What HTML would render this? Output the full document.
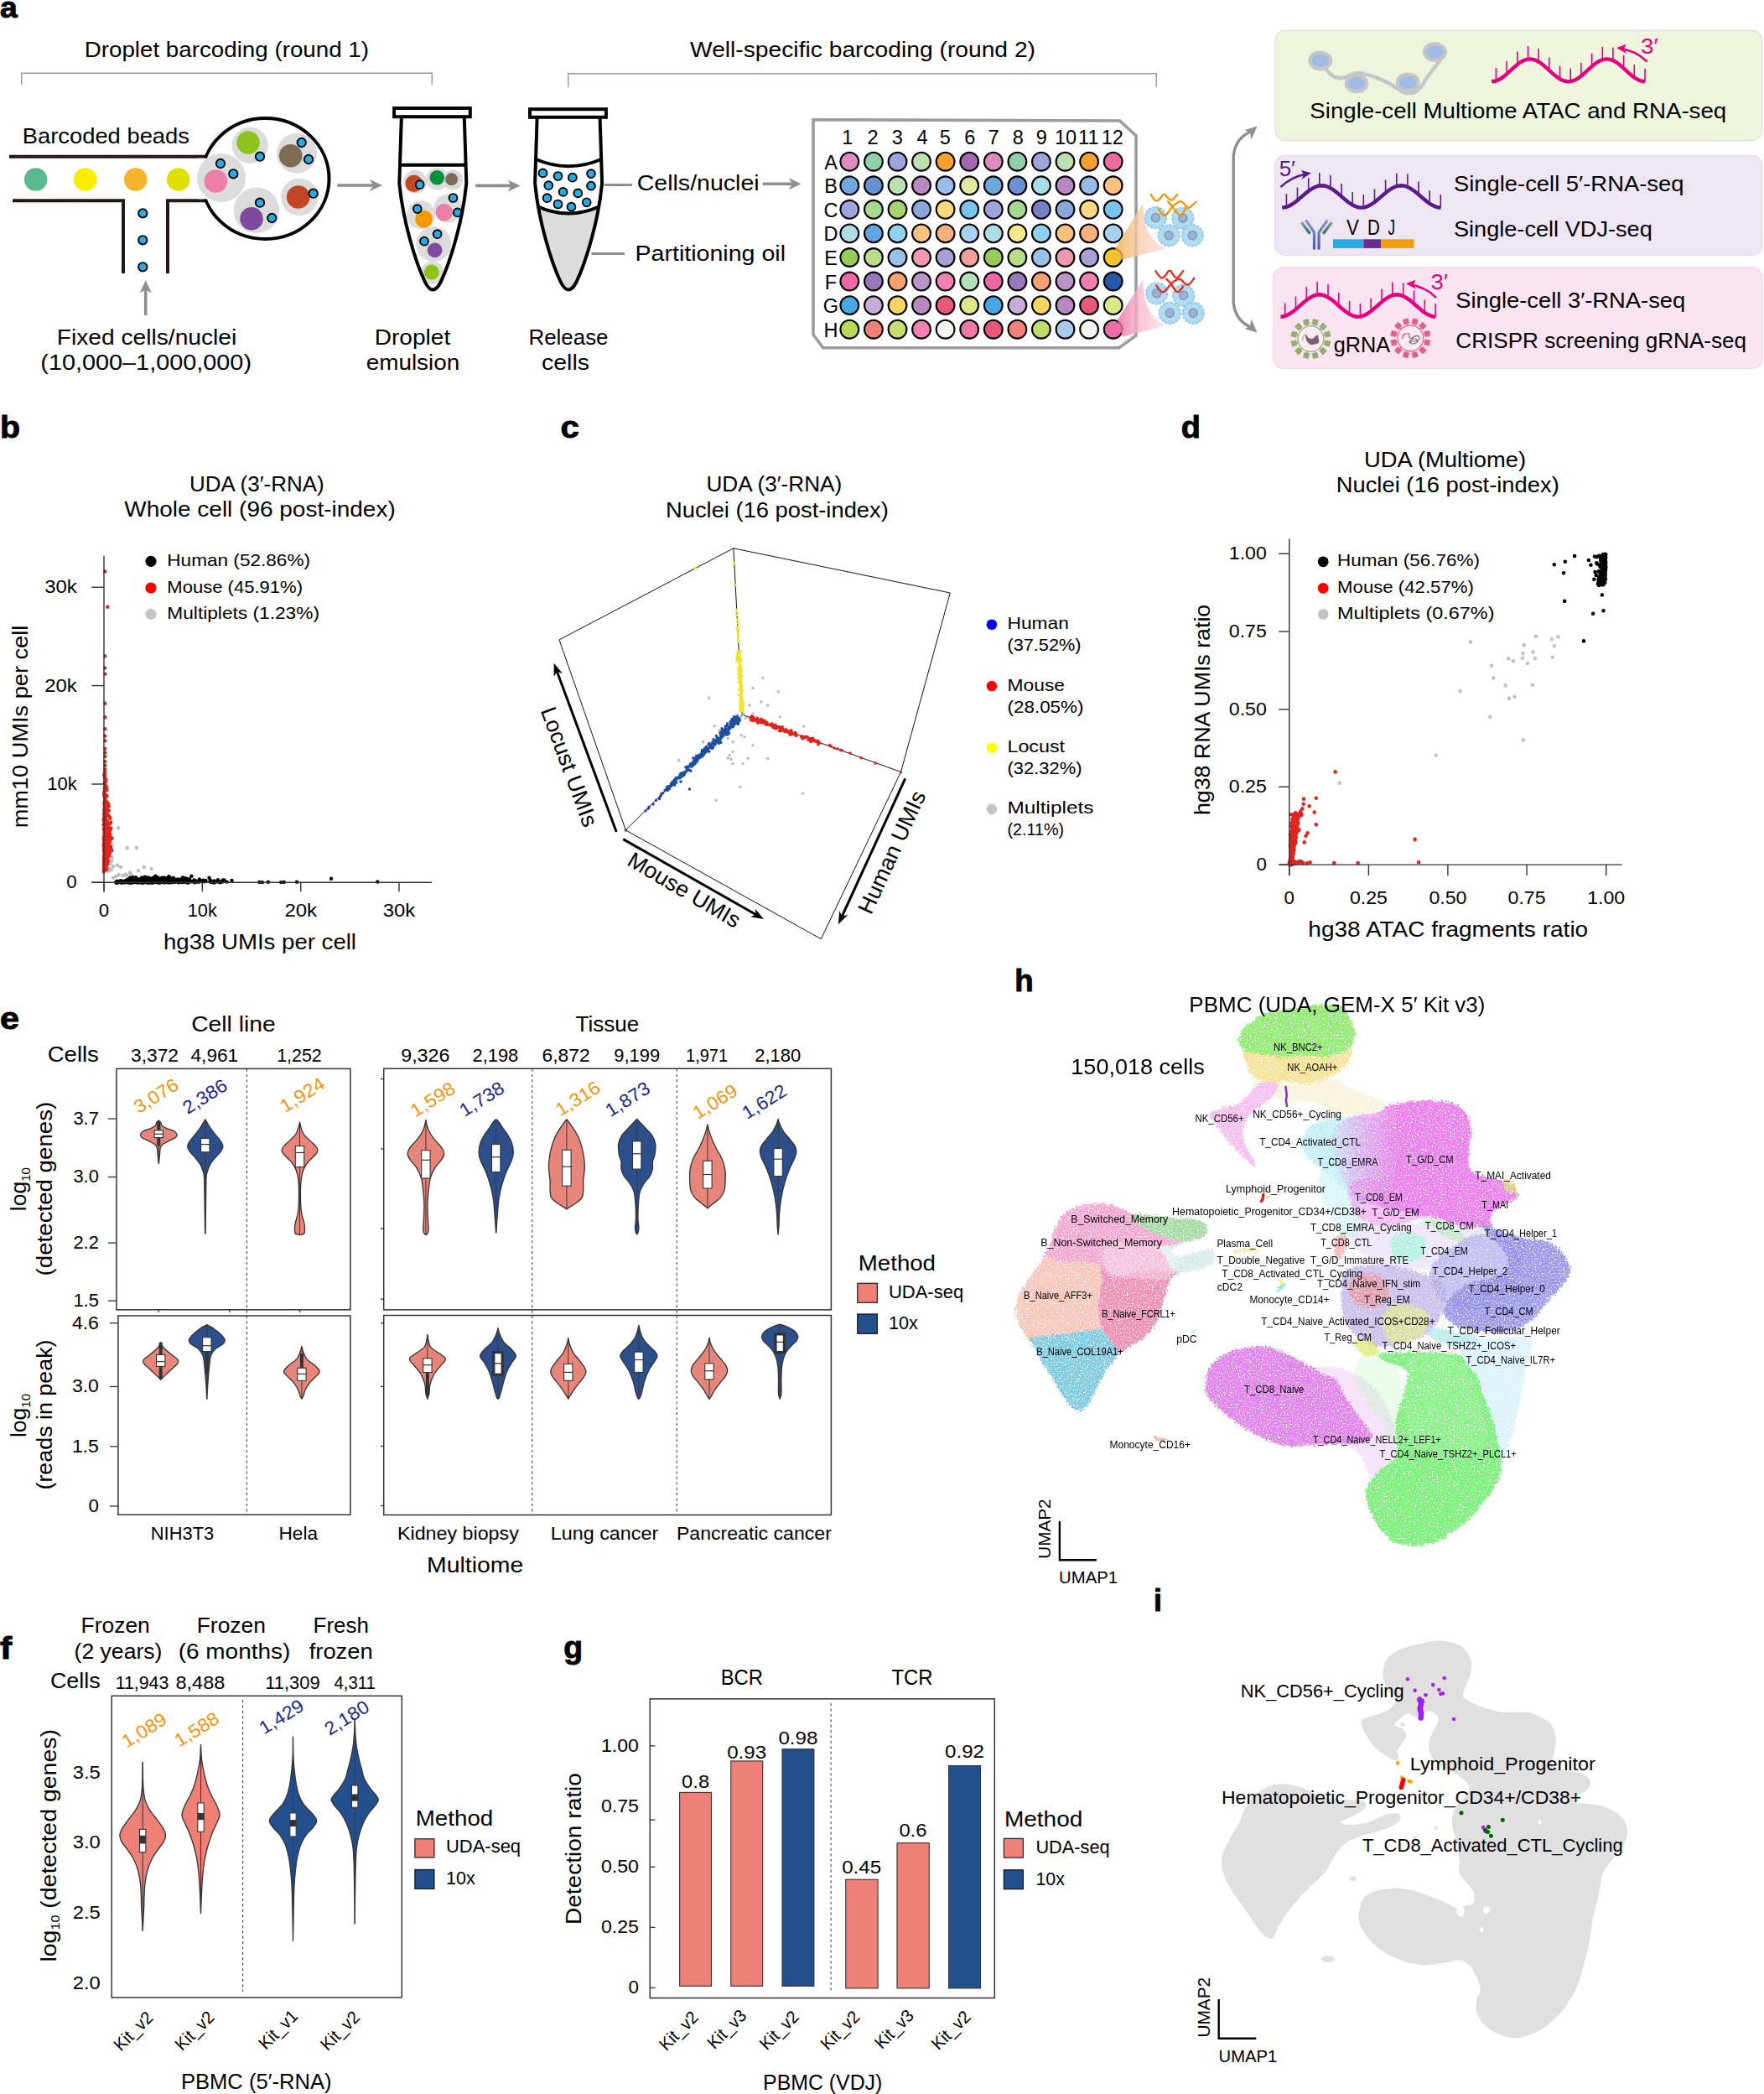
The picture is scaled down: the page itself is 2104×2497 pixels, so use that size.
<!DOCTYPE html>
<html><head><meta charset="utf-8"><title>Figure</title>
<style>html,body{margin:0;padding:0;background:#fff}svg{display:block}text{font-family:"Liberation Sans",sans-serif;fill:#000}</style>
</head><body>
<svg width="2104" height="2497" viewBox="0 0 2104 2497">
<rect width="2104" height="2497" fill="#fff"/>
<text x="0" y="20.7" font-size="35" textLength="20.7" lengthAdjust="spacingAndGlyphs" font-weight="bold" stroke="#000" stroke-width="0.9">a</text>
<text x="100.7" y="68.3" font-size="26.5" textLength="339.3" lengthAdjust="spacingAndGlyphs" >Droplet barcoding (round 1)</text>
<text x="823" y="68.3" font-size="26.5" textLength="412" lengthAdjust="spacingAndGlyphs" >Well-specific barcoding (round 2)</text>
<path d="M25.7,101 V87.2 H515.3 V101" fill="none" stroke="#9a9a9a" stroke-width="1.5"/>
<path d="M677.7,103.7 V87.7 H1379.3 V103.7" fill="none" stroke="#9a9a9a" stroke-width="1.5"/>
<text x="26.7" y="170.7" font-size="26.5" textLength="199.3" lengthAdjust="spacingAndGlyphs" >Barcoded beads</text>
<path d="M11,186.7 H246.5" fill="none" stroke="#231815" stroke-width="4"/>
<path d="M15,239.3 H147 V326" fill="none" stroke="#231815" stroke-width="4"/>
<path d="M200,326 V239.3 H246.5" fill="none" stroke="#231815" stroke-width="4"/>
<circle cx="42.7" cy="214" r="13.8" fill="#5bb98f"/>
<circle cx="101.7" cy="214" r="13.8" fill="#fbed00"/>
<circle cx="161.7" cy="214" r="13.8" fill="#f6b42c"/>
<circle cx="212.7" cy="214" r="13.8" fill="#dfe000"/>
<ellipse cx="316.5" cy="213" rx="76" ry="72" fill="#fff" stroke="#000" stroke-width="4"/>
<rect x="236" y="188.7" width="14" height="48.6" fill="#fff"/>
<circle cx="264" cy="212" r="29" fill="#dcdcdc"/>
<circle cx="298.3" cy="173.3" r="21.7" fill="#dcdcdc"/>
<circle cx="354" cy="182.7" r="24" fill="#dcdcdc"/>
<circle cx="357.3" cy="235" r="22.3" fill="#dcdcdc"/>
<circle cx="306" cy="250.7" r="27.3" fill="#dcdcdc"/>
<circle cx="257.3" cy="216" r="13.8" fill="#ec7fa8"/>
<circle cx="263" cy="195" r="5.2" fill="#29abe2" stroke="#000" stroke-width="1.9"/>
<circle cx="278.3" cy="207.3" r="5.2" fill="#29abe2" stroke="#000" stroke-width="1.9"/>
<circle cx="296" cy="170" r="13.8" fill="#8dc21f"/>
<circle cx="310" cy="186.7" r="5.2" fill="#29abe2" stroke="#000" stroke-width="1.9"/>
<circle cx="346.7" cy="185.7" r="13.8" fill="#7d6b57"/>
<circle cx="359.7" cy="170" r="5.2" fill="#29abe2" stroke="#000" stroke-width="1.9"/>
<circle cx="368" cy="190" r="5.2" fill="#29abe2" stroke="#000" stroke-width="1.9"/>
<circle cx="355.7" cy="235" r="13.8" fill="#c04722"/>
<circle cx="373.7" cy="230.7" r="5.2" fill="#29abe2" stroke="#000" stroke-width="1.9"/>
<circle cx="300" cy="260.7" r="13.8" fill="#7f4a9d"/>
<circle cx="310" cy="241.7" r="5.2" fill="#29abe2" stroke="#000" stroke-width="1.9"/>
<circle cx="324.3" cy="260" r="5.2" fill="#29abe2" stroke="#000" stroke-width="1.9"/>
<circle cx="170.3" cy="254.3" r="5.2" fill="#29abe2" stroke="#000" stroke-width="1.9"/>
<circle cx="170.3" cy="286.3" r="5.2" fill="#29abe2" stroke="#000" stroke-width="1.9"/>
<circle cx="170.3" cy="318.3" r="5.2" fill="#29abe2" stroke="#000" stroke-width="1.9"/>
<line x1="173.7" y1="376" x2="173.7" y2="344" stroke="#8e8e8e" stroke-width="3.6" />
<path d="M173.7,334 L166.7,349.5 L173.7,345.5 L180.7,349.5 Z" fill="#8e8e8e"/>
<text x="67.7" y="410.7" font-size="26.5" textLength="214.6" lengthAdjust="spacingAndGlyphs" >Fixed cells/nuclei</text>
<text x="48.3" y="440.7" font-size="26.5" textLength="251.7" lengthAdjust="spacingAndGlyphs" >(10,000–1,000,000)</text>
<line x1="402.3" y1="221" x2="447" y2="221" stroke="#8e8e8e" stroke-width="3.6" /><path d="M456,221 L441,214 L445.2,221 L441,228 Z" fill="#8e8e8e"/>
<line x1="567.2" y1="221.4" x2="611.6" y2="221.4" stroke="#8e8e8e" stroke-width="3.6" /><path d="M620.6,221.4 L605.6,214.4 L609.8,221.4 L605.6,228.4 Z" fill="#8e8e8e"/>
<line x1="909.7" y1="219.3" x2="946.7" y2="219.3" stroke="#8e8e8e" stroke-width="3.6" /><path d="M955.7,219.3 L940.7,212.3 L944.9,219.3 L940.7,226.3 Z" fill="#8e8e8e"/>
<path d="M478.8,141 L476.3,218.5 C480.3,262 495.3,312 506.8,336 Q516.3,355 525.8,336 C537.3,312 552.3,262 556.3,218.5 L553.8,141" fill="#fff" stroke="none"/>
<clipPath id="t1"><path d="M478.8,141 L476.3,218.5 C480.3,262 495.3,312 506.8,336 Q516.3,355 525.8,336 C537.3,312 552.3,262 556.3,218.5 L553.8,141"/></clipPath>
<g clip-path="url(#t1)"><circle cx="495.3" cy="216.8" r="14" fill="#dcdcdc"/><circle cx="521.6" cy="213.4" r="13.5" fill="#dcdcdc"/><circle cx="540.3" cy="214.6" r="12" fill="#dcdcdc"/><circle cx="534.4" cy="248.6" r="17" fill="#dcdcdc"/><circle cx="502" cy="256.3" r="17" fill="#dcdcdc"/><circle cx="517.4" cy="291.1" r="21" fill="#dcdcdc"/><circle cx="515.7" cy="325.1" r="13.6" fill="#dcdcdc"/><circle cx="493.7" cy="218.8" r="10.2" fill="#c04722"/><circle cx="521.3" cy="211.7" r="8.8" fill="#00913a"/><circle cx="538.6" cy="213.7" r="7.5" fill="#7d6b57"/><circle cx="529.8" cy="253.2" r="10.2" fill="#ec7fa8"/><circle cx="505.5" cy="261.4" r="10.4" fill="#f39800"/><circle cx="518.6" cy="298.3" r="8.8" fill="#7f4a9d"/><circle cx="514.8" cy="324.6" r="9" fill="#8dc21f"/></g>
<circle cx="500.7" cy="220.2" r="4.9" fill="#29abe2" stroke="#000" stroke-width="1.9"/>
<circle cx="540.5" cy="236" r="4.9" fill="#29abe2" stroke="#000" stroke-width="1.9"/>
<circle cx="545.8" cy="253.4" r="4.9" fill="#29abe2" stroke="#000" stroke-width="1.9"/>
<circle cx="497.8" cy="249.1" r="4.9" fill="#29abe2" stroke="#000" stroke-width="1.9"/>
<circle cx="521.6" cy="279.2" r="4.9" fill="#29abe2" stroke="#000" stroke-width="1.9"/>
<circle cx="506" cy="287.7" r="4.9" fill="#29abe2" stroke="#000" stroke-width="1.9"/>
<line x1="477.3" y1="196.7" x2="555.3" y2="196.7" stroke="#000" stroke-width="4" />
<path d="M478.8,141 L476.3,218.5 C480.3,262 495.3,312 506.8,336 Q516.3,355 525.8,336 C537.3,312 552.3,262 556.3,218.5 L553.8,141" fill="none" stroke="#000" stroke-width="4" stroke-linejoin="round"/>
<rect x="470.1" y="129" width="90.7" height="10.2" fill="#fff" stroke="#000" stroke-width="4"/>
<clipPath id="t2"><path d="M640.6,141 L638.1,218.5 C642.1,262 657.1,312 668.6,336 Q678.1,355 687.6,336 C699.1,312 714.1,262 718.1,218.5 L715.6,141"/></clipPath>
<path d="M630,246 Q678.1,263 726,246 V360 H630 Z" fill="#dcdcdc" clip-path="url(#t2)"/>
<path d="M638.1,189.5 Q678.1,207 718.1,189.5" fill="none" stroke="#000" stroke-width="4"/>
<path d="M640.6,246 Q678.1,263 715.6,246" fill="none" stroke="#000" stroke-width="4"/>
<path d="M640.6,141 L638.1,218.5 C642.1,262 657.1,312 668.6,336 Q678.1,355 687.6,336 C699.1,312 714.1,262 718.1,218.5 L715.6,141" fill="none" stroke="#000" stroke-width="4" stroke-linejoin="round"/>
<rect x="632" y="130.2" width="90.9" height="9.6" fill="#fff" stroke="#000" stroke-width="4"/>
<circle cx="647.5" cy="206.4" r="4.9" fill="#29abe2" stroke="#000" stroke-width="1.9"/>
<circle cx="665.5" cy="210" r="4.9" fill="#29abe2" stroke="#000" stroke-width="1.9"/>
<circle cx="682.9" cy="211.7" r="4.9" fill="#29abe2" stroke="#000" stroke-width="1.9"/>
<circle cx="705" cy="207.1" r="4.9" fill="#29abe2" stroke="#000" stroke-width="1.9"/>
<circle cx="654.3" cy="221.2" r="4.9" fill="#29abe2" stroke="#000" stroke-width="1.9"/>
<circle cx="671.6" cy="228.9" r="4.9" fill="#29abe2" stroke="#000" stroke-width="1.9"/>
<circle cx="689.3" cy="230.4" r="4.9" fill="#29abe2" stroke="#000" stroke-width="1.9"/>
<circle cx="705" cy="221.6" r="4.9" fill="#29abe2" stroke="#000" stroke-width="1.9"/>
<circle cx="652.6" cy="236.2" r="4.9" fill="#29abe2" stroke="#000" stroke-width="1.9"/>
<circle cx="665.5" cy="243.5" r="4.9" fill="#29abe2" stroke="#000" stroke-width="1.9"/>
<circle cx="681.5" cy="246.6" r="4.9" fill="#29abe2" stroke="#000" stroke-width="1.9"/>
<circle cx="699.7" cy="241.3" r="4.9" fill="#29abe2" stroke="#000" stroke-width="1.9"/>
<line x1="720.7" y1="220.5" x2="754" y2="220.5" stroke="#8e8e8e" stroke-width="3" />
<line x1="705.3" y1="302.5" x2="745" y2="302.5" stroke="#8e8e8e" stroke-width="3" />
<text x="759.7" y="227.3" font-size="26.5" textLength="146" lengthAdjust="spacingAndGlyphs" >Cells/nuclei</text>
<text x="757.5" y="310.5" font-size="26.5" textLength="179.5" lengthAdjust="spacingAndGlyphs" >Partitioning oil</text>
<text x="446.7" y="410.7" font-size="26.5" textLength="90.6" lengthAdjust="spacingAndGlyphs" >Droplet</text>
<text x="436.7" y="440.7" font-size="26.5" textLength="111.6" lengthAdjust="spacingAndGlyphs" >emulsion</text>
<text x="630.5" y="410.7" font-size="26.5" textLength="95" lengthAdjust="spacingAndGlyphs" >Release</text>
<text x="646" y="440.7" font-size="26.5" textLength="57" lengthAdjust="spacingAndGlyphs" >cells</text>
<path d="M970,142.7 L1335.5,144 L1355,161.7 L1355,400 L1334.8,414.8 L981.7,414.8 L970,399 Z" fill="#fff" stroke="#9c9c9c" stroke-width="3.6" stroke-linejoin="miter"/>
<text x="1010.7" y="171.7" font-size="23.5" text-anchor="middle" >1</text>
<text x="1041" y="171.7" font-size="23.5" text-anchor="middle" >2</text>
<text x="1070.3" y="171.7" font-size="23.5" text-anchor="middle" >3</text>
<text x="1100" y="171.7" font-size="23.5" text-anchor="middle" >4</text>
<text x="1127.3" y="171.7" font-size="23.5" text-anchor="middle" >5</text>
<text x="1156.7" y="171.7" font-size="23.5" text-anchor="middle" >6</text>
<text x="1185" y="171.7" font-size="23.5" text-anchor="middle" >7</text>
<text x="1214.3" y="171.7" font-size="23.5" text-anchor="middle" >8</text>
<text x="1242.3" y="171.7" font-size="23.5" text-anchor="middle" >9</text>
<text x="1271" y="171.7" font-size="23.5" text-anchor="middle" >10</text>
<text x="1298.3" y="171.7" font-size="23.5" text-anchor="middle" >11</text>
<text x="1326.7" y="171.7" font-size="23.5" text-anchor="middle" >12</text>
<defs><linearGradient id="cg1" x1="0" y1="0" x2="1" y2="0"><stop offset="0" stop-color="#f0b040" stop-opacity="0.8"/><stop offset="0.5" stop-color="#f7ccb0" stop-opacity="0.8"/><stop offset="1" stop-color="#fbe2dc" stop-opacity="0.85"/></linearGradient><linearGradient id="cg2" x1="0" y1="0" x2="1" y2="0"><stop offset="0" stop-color="#ec6ca0" stop-opacity="0.8"/><stop offset="0.5" stop-color="#f7bcd0" stop-opacity="0.8"/><stop offset="1" stop-color="#fce2ea" stop-opacity="0.85"/></linearGradient></defs>
<text x="991" y="201.7" font-size="23.5" text-anchor="middle" >A</text>
<circle cx="1013.3" cy="192.7" r="10.9" fill="#e08bc0" stroke="#000" stroke-width="2.1"/>
<circle cx="1041.9" cy="192.7" r="10.9" fill="#8fd0a8" stroke="#000" stroke-width="2.1"/>
<circle cx="1070.5" cy="192.7" r="10.9" fill="#a0a4dc" stroke="#000" stroke-width="2.1"/>
<circle cx="1099" cy="192.7" r="10.9" fill="#bde0b0" stroke="#000" stroke-width="2.1"/>
<circle cx="1127.6" cy="192.7" r="10.9" fill="#f5a030" stroke="#000" stroke-width="2.1"/>
<circle cx="1156.2" cy="192.7" r="10.9" fill="#a468b0" stroke="#000" stroke-width="2.1"/>
<circle cx="1184.8" cy="192.7" r="10.9" fill="#e08bc0" stroke="#000" stroke-width="2.1"/>
<circle cx="1213.4" cy="192.7" r="10.9" fill="#8fd0a8" stroke="#000" stroke-width="2.1"/>
<circle cx="1241.9" cy="192.7" r="10.9" fill="#a0a4dc" stroke="#000" stroke-width="2.1"/>
<circle cx="1270.5" cy="192.7" r="10.9" fill="#bde0b0" stroke="#000" stroke-width="2.1"/>
<circle cx="1299.1" cy="192.7" r="10.9" fill="#f5a030" stroke="#000" stroke-width="2.1"/>
<circle cx="1327.7" cy="192.7" r="10.9" fill="#ec6aa0" stroke="#000" stroke-width="2.1"/>
<text x="991" y="230.3" font-size="23.5" text-anchor="middle" >B</text>
<circle cx="1013.3" cy="221.3" r="10.9" fill="#6fa8dc" stroke="#000" stroke-width="2.1"/>
<circle cx="1041.9" cy="221.3" r="10.9" fill="#6a90d0" stroke="#000" stroke-width="2.1"/>
<circle cx="1070.5" cy="221.3" r="10.9" fill="#bde0b0" stroke="#000" stroke-width="2.1"/>
<circle cx="1099" cy="221.3" r="10.9" fill="#b888c0" stroke="#000" stroke-width="2.1"/>
<circle cx="1127.6" cy="221.3" r="10.9" fill="#98bce8" stroke="#000" stroke-width="2.1"/>
<circle cx="1156.2" cy="221.3" r="10.9" fill="#e0eaa0" stroke="#000" stroke-width="2.1"/>
<circle cx="1184.8" cy="221.3" r="10.9" fill="#6fa8dc" stroke="#000" stroke-width="2.1"/>
<circle cx="1213.4" cy="221.3" r="10.9" fill="#6a90d0" stroke="#000" stroke-width="2.1"/>
<circle cx="1241.9" cy="221.3" r="10.9" fill="#a8dce8" stroke="#000" stroke-width="2.1"/>
<circle cx="1270.5" cy="221.3" r="10.9" fill="#b888c0" stroke="#000" stroke-width="2.1"/>
<circle cx="1299.1" cy="221.3" r="10.9" fill="#98bce8" stroke="#000" stroke-width="2.1"/>
<circle cx="1327.7" cy="221.3" r="10.9" fill="#fac080" stroke="#000" stroke-width="2.1"/>
<text x="991" y="258.8" font-size="23.5" text-anchor="middle" >C</text>
<circle cx="1013.3" cy="249.8" r="10.9" fill="#a0a4dc" stroke="#000" stroke-width="2.1"/>
<circle cx="1041.9" cy="249.8" r="10.9" fill="#a8d890" stroke="#000" stroke-width="2.1"/>
<circle cx="1070.5" cy="249.8" r="10.9" fill="#a8d470" stroke="#000" stroke-width="2.1"/>
<circle cx="1099" cy="249.8" r="10.9" fill="#88a8dc" stroke="#000" stroke-width="2.1"/>
<circle cx="1127.6" cy="249.8" r="10.9" fill="#fcd880" stroke="#000" stroke-width="2.1"/>
<circle cx="1156.2" cy="249.8" r="10.9" fill="#78c4ec" stroke="#000" stroke-width="2.1"/>
<circle cx="1184.8" cy="249.8" r="10.9" fill="#a0a4dc" stroke="#000" stroke-width="2.1"/>
<circle cx="1213.4" cy="249.8" r="10.9" fill="#a8d890" stroke="#000" stroke-width="2.1"/>
<circle cx="1241.9" cy="249.8" r="10.9" fill="#7880c4" stroke="#000" stroke-width="2.1"/>
<circle cx="1270.5" cy="249.8" r="10.9" fill="#88a8dc" stroke="#000" stroke-width="2.1"/>
<circle cx="1299.1" cy="249.8" r="10.9" fill="#fcd880" stroke="#000" stroke-width="2.1"/>
<circle cx="1327.7" cy="249.8" r="10.9" fill="#78c4ec" stroke="#000" stroke-width="2.1"/>
<text x="991" y="287.4" font-size="23.5" text-anchor="middle" >D</text>
<circle cx="1013.3" cy="278.4" r="10.9" fill="#b0dce8" stroke="#000" stroke-width="2.1"/>
<circle cx="1041.9" cy="278.4" r="10.9" fill="#60a4e0" stroke="#000" stroke-width="2.1"/>
<circle cx="1070.5" cy="278.4" r="10.9" fill="#90d0f0" stroke="#000" stroke-width="2.1"/>
<circle cx="1099" cy="278.4" r="10.9" fill="#fac080" stroke="#000" stroke-width="2.1"/>
<circle cx="1127.6" cy="278.4" r="10.9" fill="#f8b080" stroke="#000" stroke-width="2.1"/>
<circle cx="1156.2" cy="278.4" r="10.9" fill="#a8d0f0" stroke="#000" stroke-width="2.1"/>
<circle cx="1184.8" cy="278.4" r="10.9" fill="#b0dce8" stroke="#000" stroke-width="2.1"/>
<circle cx="1213.4" cy="278.4" r="10.9" fill="#f8e888" stroke="#000" stroke-width="2.1"/>
<circle cx="1241.9" cy="278.4" r="10.9" fill="#90d0f0" stroke="#000" stroke-width="2.1"/>
<circle cx="1270.5" cy="278.4" r="10.9" fill="#fac080" stroke="#000" stroke-width="2.1"/>
<circle cx="1299.1" cy="278.4" r="10.9" fill="#f8b080" stroke="#000" stroke-width="2.1"/>
<circle cx="1327.7" cy="278.4" r="10.9" fill="#a8d0f0" stroke="#000" stroke-width="2.1"/>
<text x="991" y="316" font-size="23.5" text-anchor="middle" >E</text>
<circle cx="1013.3" cy="307" r="10.9" fill="#98cc58" stroke="#000" stroke-width="2.1"/>
<circle cx="1041.9" cy="307" r="10.9" fill="#b8dc88" stroke="#000" stroke-width="2.1"/>
<circle cx="1070.5" cy="307" r="10.9" fill="#98c0e8" stroke="#000" stroke-width="2.1"/>
<circle cx="1099" cy="307" r="10.9" fill="#f098b0" stroke="#000" stroke-width="2.1"/>
<circle cx="1127.6" cy="307" r="10.9" fill="#a8a0d4" stroke="#000" stroke-width="2.1"/>
<circle cx="1156.2" cy="307" r="10.9" fill="#f0a098" stroke="#000" stroke-width="2.1"/>
<circle cx="1184.8" cy="307" r="10.9" fill="#98cc58" stroke="#000" stroke-width="2.1"/>
<circle cx="1213.4" cy="307" r="10.9" fill="#b8dc88" stroke="#000" stroke-width="2.1"/>
<circle cx="1241.9" cy="307" r="10.9" fill="#98c0e8" stroke="#000" stroke-width="2.1"/>
<circle cx="1270.5" cy="307" r="10.9" fill="#f098b0" stroke="#000" stroke-width="2.1"/>
<circle cx="1299.1" cy="307" r="10.9" fill="#a8a0d4" stroke="#000" stroke-width="2.1"/>
<circle cx="1327.7" cy="307" r="10.9" fill="#f4c430" stroke="#000" stroke-width="2.1"/>
<text x="991" y="344.5" font-size="23.5" text-anchor="middle" >F</text>
<circle cx="1013.3" cy="335.5" r="10.9" fill="#ec68a4" stroke="#000" stroke-width="2.1"/>
<circle cx="1041.9" cy="335.5" r="10.9" fill="#9878bc" stroke="#000" stroke-width="2.1"/>
<circle cx="1070.5" cy="335.5" r="10.9" fill="#f4a070" stroke="#000" stroke-width="2.1"/>
<circle cx="1099" cy="335.5" r="10.9" fill="#b894c8" stroke="#000" stroke-width="2.1"/>
<circle cx="1127.6" cy="335.5" r="10.9" fill="#f080b0" stroke="#000" stroke-width="2.1"/>
<circle cx="1156.2" cy="335.5" r="10.9" fill="#b4e0b8" stroke="#000" stroke-width="2.1"/>
<circle cx="1184.8" cy="335.5" r="10.9" fill="#ec68a4" stroke="#000" stroke-width="2.1"/>
<circle cx="1213.4" cy="335.5" r="10.9" fill="#9878bc" stroke="#000" stroke-width="2.1"/>
<circle cx="1241.9" cy="335.5" r="10.9" fill="#f4a070" stroke="#000" stroke-width="2.1"/>
<circle cx="1270.5" cy="335.5" r="10.9" fill="#b894c8" stroke="#000" stroke-width="2.1"/>
<circle cx="1299.1" cy="335.5" r="10.9" fill="#f080b0" stroke="#000" stroke-width="2.1"/>
<circle cx="1327.7" cy="335.5" r="10.9" fill="#2858a8" stroke="#000" stroke-width="2.1"/>
<text x="991" y="373.1" font-size="23.5" text-anchor="middle" >G</text>
<circle cx="1013.3" cy="364.1" r="10.9" fill="#48a8e4" stroke="#000" stroke-width="2.1"/>
<circle cx="1041.9" cy="364.1" r="10.9" fill="#c8acd8" stroke="#000" stroke-width="2.1"/>
<circle cx="1070.5" cy="364.1" r="10.9" fill="#f8d460" stroke="#000" stroke-width="2.1"/>
<circle cx="1099" cy="364.1" r="10.9" fill="#b888c0" stroke="#000" stroke-width="2.1"/>
<circle cx="1127.6" cy="364.1" r="10.9" fill="#e85878" stroke="#000" stroke-width="2.1"/>
<circle cx="1156.2" cy="364.1" r="10.9" fill="#dce888" stroke="#000" stroke-width="2.1"/>
<circle cx="1184.8" cy="364.1" r="10.9" fill="#48a8e4" stroke="#000" stroke-width="2.1"/>
<circle cx="1213.4" cy="364.1" r="10.9" fill="#c8acd8" stroke="#000" stroke-width="2.1"/>
<circle cx="1241.9" cy="364.1" r="10.9" fill="#f8d460" stroke="#000" stroke-width="2.1"/>
<circle cx="1270.5" cy="364.1" r="10.9" fill="#b888c0" stroke="#000" stroke-width="2.1"/>
<circle cx="1299.1" cy="364.1" r="10.9" fill="#e85878" stroke="#000" stroke-width="2.1"/>
<circle cx="1327.7" cy="364.1" r="10.9" fill="#dce888" stroke="#000" stroke-width="2.1"/>
<text x="991" y="401.7" font-size="23.5" text-anchor="middle" >H</text>
<circle cx="1013.3" cy="392.7" r="10.9" fill="#bcd858" stroke="#000" stroke-width="2.1"/>
<circle cx="1041.9" cy="392.7" r="10.9" fill="#f08078" stroke="#000" stroke-width="2.1"/>
<circle cx="1070.5" cy="392.7" r="10.9" fill="#c8dc70" stroke="#000" stroke-width="2.1"/>
<circle cx="1099" cy="392.7" r="10.9" fill="#f080b0" stroke="#000" stroke-width="2.1"/>
<circle cx="1127.6" cy="392.7" r="10.9" fill="#f4f4f0" stroke="#000" stroke-width="2.1"/>
<circle cx="1156.2" cy="392.7" r="10.9" fill="#f078a8" stroke="#000" stroke-width="2.1"/>
<circle cx="1184.8" cy="392.7" r="10.9" fill="#e85878" stroke="#000" stroke-width="2.1"/>
<circle cx="1213.4" cy="392.7" r="10.9" fill="#f08078" stroke="#000" stroke-width="2.1"/>
<circle cx="1241.9" cy="392.7" r="10.9" fill="#c0dc68" stroke="#000" stroke-width="2.1"/>
<circle cx="1270.5" cy="392.7" r="10.9" fill="#a8ccf0" stroke="#000" stroke-width="2.1"/>
<circle cx="1299.1" cy="392.7" r="10.9" fill="#f4f4f0" stroke="#000" stroke-width="2.1"/>
<circle cx="1327.7" cy="392.7" r="10.9" fill="#ec6ca8" stroke="#000" stroke-width="2.1"/>
<path d="M1330,296.4 L1363.5,242 Q1364,275 1376.9,286.9 Q1383,293 1391.2,296.4 L1337.7,309.8 Z" fill="url(#cg1)"/>
<path d="M1332.9,381.5 L1363.5,333.2 Q1364,366 1376.9,378.6 Q1383,385 1390.3,388.6 L1338.7,401.5 Z" fill="url(#cg2)"/>
<circle cx="1378.3" cy="259.6" r="12.7" fill="#aedcf2" stroke="#90c6ea" stroke-width="1.8" stroke-dasharray="3.2 1.4"/>
<circle cx="1378.3" cy="259.6" r="5.1" fill="#93b4dc" stroke="#8c8c98" stroke-width="1.2"/>
<circle cx="1410.8" cy="260.1" r="12.7" fill="#aedcf2" stroke="#90c6ea" stroke-width="1.8" stroke-dasharray="3.2 1.4"/>
<circle cx="1410.8" cy="260.1" r="5.1" fill="#93b4dc" stroke="#8c8c98" stroke-width="1.2"/>
<circle cx="1394.1" cy="280.7" r="12.7" fill="#aedcf2" stroke="#90c6ea" stroke-width="1.8" stroke-dasharray="3.2 1.4"/>
<circle cx="1394.1" cy="280.7" r="5.1" fill="#93b4dc" stroke="#8c8c98" stroke-width="1.2"/>
<circle cx="1422.3" cy="280.7" r="12.7" fill="#aedcf2" stroke="#90c6ea" stroke-width="1.8" stroke-dasharray="3.2 1.4"/>
<circle cx="1422.3" cy="280.7" r="5.1" fill="#93b4dc" stroke="#8c8c98" stroke-width="1.2"/>
<path d="M1372.6,231.9C1373.6,233.4 1373.8,234.5 1375.9,236.7C1378.1,239 1377.3,239.5 1379.7,239.4C1382.2,239.3 1381.5,238.6 1384,236.2C1386.6,233.9 1385.8,231.8 1388.3,231.7C1390.9,231.5 1390.1,233.7 1392.6,235.8C1395.2,237.9 1394.5,238.6 1396.9,238.6C1399.4,238.6 1398.6,237.8 1400.8,235.8C1402.9,233.8 1403.1,233.1 1404.1,231.9" fill="none" stroke="#f39200" stroke-width="2.3" stroke-linecap="round"/>
<path d="M1381.7,248.7C1382.8,250.4 1383.2,252 1385.5,254.4C1387.8,256.8 1387,257.1 1389.3,256.8C1391.6,256.5 1390.3,256.7 1393.1,253.4C1396,250.1 1395.1,249.5 1398.9,245.8C1402.6,242.1 1402.4,242.6 1405.5,241C1408.7,239.4 1407.1,239.7 1409.4,240.5C1411.7,241.4 1410.9,241.7 1413.2,243.9C1415.5,246 1414.7,247.1 1417,247.7C1419.3,248.3 1418,247.9 1420.8,245.8C1423.7,243.6 1424.8,242.1 1426.6,240.5" fill="none" stroke="#f39200" stroke-width="2.3" stroke-linecap="round"/>
<path d="M1393.1,240.5C1394.6,242.1 1395.3,242.6 1397.9,245.8C1400.5,248.9 1398.9,247.8 1401.7,251C1404.6,254.3 1404.6,256.1 1407.4,256.8C1410.3,257.5 1409.3,255.9 1411.3,253.4C1413.3,251 1413.3,250.1 1414.1,248.7" fill="none" stroke="#f39200" stroke-width="2.3" stroke-linecap="round"/>
<circle cx="1379.7" cy="349.9" r="12.7" fill="#aedcf2" stroke="#90c6ea" stroke-width="1.8" stroke-dasharray="3.2 1.4"/>
<circle cx="1379.7" cy="349.9" r="5.1" fill="#93b4dc" stroke="#8c8c98" stroke-width="1.2"/>
<circle cx="1411.7" cy="352.3" r="12.7" fill="#aedcf2" stroke="#90c6ea" stroke-width="1.8" stroke-dasharray="3.2 1.4"/>
<circle cx="1411.7" cy="352.3" r="5.1" fill="#93b4dc" stroke="#8c8c98" stroke-width="1.2"/>
<circle cx="1395.3" cy="373.3" r="12.7" fill="#aedcf2" stroke="#90c6ea" stroke-width="1.8" stroke-dasharray="3.2 1.4"/>
<circle cx="1395.3" cy="373.3" r="5.1" fill="#93b4dc" stroke="#8c8c98" stroke-width="1.2"/>
<circle cx="1423.2" cy="373.3" r="12.7" fill="#aedcf2" stroke="#90c6ea" stroke-width="1.8" stroke-dasharray="3.2 1.4"/>
<circle cx="1423.2" cy="373.3" r="5.1" fill="#93b4dc" stroke="#8c8c98" stroke-width="1.2"/>
<path d="M1378.3,323.2C1379.5,324.8 1379.7,326 1382.1,328.4C1384.6,330.9 1383.9,331.6 1386.4,331.3C1389,331 1388.2,330.1 1390.7,327.5C1393.3,324.9 1392.4,322.7 1395,322.7C1397.6,322.7 1396.7,324.9 1399.3,327.5C1401.9,330.1 1401.2,331.2 1403.6,331.3C1406.1,331.4 1405.2,330.5 1407.4,328C1409.7,325.5 1410.1,324.5 1411.3,323" fill="none" stroke="#e8281e" stroke-width="2.3" stroke-linecap="round"/>
<path d="M1379.3,340.4C1380.6,342.1 1381.1,343.8 1383.6,346.1C1386,348.4 1385.1,348.3 1387.4,348C1389.7,347.7 1388.6,347.7 1391.2,345.2C1393.8,342.6 1392.8,342.6 1396,339.4C1399.1,336.3 1398.3,336.5 1401.7,334.6C1405.2,332.8 1404.6,332.8 1407.4,333.2C1410.3,333.6 1408.7,334.2 1411.3,336.1C1413.9,337.9 1413.5,339 1416,339.4C1418.6,339.9 1417.4,339.8 1419.9,337.5C1422.3,335.2 1422.9,333.5 1424.2,331.8" fill="none" stroke="#e8281e" stroke-width="2.3" stroke-linecap="round"/>
<path d="M1391.2,332.7C1392.6,334.2 1393.4,334.4 1396,337.5C1398.6,340.7 1397.4,340.1 1399.8,343.2C1402.2,346.4 1401.5,347.4 1404.1,348C1406.7,348.6 1406.3,347.2 1408.4,345.2C1410.6,343.1 1410.4,342.5 1411.3,341.3" fill="none" stroke="#e8281e" stroke-width="2.3" stroke-linecap="round"/>
<path d="M1493,156.5 Q1473.5,164 1471.2,186 V361 Q1473.5,383 1493,390.5" fill="none" stroke="#8e8e8e" stroke-width="3.4"/>
<path d="M1499.5,150.5 L1484.5,155 L1491,158 L1492.5,166.5 Z" fill="#8e8e8e"/>
<path d="M1499.5,396.5 L1484.5,392 L1491,389 L1492.5,380.5 Z" fill="#8e8e8e"/>
<rect x="1521" y="36.2" width="580.5" height="131.5" fill="#eff5dc" stroke="#dedede" stroke-width="1.2" rx="12"/>
<rect x="1520.5" y="185.3" width="581.5" height="119" fill="#efe6f3" stroke="#e2dde6" stroke-width="1.2" rx="12"/>
<rect x="1518.8" y="318.8" width="583.5" height="120.5" fill="#fbe4f1" stroke="#ecdde6" stroke-width="1.2" rx="12"/>
<path d="M1580.6,80.8C1582.7,83.2 1583,85.2 1587.4,88.8C1591.8,92.3 1590.6,91.6 1595.4,92.7C1600.1,93.8 1598.5,93.4 1603.3,92.4C1608,91.4 1606.5,90.8 1611.2,89.3C1616,87.8 1613.7,87.6 1619.2,87.4C1624.6,87.2 1621.2,86.6 1629.4,88.8C1637.5,90.9 1636.2,90 1646.4,94.4C1656.6,98.8 1655.6,99.1 1663.4,103.5C1671.2,107.9 1667.7,107 1672.4,109.2C1677.2,111.4 1673.5,111.5 1679.3,110.9C1685,110.2 1684.6,112.8 1691.7,106.9C1698.9,100.9 1695.2,101.6 1703.1,91C1710.9,80.5 1713.4,77.5 1717.8,71.7" fill="none" stroke="#c6c6c8" stroke-width="4.4" stroke-linejoin="round"/>
<ellipse cx="1574.7" cy="72.3" rx="12.4" ry="9.8" fill="#a0bce4" stroke="#c6c6c8" stroke-width="4.2"/>
<ellipse cx="1618" cy="99.5" rx="12.4" ry="9.8" fill="#a0bce4" stroke="#c6c6c8" stroke-width="4.2"/>
<ellipse cx="1679.3" cy="98.4" rx="12.4" ry="9.8" fill="#a0bce4" stroke="#c6c6c8" stroke-width="4.2"/>
<ellipse cx="1711.3" cy="62.1" rx="12.4" ry="9.8" fill="#a0bce4" stroke="#c6c6c8" stroke-width="4.2"/>
<path d="M1784.4,96.4 v-15.5M1797.1,88.3 v-15.5M1809.8,77 v-15.5M1822.5,70.6 v-15.5M1835.1,73.6 v-15.5M1847.8,83.9 v-15.5M1860.5,94.2 v-15.5M1873.2,97.1 v-15.5M1885.9,90.6 v-15.5M1898.6,79.3 v-15.5M1911.3,71.2 v-15.5M1923.9,72.2 v-15.5M1936.6,81.4 v-15.5M1949.3,92.4 v-15.5M1962,97.3 v-15.5" fill="none" stroke="#e6007e" stroke-width="1.6"/><path d="M1779.1,97.3 L1782.9,96.8 L1786.7,95.5 L1790.5,93.4 L1794.4,90.6 L1798.2,87.3 L1802,83.8 L1805.8,80.4 L1809.6,77.1 L1813.4,74.3 L1817.2,72.2 L1821.1,70.9 L1824.9,70.4 L1828.7,70.9 L1832.5,72.2 L1836.3,74.3 L1840.1,77.1 L1843.9,80.4 L1847.8,83.8 L1851.6,87.3 L1855.4,90.6 L1859.2,93.4 L1863,95.5 L1866.8,96.8 L1870.7,97.3 L1874.5,96.8 L1878.3,95.5 L1882.1,93.4 L1885.9,90.6 L1889.7,87.3 L1893.5,83.9 L1897.4,80.4 L1901.2,77.1 L1905,74.3 L1908.8,72.2 L1912.6,70.9 L1916.4,70.4 L1920.2,70.9 L1924.1,72.2 L1927.9,74.3 L1931.7,77.1 L1935.5,80.4 L1939.3,83.8 L1943.1,87.3 L1946.9,90.6 L1950.8,93.4 L1954.6,95.5 L1958.4,96.8 L1962.2,97.3" fill="none" stroke="#e6007e" stroke-width="4.4" stroke-linejoin="round" stroke-linecap="butt"/>
<path d="M1964.5,73.5 Q1951,60 1932,58" fill="none" stroke="#e6007e" stroke-width="2.5"/>
<path d="M1928,57 L1939.5,52.8 L1937,58.5 L1940,64 Z" fill="#e6007e"/>
<text x="1957.1" y="64.2" font-size="26.5" textLength="20.6" lengthAdjust="spacingAndGlyphs" style="fill:#e6007e" >3′</text>
<text x="1562.3" y="140.5" font-size="26.5" textLength="496.9" lengthAdjust="spacingAndGlyphs" >Single-cell Multiome ATAC and RNA-seq</text>
<path d="M1534.4,246.8 v-15.5M1547.5,238.9 v-15.5M1560.7,227.8 v-15.5M1573.8,221.4 v-15.5M1586.9,224.3 v-15.5M1600.1,234.4 v-15.5M1613.2,244.5 v-15.5M1626.3,247.4 v-15.5M1639.5,241.1 v-15.5M1652.6,230 v-15.5M1665.8,222 v-15.5M1678.9,222.9 v-15.5M1692,232 v-15.5M1705.2,242.8 v-15.5M1718.3,247.6 v-15.5" fill="none" stroke="#5b1a8c" stroke-width="1.6"/><path d="M1529.1,247.6 L1533,247.2 L1537,245.8 L1540.9,243.7 L1544.9,241 L1548.8,237.8 L1552.8,234.4 L1556.7,231 L1560.7,227.8 L1564.6,225.1 L1568.6,223 L1572.5,221.6 L1576.4,221.2 L1580.4,221.6 L1584.3,223 L1588.3,225.1 L1592.2,227.8 L1596.2,231 L1600.1,234.4 L1604.1,237.8 L1608,241 L1612,243.7 L1615.9,245.8 L1619.9,247.2 L1623.8,247.6 L1627.7,247.2 L1631.7,245.8 L1635.6,243.7 L1639.6,241 L1643.5,237.8 L1647.5,234.4 L1651.4,231 L1655.4,227.8 L1659.3,225.1 L1663.3,223 L1667.2,221.6 L1671.2,221.2 L1675.1,221.6 L1679,223 L1683,225.1 L1686.9,227.8 L1690.9,231 L1694.8,234.4 L1698.8,237.8 L1702.7,241 L1706.7,243.7 L1710.6,245.8 L1714.6,247.2 L1718.5,247.6" fill="none" stroke="#5b1a8c" stroke-width="4.4" stroke-linejoin="round" stroke-linecap="butt"/>
<path d="M1527.4,223 Q1540,211 1558,207.5" fill="none" stroke="#5b1a8c" stroke-width="2.5"/>
<path d="M1564,206.3 L1552,203 L1555,208 L1552.5,214 Z" fill="#5b1a8c"/>
<text x="1525.7" y="210.3" font-size="26.5" textLength="19.3" lengthAdjust="spacingAndGlyphs" style="fill:#5b1a8c" >5′</text>
<text x="1733.9" y="228.1" font-size="26.5" textLength="274.6" lengthAdjust="spacingAndGlyphs" >Single-cell 5′-RNA-seq</text>
<text x="1733.9" y="282.2" font-size="26.5" textLength="236.9" lengthAdjust="spacingAndGlyphs" >Single-cell VDJ-seq</text>
<rect x="1590" y="285.3" width="36.3" height="10.6" fill="#29abe2"/>
<rect x="1626.3" y="285.3" width="21" height="10.6" fill="#662d91"/>
<rect x="1647.2" y="285.3" width="39.4" height="10.6" fill="#f39c12"/>
<text x="1606.1" y="279.7" font-size="25.7" textLength="14.8" lengthAdjust="spacingAndGlyphs" >V</text>
<text x="1631.1" y="279.7" font-size="25.7" textLength="14.8" lengthAdjust="spacingAndGlyphs" >D</text>
<text x="1655.5" y="279.7" font-size="25.7" textLength="8.5" lengthAdjust="spacingAndGlyphs" >J</text>
<defs><linearGradient id="abg" x1="0" y1="1" x2="0" y2="0"><stop offset="0" stop-color="#4a5aa6"/><stop offset="1" stop-color="#8a98d6"/></linearGradient><linearGradient id="abh" x1="0" y1="1" x2="0" y2="0"><stop offset="0" stop-color="#3f6f68"/><stop offset="1" stop-color="#7aa090"/></linearGradient></defs>
<path d="M1567.5,297.6 V277 L1557.4,262.5 M1573.1,297.6 V277 L1583.3,262.5" fill="none" stroke="url(#abg)" stroke-width="3.2" stroke-linejoin="round"/>
<path d="M1561.6,277.6 L1553.2,266.3 M1579,277.6 L1587.6,266.3" fill="none" stroke="url(#abh)" stroke-width="3.4" stroke-linecap="round"/>
<path d="M1532.7,376.9 v-15.5M1545.5,368.9 v-15.5M1558.3,357.8 v-15.5M1571.1,351.5 v-15.5M1584,354.4 v-15.5M1596.8,364.5 v-15.5M1609.6,374.6 v-15.5M1622.4,377.5 v-15.5M1635.2,371.1 v-15.5M1648,360 v-15.5M1660.8,352.1 v-15.5M1673.7,353 v-15.5M1686.5,362.1 v-15.5M1699.3,372.9 v-15.5M1712.1,377.7 v-15.5" fill="none" stroke="#e6007e" stroke-width="1.6"/><path d="M1527.4,377.7 L1531.3,377.3 L1535.1,375.9 L1539,373.8 L1542.8,371.1 L1546.7,367.9 L1550.5,364.5 L1554.4,361.1 L1558.2,357.9 L1562.1,355.2 L1565.9,353.1 L1569.8,351.7 L1573.6,351.3 L1577.5,351.7 L1581.3,353.1 L1585.2,355.2 L1589,357.9 L1592.9,361.1 L1596.7,364.5 L1600.6,367.9 L1604.4,371.1 L1608.3,373.8 L1612.1,375.9 L1616,377.3 L1619.8,377.7 L1623.7,377.3 L1627.6,375.9 L1631.4,373.8 L1635.3,371.1 L1639.1,367.9 L1643,364.5 L1646.8,361.1 L1650.7,357.9 L1654.5,355.2 L1658.4,353.1 L1662.2,351.7 L1666.1,351.3 L1669.9,351.7 L1673.8,353.1 L1677.6,355.2 L1681.5,357.9 L1685.3,361.1 L1689.2,364.5 L1693,367.9 L1696.9,371.1 L1700.7,373.8 L1704.6,375.9 L1708.4,377.3 L1712.3,377.7" fill="none" stroke="#e6007e" stroke-width="4.4" stroke-linejoin="round" stroke-linecap="butt"/>
<path d="M1713,354.8 Q1700,342 1681,339" fill="none" stroke="#e6007e" stroke-width="2.5"/>
<path d="M1677,338 L1688.5,333.8 L1686,339.5 L1689,345 Z" fill="#e6007e"/>
<text x="1706.5" y="345.2" font-size="26.5" textLength="20.5" lengthAdjust="spacingAndGlyphs" style="fill:#e6007e" >3′</text>
<text x="1736.3" y="366.7" font-size="26.5" textLength="273.9" lengthAdjust="spacingAndGlyphs" >Single-cell 3′-RNA-seq</text>
<text x="1736.3" y="414.7" font-size="26.5" textLength="346.8" lengthAdjust="spacingAndGlyphs" >CRISPR screening gRNA-seq</text>
<text x="1590.7" y="419.8" font-size="26.5" textLength="67.5" lengthAdjust="spacingAndGlyphs" >gRNA</text>
<rect x="1579.9" y="405.9" width="6.8" height="6.8" fill="#94ad72" transform="rotate(15 1583.3 409.3)"/><line x1="1578.5" y1="408" x2="1583.3" y2="409.3" stroke="#94ad72" stroke-width="1.3" /><rect x="1574.6" y="415.2" width="6.8" height="6.8" fill="#94ad72" transform="rotate(45 1578 418.6)"/><line x1="1574.4" y1="415" x2="1578" y2="418.6" stroke="#94ad72" stroke-width="1.3" /><rect x="1565.3" y="420.5" width="6.8" height="6.8" fill="#94ad72" transform="rotate(75 1568.7 423.9)"/><line x1="1567.4" y1="419.1" x2="1568.7" y2="423.9" stroke="#94ad72" stroke-width="1.3" /><rect x="1554.7" y="420.5" width="6.8" height="6.8" fill="#94ad72" transform="rotate(105 1558.1 423.9)"/><line x1="1559.4" y1="419.1" x2="1558.1" y2="423.9" stroke="#94ad72" stroke-width="1.3" /><rect x="1545.4" y="415.2" width="6.8" height="6.8" fill="#94ad72" transform="rotate(135 1548.8 418.6)"/><line x1="1552.4" y1="415" x2="1548.8" y2="418.6" stroke="#94ad72" stroke-width="1.3" /><rect x="1540.1" y="405.9" width="6.8" height="6.8" fill="#94ad72" transform="rotate(165 1543.5 409.3)"/><line x1="1548.3" y1="408" x2="1543.5" y2="409.3" stroke="#94ad72" stroke-width="1.3" /><rect x="1540.1" y="395.3" width="6.8" height="6.8" fill="#94ad72" transform="rotate(195 1543.5 398.7)"/><line x1="1548.3" y1="400" x2="1543.5" y2="398.7" stroke="#94ad72" stroke-width="1.3" /><rect x="1545.4" y="386" width="6.8" height="6.8" fill="#94ad72" transform="rotate(225 1548.8 389.4)"/><line x1="1552.4" y1="393" x2="1548.8" y2="389.4" stroke="#94ad72" stroke-width="1.3" /><rect x="1554.7" y="380.7" width="6.8" height="6.8" fill="#94ad72" transform="rotate(255 1558.1 384.1)"/><line x1="1559.4" y1="388.9" x2="1558.1" y2="384.1" stroke="#94ad72" stroke-width="1.3" /><rect x="1565.3" y="380.7" width="6.8" height="6.8" fill="#94ad72" transform="rotate(285 1568.7 384.1)"/><line x1="1567.4" y1="388.9" x2="1568.7" y2="384.1" stroke="#94ad72" stroke-width="1.3" /><rect x="1574.6" y="386" width="6.8" height="6.8" fill="#94ad72" transform="rotate(315 1578 389.4)"/><line x1="1574.4" y1="393" x2="1578" y2="389.4" stroke="#94ad72" stroke-width="1.3" /><rect x="1579.9" y="395.3" width="6.8" height="6.8" fill="#94ad72" transform="rotate(345 1583.3 398.7)"/><line x1="1578.5" y1="400" x2="1583.3" y2="398.7" stroke="#94ad72" stroke-width="1.3" /><circle cx="1563.4" cy="404" r="15.4" fill="#fbe9f3" stroke="#94ad72" stroke-width="1.2"/>
<rect x="1698.8" y="405.1" width="6.8" height="6.8" fill="#e4608a" transform="rotate(15 1702.2 408.5)"/><line x1="1697.4" y1="407.2" x2="1702.2" y2="408.5" stroke="#e4608a" stroke-width="1.3" /><rect x="1693.5" y="414.4" width="6.8" height="6.8" fill="#e4608a" transform="rotate(45 1696.9 417.8)"/><line x1="1693.3" y1="414.2" x2="1696.9" y2="417.8" stroke="#e4608a" stroke-width="1.3" /><rect x="1684.2" y="419.7" width="6.8" height="6.8" fill="#e4608a" transform="rotate(75 1687.6 423.1)"/><line x1="1686.3" y1="418.3" x2="1687.6" y2="423.1" stroke="#e4608a" stroke-width="1.3" /><rect x="1673.6" y="419.7" width="6.8" height="6.8" fill="#e4608a" transform="rotate(105 1677 423.1)"/><line x1="1678.3" y1="418.3" x2="1677" y2="423.1" stroke="#e4608a" stroke-width="1.3" /><rect x="1664.3" y="414.4" width="6.8" height="6.8" fill="#e4608a" transform="rotate(135 1667.7 417.8)"/><line x1="1671.3" y1="414.2" x2="1667.7" y2="417.8" stroke="#e4608a" stroke-width="1.3" /><rect x="1659" y="405.1" width="6.8" height="6.8" fill="#e4608a" transform="rotate(165 1662.4 408.5)"/><line x1="1667.2" y1="407.2" x2="1662.4" y2="408.5" stroke="#e4608a" stroke-width="1.3" /><rect x="1659" y="394.5" width="6.8" height="6.8" fill="#e4608a" transform="rotate(195 1662.4 397.9)"/><line x1="1667.2" y1="399.2" x2="1662.4" y2="397.9" stroke="#e4608a" stroke-width="1.3" /><rect x="1664.3" y="385.2" width="6.8" height="6.8" fill="#e4608a" transform="rotate(225 1667.7 388.6)"/><line x1="1671.3" y1="392.2" x2="1667.7" y2="388.6" stroke="#e4608a" stroke-width="1.3" /><rect x="1673.6" y="379.9" width="6.8" height="6.8" fill="#e4608a" transform="rotate(255 1677 383.3)"/><line x1="1678.3" y1="388.1" x2="1677" y2="383.3" stroke="#e4608a" stroke-width="1.3" /><rect x="1684.2" y="379.9" width="6.8" height="6.8" fill="#e4608a" transform="rotate(285 1687.6 383.3)"/><line x1="1686.3" y1="388.1" x2="1687.6" y2="383.3" stroke="#e4608a" stroke-width="1.3" /><rect x="1693.5" y="385.2" width="6.8" height="6.8" fill="#e4608a" transform="rotate(315 1696.9 388.6)"/><line x1="1693.3" y1="392.2" x2="1696.9" y2="388.6" stroke="#e4608a" stroke-width="1.3" /><rect x="1698.8" y="394.5" width="6.8" height="6.8" fill="#e4608a" transform="rotate(345 1702.2 397.9)"/><line x1="1697.4" y1="399.2" x2="1702.2" y2="397.9" stroke="#e4608a" stroke-width="1.3" /><circle cx="1682.3" cy="403.2" r="15.4" fill="#fbe9f3" stroke="#e4608a" stroke-width="1.2"/>
<path d="M1556.5,398.5 q3,1 3.5,4 q4,2.5 7,0.5 q2,-3.5 5,-3.5 l1.5,8 q-2,3.5 -6,3 q-3.5,2 -7,-1.5 q-3,-3 -3,-6 z" fill="#7a6272"/><path d="M1556.8,398.6 q-3.5,2 -2.6,7" fill="none" stroke="#8fae6f" stroke-width="1"/>
<path d="M1672.5,404 q0.5,-5.5 5,-6.5" fill="none" stroke="#e4608a" stroke-width="1.6"/><path d="M1678,398 q3,-1 3,2 q-1,4 3,3 q5,-4 8,-2 q3,3 -1,5 q-6,2 -9,0 q-2,3 2,4 q5,0 7,-3 q-1,-4 -6,-3 q-4,2 -2,5" fill="none" stroke="#7a6272" stroke-width="1.1"/>
<text x="0" y="521.7" font-size="37" textLength="24" lengthAdjust="spacingAndGlyphs" font-weight="bold" stroke="#000" stroke-width="0.9">b</text>
<text x="226" y="586" font-size="26.5" textLength="160.7" lengthAdjust="spacingAndGlyphs" >UDA (3′-RNA)</text>
<text x="148.3" y="616" font-size="26.5" textLength="323.4" lengthAdjust="spacingAndGlyphs" >Whole cell (96 post-index)</text>
<path d="M141.3,987.3h.01M151.7,1011.3h.01M162.7,1011h.01M133.3,1007.3h.01M133.3,1022.7h.01M131.7,1030h.01M135,1033.3h.01M140,1031.7h.01M144,1034h.01M171.7,1034h.01M180.7,1036.3h.01M165,1038.3h.01M155,1040.7h.01M150,1042.7h.01M146.7,1044h.01M141.7,1043.3h.01M138.3,1045h.01M135,1046.7h.01M132.7,1037.3h.01M130.7,1036h.01M133.3,1026.7h.01M156.7,1043.3h.01M151.7,1045h.01M129.3,1038.7h.01" fill="none" stroke="#bdbdbd" stroke-width="4.6" stroke-linecap="round"/>
<path d="M125.9,1013.6h.01M125.3,970.1h.01M124.5,970.1h.01M124,1015.5h.01M124.7,1034.5h.01M129.2,1001.6h.01M125.9,1025h.01M124.7,926h.01M125.1,999.5h.01M126.1,1001h.01M126.2,1020.6h.01M124.1,999h.01M126.6,1017.4h.01M125.1,1025.8h.01M128.4,995.9h.01M125.8,1027.8h.01M127.4,1010.2h.01M126.6,984.3h.01M126.3,987.9h.01M127.8,1024.1h.01M126.3,989.8h.01M125.6,1027.8h.01M128.7,961.7h.01M125.4,1012h.01M127.4,1036.6h.01M127.3,1012.6h.01M124,970.6h.01M125.3,1000.9h.01M125.7,993h.01M125,1000.2h.01M125.3,1037.2h.01M125.9,992.6h.01M127.6,1030.6h.01M125.3,997.9h.01M127.9,1004.7h.01M124.3,1007.9h.01M127,1024.8h.01M127.5,1017.3h.01M125.7,1011.2h.01M130.9,997.3h.01M125.1,1023.4h.01M124.3,1013.2h.01M125.7,1003.8h.01M123.6,1007.2h.01M125.1,984.4h.01M126.2,976.2h.01M126.8,1008h.01M127.8,956.4h.01M124,1028.3h.01M125.4,985.6h.01M125.1,1000.2h.01M124.5,967.5h.01M124.4,1012.9h.01M124.3,944.6h.01M125.8,1016.6h.01M124.3,1034.8h.01M130.6,999.5h.01M128.3,971.2h.01M126.4,1008.8h.01M124,1011.2h.01M126.8,1011.1h.01M125.6,972.9h.01M124.2,974.4h.01M125.8,1005.3h.01M126.9,1033.1h.01M124.9,1032.1h.01M126.5,962.8h.01M129.2,998.7h.01M128.5,984.4h.01M131.1,981.6h.01M125.9,1037.2h.01M125.1,1001.1h.01M125.6,950.7h.01M130,961.4h.01M126.1,1022.7h.01M124.6,948.3h.01M125.9,976.1h.01M125.7,999.2h.01M126.5,1012.3h.01M126.8,1009.2h.01M125.5,983.5h.01M125.2,1036.4h.01M125.7,973.9h.01M124.1,1012.2h.01M124.9,1006.8h.01M127.5,992.6h.01M124.9,1024.1h.01M124.4,1034.3h.01M124.5,1022h.01M128,1003.5h.01M131,1004.2h.01M125.9,1025.2h.01M127.2,1016.3h.01M125.4,1027.1h.01M125,985.9h.01M124.7,932.7h.01M125.6,983.8h.01M125.6,1007.1h.01M130.1,995.2h.01M127.9,1014.7h.01M130.2,991.8h.01M126.4,1025.5h.01M125.7,999.9h.01M123.9,1025.2h.01M127.2,1021.4h.01M124.2,1026.8h.01M127.3,1021.7h.01M126.8,937.7h.01M124.9,989.5h.01M126.1,1004h.01M125.7,1037h.01M126.6,1008.5h.01M124.6,1031.7h.01M125.2,954.5h.01M126.6,949.5h.01M125.2,938.5h.01M126.3,986.2h.01M124.5,1038.7h.01M126.2,981.5h.01M124.6,994.9h.01M126.5,1000.9h.01M126.8,1006.5h.01M126,996.6h.01M125.1,1007.7h.01M124.7,1020.5h.01M125.2,995.7h.01M125.7,1027.5h.01M126.1,1025.6h.01M124.9,978.7h.01M128,1016.2h.01M124.4,1012.2h.01M125.2,951.5h.01M125.8,1002h.01M126.6,974h.01M126.7,1006.7h.01M126.5,990.4h.01M125.1,956.8h.01M124.5,981.5h.01M124.1,975.8h.01M124.2,1021.5h.01M123.6,983.7h.01M124,1013.1h.01M126.3,1013.3h.01M124.8,1034.2h.01M129.7,1017.2h.01M128,1030.9h.01M127.7,1013.1h.01M128.9,971.7h.01M129.2,1012h.01M125,1028.9h.01M129.5,989.2h.01M126.7,966.8h.01M124.4,1006.9h.01M125.7,1014.5h.01M125.2,1030.6h.01M126.3,1018.2h.01M129,993.9h.01M124,1032h.01M125.9,1009.2h.01M128.6,1011.4h.01M132.5,1011.8h.01M126.2,1024.3h.01M128.7,1003.9h.01M124.6,993.6h.01M126.9,1008.6h.01M123.9,998.2h.01M127.8,1022.3h.01M127.5,1014.6h.01M125,1018.3h.01M132.1,980.5h.01M124.9,970.6h.01M124.4,972h.01M130.8,990.2h.01M124.9,1018.1h.01M125.1,993.3h.01M124.6,1038.1h.01M130.8,1001.2h.01M124.2,1005.6h.01M124.2,1023.7h.01M126.7,1018.2h.01M124.7,940.8h.01M127.2,940.9h.01M125.4,987.7h.01M128.3,1029h.01M124.4,1022.3h.01M126,949.3h.01M124.7,986.9h.01M124.1,1021.1h.01M125.3,936h.01M127.1,956.7h.01M125,948h.01M128.4,1007.1h.01M126.3,1006.2h.01M126.5,1017.8h.01M124.7,984.3h.01M127.5,1016.5h.01M125.3,999.9h.01M125.5,976.1h.01M128,965.7h.01M125.2,1003.8h.01M125,989.5h.01M125.5,1036.6h.01M125.4,1024.9h.01M125.1,1021.1h.01M130.9,1017.5h.01M124.7,1031.8h.01M126.2,1003.4h.01M126.3,1024.8h.01M127.4,967h.01M125.4,948.3h.01M123.8,1030.6h.01M126.4,1035.5h.01M127.5,942h.01M125.3,995.2h.01M129.2,1026.4h.01M127,1026.9h.01M124.8,1013.9h.01M131.4,1001.3h.01M125.3,1011.8h.01M126.1,1026.8h.01M125.6,970.6h.01M125.6,1019.2h.01M124.2,981.3h.01M125.5,956.5h.01M124.1,1022.3h.01M124.6,949.8h.01M124.8,967.7h.01M125.4,1021.6h.01M124.4,988.9h.01M126.8,1019.3h.01M129.6,991.2h.01M124.9,1021.6h.01M128.1,1022h.01M129.1,999.7h.01M124.5,969.9h.01M127.6,1003.3h.01M124.5,992.5h.01M131.5,989.5h.01M124.3,998.7h.01M126.7,941h.01M123.8,978.2h.01M124.7,949.2h.01M126.3,1018.4h.01M125,1014.5h.01M127.6,1011.8h.01M126.5,929.6h.01M127.5,1028.7h.01M124.5,1014.3h.01M126,1033.4h.01M126.1,1031.7h.01M126,1033.3h.01M123.7,1000.9h.01M125.6,987.6h.01M125.4,985.6h.01M124.6,959.3h.01M126.4,1012h.01M124.8,940.1h.01M125.9,1033.8h.01M128.4,1004.8h.01M124.5,977.2h.01M125.8,1027.3h.01M129.3,985.4h.01M128.8,984.6h.01M126.2,1016.8h.01M125,1005.7h.01M125.9,1007.4h.01M124.5,964.1h.01M124.2,924h.01M124.9,997.1h.01M126.9,1013.9h.01M125.7,1029.3h.01M130.5,1008.3h.01M126.7,956.6h.01M125.4,1024.9h.01M126,1001.5h.01M128.3,966.7h.01M127.4,1017.7h.01M124.7,1022.4h.01M126.7,1035.3h.01M125,1036h.01M124.3,1001.2h.01M126.2,994.4h.01M125.1,1037.5h.01M126.2,985.8h.01M131,996.2h.01M125.3,1028.5h.01M124.9,1016h.01M128.6,1008.7h.01M124.3,1006.6h.01M125.6,1014h.01M129.5,993.1h.01M124.6,995.9h.01M124.3,1031.2h.01M127.8,983.2h.01M127.4,1011.9h.01M127.3,1018.3h.01M126.2,1035.1h.01M125.9,1017.2h.01M125.1,1006.9h.01M125.2,1034.3h.01M125.7,982.2h.01M124.6,963.1h.01M125.1,997.8h.01M125.7,1023.8h.01M128.4,1013.5h.01M126.6,979.1h.01M124,988.6h.01M125.7,962.6h.01M126,979.7h.01M125.8,1031.2h.01M126.2,1003.7h.01M127.6,972h.01M127.3,1002.5h.01M124.8,1016.2h.01M129.6,1015.2h.01M124.4,1033.4h.01M125.6,1000.8h.01M124.6,1030.9h.01M125.3,1028.7h.01M126.5,1020.1h.01M124.6,957.4h.01M129.9,1003.7h.01M124.5,1020.4h.01M125.1,996.4h.01M125.8,978.9h.01M124.3,957.3h.01M129.4,1011.9h.01M124.9,969.9h.01M125.2,993.1h.01M124.7,943.5h.01M131.2,975.9h.01M126.5,999.9h.01M124.4,998.7h.01M126.6,1007.2h.01M129,1014.2h.01M123.7,1039.3h.01M127.5,1010h.01M124.1,989.7h.01M126,956.5h.01M127.8,980.9h.01M124.4,1031.6h.01M126.8,979.6h.01M125.9,998.3h.01M126.5,1021.7h.01M133.3,1014.1h.01M126.7,1027.8h.01M127.8,985.6h.01M126.5,999h.01M124.7,960.1h.01M123.6,1008.3h.01M127.2,982.4h.01M123.8,1038.4h.01M128,1002.3h.01M123.6,977.7h.01M125.9,1017.4h.01M125.3,1019.8h.01M125,1019h.01M125.3,1007.1h.01M127.3,1030.6h.01M124.6,1020.9h.01M126.4,1023.4h.01M127,1021.3h.01M127.1,1009.6h.01M124.8,966.8h.01M125.7,1007.1h.01M125,963.1h.01M125.9,996.2h.01M124.7,1032h.01M126.2,997h.01M125.5,938.1h.01M124.6,923.6h.01M124.6,1033.9h.01M125.2,1005.9h.01M125.1,980.1h.01M129.2,1021.2h.01M128,1010.7h.01M127.5,1000h.01M126.5,1034.1h.01M124.2,1004.5h.01M130,1004h.01M127.5,1008.2h.01M126.7,1015.5h.01M126.8,1027.2h.01M125,969.9h.01M129,1020.9h.01M127.8,1012.5h.01M127.8,998.8h.01M124.4,994.5h.01M126.2,932.2h.01M124.1,1003.8h.01M128.1,1018.4h.01M125.4,1008.5h.01M127.3,1029.3h.01M125.4,1000.1h.01M127.5,1010.1h.01M125.2,1002.5h.01M128.6,992.3h.01M125.2,1019.5h.01M125.8,957.3h.01M126.1,1017.3h.01M127,1008.5h.01M126.6,1020.1h.01M124.4,1037.1h.01M124.6,974.5h.01M127.3,1004.3h.01M125.1,1021.6h.01M125.6,947.3h.01M124.6,987.8h.01M124.2,1005.4h.01M123.8,1035.6h.01M124.7,1025.5h.01M131.2,1011.5h.01M128.9,998.5h.01M125.8,970.8h.01M129.3,997.8h.01M125.8,1021.1h.01M125.3,1034.4h.01M124.2,1003.3h.01M130.7,1011.9h.01M125.9,1032.8h.01M125.1,1029.2h.01M128.5,1007h.01M126.2,1013.8h.01M126.9,1024.6h.01M125.2,1033.8h.01M127,983.7h.01M125.9,1006.5h.01M128.6,1019.5h.01M125.8,996.1h.01M124.1,1020h.01M131.1,974.5h.01M128.7,1011.2h.01M124.8,934.2h.01M125.1,1020.4h.01M125.3,992.5h.01M125.2,975.6h.01M127.5,1016.7h.01M124.7,1019.1h.01M126.3,1031.2h.01M125.6,1029h.01M125.4,1020.8h.01M127.2,963.2h.01M127.7,978.9h.01M124.9,1024.1h.01M126.3,981.1h.01M127.8,1015h.01M125.4,1026.3h.01M126.3,1030h.01M128.6,990.4h.01M126.6,1024.9h.01M124.3,965.3h.01M131.4,994.5h.01M126.2,972.8h.01M127.9,1013.3h.01M127.3,991h.01M125.1,988.5h.01M125.4,1030.8h.01M123.7,977.8h.01M126.5,1011.3h.01M125.6,1025.3h.01M125.5,1017.9h.01M131.5,1010.7h.01M129.5,998.3h.01M126.2,1004.6h.01M128.2,993h.01M125.6,1021.3h.01M127.3,1024.5h.01M127,995.1h.01M125.1,1018.3h.01M126.7,1029.2h.01M125.5,1019.3h.01M124.7,1007h.01M126.1,1011.2h.01M124.6,1027.3h.01M127,1018.7h.01M125.5,1002.3h.01M125.6,953.2h.01M127.1,987h.01M124.1,947.8h.01M124.8,995.3h.01M126.5,1003.8h.01M125.7,952.8h.01M126.8,972.4h.01M128.5,1027.1h.01M126.2,998.2h.01M124.5,1034h.01M126.1,977.4h.01M125.9,1006.4h.01M124.7,973h.01M124.3,1028.9h.01M124.9,1005.8h.01M124.9,1030h.01M126.5,992.9h.01M124.7,997.2h.01M124.9,1011.4h.01M128.6,1025.9h.01M124.5,966.6h.01M125,1002.3h.01M126.4,1021h.01M126.3,1022.9h.01M126.2,1005.5h.01M125.8,1028.3h.01M129,1018.4h.01M124.2,1023.5h.01M125.1,953.9h.01M126,1017h.01M125.9,1029.4h.01M125.5,947.7h.01M124.1,1014.6h.01M124.9,988.6h.01M126.4,1028.4h.01M126.1,967.9h.01M126.6,1027.7h.01M126.3,1014.3h.01M124.2,1034.2h.01M125.4,1004.8h.01M125.7,963.5h.01M128.8,984h.01M126.7,1008.7h.01M127.1,1017.4h.01M125.2,681.5h.01M128.3,723.8h.01M125.2,782.4h.01M125.2,796.5h.01M125.2,803.6h.01M125.2,838.8h.01M125.2,855.2h.01M125.2,869.3h.01M125.2,877.5h.01M125.2,883.3h.01M125.2,892.7h.01M125.2,897.4h.01M125.2,902.1h.01M125.2,908h.01M125.2,912.7h.01M125.2,917.4h.01M125.2,920.9h.01M125.2,924.4h.01M125.2,927.9h.01M127.5,949h.01M129,958.4h.01M129.9,966.6h.01M131.5,981.9h.01M132.4,987.8h.01M133.6,999.5h.01M132.2,1010.1h.01M130.3,1020.6h.01" fill="none" stroke="#e0231e" stroke-width="4.4" stroke-linecap="round"/>
<path d="M182.8,1051.9h.01M188.4,1052.3h.01M142.6,1051.4h.01M206.6,1052.1h.01M239,1050.3h.01M213.8,1049.8h.01M177.1,1051h.01M169.5,1051.7h.01M243,1050h.01M235.4,1051.5h.01M172.8,1049.8h.01M180.8,1048.4h.01M173.1,1051.2h.01M167.8,1050.1h.01M172.8,1045.7h.01M179,1052.3h.01M178.9,1050.8h.01M172.5,1051.1h.01M166.4,1051.9h.01M155.3,1051.6h.01M211.3,1048.8h.01M156.7,1050h.01M150,1051.4h.01M182,1048.4h.01M258.5,1051.4h.01M160,1050.4h.01M194.3,1048.7h.01M143.7,1051.3h.01M162.5,1050h.01M182.3,1049.3h.01M172.3,1049.5h.01M200.9,1046.7h.01M203.6,1048.8h.01M159.2,1052h.01M189.9,1048.9h.01M168.7,1051.4h.01M179.7,1050.8h.01M194.3,1051.5h.01M163.5,1049.4h.01M173.2,1048.2h.01M165,1052.4h.01M177.1,1050.3h.01M239.6,1050.2h.01M150.1,1051.4h.01M180.4,1050.8h.01M157.2,1050.2h.01M162,1051.3h.01M205.9,1051.5h.01M151.9,1049.8h.01M158.6,1051.2h.01M181.4,1052.8h.01M198.1,1050h.01M171.4,1047.5h.01M237,1051.7h.01M197.2,1051h.01M179.5,1049.9h.01M216.5,1051.9h.01M139.6,1052.5h.01M217.9,1050.9h.01M250.9,1049.5h.01M150.1,1052.1h.01M163.6,1050.1h.01M225.4,1048.7h.01M175.7,1051h.01M150.5,1050.5h.01M178.7,1051.9h.01M166.1,1049.5h.01M189.6,1052h.01M225.4,1050.8h.01M148.9,1050.5h.01M166.5,1049.9h.01M161.3,1051.6h.01M204.6,1048.6h.01M171.2,1049.8h.01M193.3,1052h.01M225.8,1048.7h.01M164.8,1052.5h.01M198.2,1049.1h.01M154.7,1049.5h.01M165.6,1050.8h.01M229.9,1051.2h.01M217.9,1048.5h.01M163.4,1051.1h.01M188.2,1049.6h.01M156.6,1052.7h.01M267.4,1049.5h.01M214.7,1049.7h.01M157.6,1051.6h.01M182.2,1050.4h.01M185.1,1051.8h.01M181.8,1051.9h.01M158.7,1046.2h.01M183.2,1049.3h.01M253.8,1052.2h.01M186.2,1050.1h.01M181.4,1048.1h.01M196.6,1048.4h.01M177.9,1050.5h.01M156,1050.5h.01M184.9,1048.8h.01M188.8,1048.4h.01M230.2,1050.8h.01M173,1051.7h.01M154.9,1049.9h.01M170.2,1052.7h.01M142.5,1051.6h.01M197,1047.4h.01M188.7,1050h.01M216.4,1052h.01M163.2,1052.4h.01M199.8,1047.2h.01M168.8,1050.1h.01M253.3,1051.8h.01M151.7,1052.1h.01M169.7,1052.7h.01M177.2,1049.8h.01M174.3,1046.5h.01M219.4,1049.9h.01M222.8,1052h.01M147.3,1051.3h.01M210.8,1048.8h.01M200.6,1050.1h.01M172.1,1050.7h.01M202.1,1050.2h.01M198.7,1049.9h.01M205.5,1048.9h.01M157.8,1051.4h.01M154.7,1052.5h.01M178.5,1049.3h.01M162.4,1050.8h.01M197,1047.2h.01M179.5,1051.4h.01M212.9,1050.7h.01M160.6,1050.7h.01M205.8,1051.1h.01M190.2,1052.7h.01M185.3,1046h.01M197.6,1047.7h.01M225.6,1051.2h.01M166.4,1050.5h.01M217.7,1050.4h.01M153.7,1052.6h.01M169.7,1050.3h.01M206.2,1050.6h.01M158,1052h.01M162.2,1051.3h.01M190.9,1050.4h.01M170.2,1049.7h.01M144.2,1051.9h.01M150.2,1050.9h.01M168,1049.5h.01M156.9,1050.5h.01M175.3,1050.3h.01M154.8,1049.9h.01M151.7,1049.5h.01M153.3,1051.2h.01M200.6,1052.4h.01M179.8,1051.8h.01M166.7,1051.7h.01M147.6,1050.9h.01M185.4,1045.6h.01M189.2,1049.9h.01M160.9,1050.1h.01M189.5,1049.6h.01M172.7,1047.7h.01M183.9,1048.5h.01M226.1,1048.7h.01M177.9,1048.5h.01M219.1,1051.4h.01M186.4,1046.9h.01M157.9,1050.7h.01M171,1049.9h.01M155.8,1051.3h.01M187.2,1047h.01M161.4,1051.4h.01M199.4,1049.6h.01M255.4,1050.4h.01M209.6,1049.2h.01M182.6,1050h.01M182.9,1052.2h.01M140.4,1052.5h.01M153.3,1050.9h.01M165.4,1049.8h.01M158.3,1051.8h.01M162.4,1049.1h.01M159.3,1050.8h.01M144.1,1052.1h.01M153.5,1052.2h.01M203.8,1052.1h.01M181.1,1050.3h.01M251.4,1051.8h.01M238,1050.3h.01M220.9,1047.2h.01M163,1051.2h.01M151.9,1051.6h.01M191.5,1048.8h.01M143.3,1050.5h.01M206.9,1051.9h.01M162.6,1048.2h.01M160.5,1048.5h.01M166.9,1050.7h.01M158.8,1051.9h.01M154.9,1050.9h.01M186.3,1051.4h.01M184.4,1050.9h.01M144.1,1052.1h.01M177.7,1050.5h.01M177.4,1050.1h.01M165.9,1050.6h.01M245.3,1050.4h.01M160.7,1050.1h.01M259.8,1051.4h.01M208.9,1051.7h.01M174.5,1052h.01M189.8,1050.9h.01M183.9,1050.2h.01M212.9,1052.2h.01M175.6,1049.8h.01M178.5,1050.4h.01M144.9,1051.6h.01M186.7,1049.4h.01M199.9,1051.9h.01M204.2,1050h.01M167.4,1051.1h.01M186.4,1049.5h.01M182.5,1049.7h.01M227.8,1051.3h.01M202,1048.3h.01M168.9,1046.8h.01M144.7,1052.1h.01M188.9,1050.3h.01M144.5,1050.3h.01M212.8,1050.9h.01M163.2,1052.1h.01M170.9,1046.7h.01M163.1,1051.1h.01M187.9,1046.2h.01M151.1,1051.7h.01M178,1049.7h.01M158.1,1051.3h.01M189.9,1051.8h.01M160.7,1048.8h.01M156.6,1051.5h.01M171.8,1050.9h.01M176.4,1051.1h.01M169.5,1050.2h.01M183.3,1047.1h.01M190.2,1049.8h.01M160.8,1049.1h.01M151,1051.4h.01M174.9,1046.7h.01M164.6,1050.5h.01M225,1050.8h.01M181.9,1051.4h.01M181.8,1049.8h.01M200.7,1051.8h.01M199.9,1047.9h.01M170.6,1050.1h.01M165.9,1049.4h.01M202.1,1048.1h.01M253.9,1051.6h.01M196.2,1051h.01M179.1,1051h.01M174.4,1051.3h.01M150.3,1051.3h.01M172.4,1051.7h.01M142.1,1051.8h.01M171.2,1047.5h.01M167,1052.2h.01M153.4,1052h.01M214.9,1048.8h.01M162.7,1048h.01M138.2,1052h.01M159,1051.1h.01M160.5,1050h.01M169.6,1051.2h.01M166.3,1050.2h.01M153.4,1052.6h.01M163.3,1051.2h.01M199.6,1049.4h.01M188.9,1049.4h.01M196.3,1048.9h.01M146.1,1052.3h.01M192.8,1050.5h.01M176.9,1050.9h.01M189,1048.1h.01M194.6,1050.6h.01M165.4,1050.4h.01M262.1,1051.3h.01M161.9,1046.3h.01M203.1,1050.2h.01M187.6,1048.2h.01M218.7,1050.9h.01M222.4,1050.6h.01M174.8,1050h.01M182.4,1046.6h.01M190.8,1049.1h.01M190.2,1051.8h.01M199.2,1048.2h.01M197.3,1047.4h.01M156.9,1050.3h.01M184.5,1049.7h.01M150.5,1051.9h.01M161.4,1048.4h.01M152,1051.6h.01M165.2,1048.6h.01M169,1050.7h.01M186.4,1051.2h.01M161.3,1052h.01M255.6,1052.6h.01M180.9,1049h.01M160.7,1049.9h.01M162,1050.4h.01M207,1047.1h.01M167.3,1049.7h.01M165.7,1050.2h.01M163.4,1050.6h.01M241,1051.2h.01M223.1,1052h.01M225.4,1051.3h.01M165.7,1049.9h.01M148.6,1051.7h.01M152.4,1048.9h.01M190.9,1048.3h.01M218.9,1050.4h.01M156.1,1051.3h.01M155.8,1050.9h.01M202.7,1047.5h.01M231.6,1049.5h.01M207.9,1050.2h.01M150.8,1051.6h.01M164.5,1051.7h.01M166.4,1051.5h.01M205.7,1051.5h.01M147.8,1052h.01M259.9,1049.1h.01M188.2,1049.3h.01M218.1,1051.9h.01M212.7,1048.6h.01M176.5,1048.8h.01M161.9,1051h.01M167.9,1050.2h.01M148.2,1050.7h.01M245.5,1050.2h.01M173.8,1050.1h.01M158,1048.4h.01M152.5,1051.1h.01M173.1,1051.5h.01M208.1,1050.9h.01M243.7,1050.2h.01M174,1050.3h.01M195.4,1048.6h.01M188.1,1052.4h.01M188.9,1048.7h.01M165.8,1049.5h.01M202.4,1050.3h.01M202,1045.8h.01M167.1,1051h.01M218.4,1048.8h.01M197.9,1048.1h.01M156.4,1050.4h.01M190.8,1050.5h.01M167.3,1051.3h.01M187,1046.6h.01M191.7,1051.5h.01M150.5,1051.6h.01M172.8,1052h.01M171.9,1051.6h.01M182.7,1051.5h.01M165.7,1050.1h.01M158.2,1052.3h.01M138.7,1052.7h.01M218.4,1052h.01M215.9,1049.7h.01M160.8,1050.3h.01M191.1,1047.6h.01M166.2,1050.7h.01M172.5,1049.2h.01M158.7,1050h.01M200.9,1051h.01M213.3,1051.8h.01M175.2,1050h.01M176.5,1052.5h.01M154,1051.8h.01M169.7,1050h.01M168,1050.5h.01M140.5,1051.5h.01M214.3,1050.1h.01M191.1,1049.7h.01M153.5,1050h.01M181.3,1051.4h.01M193.7,1050.5h.01M191.9,1051.6h.01M169.7,1050.3h.01M186.2,1049.1h.01M165.4,1051.2h.01M221.6,1050.9h.01M197.2,1047h.01M186.3,1050.9h.01M207.7,1050.4h.01M180,1050.1h.01M161.3,1050.7h.01M170.1,1051.3h.01M222.9,1051.1h.01M149.7,1051.7h.01M170.5,1052.7h.01M139.7,1051.7h.01M170.9,1049.3h.01M182.9,1051.3h.01M233.5,1050.4h.01M150.4,1051.8h.01M158.7,1049.7h.01M173.4,1050.4h.01M178.2,1047.1h.01M185.3,1044.6h.01M169.3,1049.8h.01M176.8,1051.8h.01M155.1,1049.5h.01M196.2,1052.4h.01M179.8,1051.3h.01M211.3,1051.2h.01M206.5,1046.8h.01M184.7,1051.1h.01M189.6,1050.7h.01M177.9,1050.9h.01M148.8,1051.9h.01M184,1049h.01M185.4,1051.8h.01M221.6,1050.9h.01M180.6,1051.5h.01M143.6,1051.9h.01M163.4,1050.6h.01M172.4,1048.9h.01M188.4,1048h.01M155.2,1046.6h.01M162.7,1052.1h.01M190,1051h.01M184.4,1049.9h.01M141.7,1051.5h.01M162.3,1049.4h.01M144.3,1050.9h.01M195.7,1050.9h.01M186.1,1051.4h.01M200.8,1051.4h.01M265.9,1049.5h.01M188.3,1051.7h.01M188.7,1051.5h.01M198.1,1051.5h.01M164.6,1048.2h.01M196.2,1052.2h.01M171.9,1051.5h.01M177.6,1048.7h.01M221.8,1052h.01M200.8,1049.6h.01M162,1051.8h.01M206.3,1049h.01M196,1050.6h.01M199.6,1050.6h.01M263.2,1052h.01M172.2,1050.2h.01M181.7,1051.8h.01M153.6,1050.9h.01M232.1,1052.2h.01M151.5,1052h.01M262.7,1052.2h.01M159.4,1051h.01M206.2,1051.6h.01M163.9,1052.2h.01M224,1052.7h.01M173.4,1048.3h.01M175.4,1049.8h.01M205.8,1049.3h.01M229,1051h.01M158.4,1049.9h.01M175.5,1052.5h.01M196.4,1049.8h.01M196.7,1052.3h.01M173.4,1049.9h.01M155.2,1051h.01M165.5,1050.5h.01M159.8,1051.9h.01M169.5,1046.6h.01M169.3,1049.1h.01M177,1051.3h.01M151.7,1051.9h.01M182.2,1049.8h.01M188.3,1049.6h.01M206.8,1048.3h.01M204.9,1052h.01M180.1,1050.3h.01M174.3,1050.7h.01M185.6,1048.9h.01M201.3,1051.6h.01M165.9,1049.7h.01M188.9,1047.2h.01M165.2,1050.1h.01M176.4,1049.3h.01M171.1,1051.4h.01M167.2,1051.3h.01M170.6,1049.9h.01M177,1046.4h.01M150.4,1049.8h.01M147,1051.5h.01M169.5,1051.5h.01M153.7,1050h.01M151.5,1051.5h.01M161.5,1050.6h.01M191.5,1052.1h.01M169,1050h.01M170,1051.7h.01M156.4,1050.7h.01M224,1049.5h.01M155.7,1051h.01M190.5,1049.7h.01M200.4,1050.4h.01M143.9,1052.3h.01M172.9,1048.8h.01M162.5,1050h.01M176.1,1050.4h.01M238.1,1050.2h.01M226.7,1050.6h.01M226.7,1051.5h.01M166.7,1052.3h.01M152.4,1051.9h.01M200.3,1046.9h.01M161.2,1049.2h.01M199.2,1051.6h.01M167.5,1050.9h.01M152.8,1051.4h.01M199.6,1052h.01M193.2,1046.8h.01M177,1051.4h.01M158.1,1050.6h.01M157.4,1051.7h.01M195.2,1046.6h.01M200.2,1051.5h.01M153.3,1050.8h.01M168.2,1047.4h.01M164.5,1048.2h.01M140.4,1051.7h.01M181.1,1051.4h.01M169.6,1052.1h.01M216.5,1050.4h.01M212.9,1051.3h.01M147.9,1052.4h.01M169.8,1051h.01M223.7,1048.3h.01M184.4,1051.8h.01M206.6,1051.6h.01M171.9,1046.7h.01M179.5,1051.7h.01M250.4,1051.2h.01M178.2,1048.3h.01M162.6,1052.3h.01M156.7,1048.5h.01M201.3,1045.3h.01M205.4,1051.9h.01M180,1048.1h.01M147,1051.7h.01M169.4,1051.5h.01M238,1050.4h.01M213,1050.8h.01M155.2,1049.9h.01M185.6,1051.6h.01M202.6,1049.7h.01M187.7,1051h.01M231.5,1049.6h.01M180.6,1052h.01M203.1,1052.4h.01M170.2,1051.2h.01M159.3,1052h.01M197.8,1047.8h.01M214.1,1050.4h.01M145.9,1051.8h.01M168.4,1052h.01M215.1,1049.8h.01M157.4,1051.1h.01M167.2,1050.4h.01M200.7,1051.9h.01M199.3,1049.5h.01M242.5,1049.8h.01M151.2,1051.5h.01M161.6,1051.9h.01M155.3,1051.6h.01M162.2,1050.8h.01M177.8,1046.6h.01M178,1052.5h.01M144.9,1052.1h.01M168.1,1050.9h.01M187,1049.7h.01M155.4,1050.6h.01M183.3,1051.5h.01M178,1048.9h.01M172.3,1050.9h.01M139.8,1050.6h.01M152.7,1051.1h.01M154.6,1049.6h.01M177.8,1052.6h.01M156.7,1050.6h.01M175.8,1048h.01M189.9,1049.6h.01M180.5,1050.1h.01M265.1,1051.5h.01M145.2,1052.7h.01M174.8,1047.9h.01M149.5,1050.9h.01M222.1,1050.2h.01M223.6,1048.1h.01M174.1,1051.2h.01M261.3,1051.5h.01M202.8,1048.4h.01M145.4,1051.9h.01M191.4,1051.2h.01M139.4,1051.3h.01M243.6,1051.3h.01M185.1,1050h.01M159.4,1051.8h.01M219.4,1050.8h.01M149.5,1051.3h.01M155,1049h.01M309.4,1051.9h.01M312.9,1052.1h.01M319.9,1051.8h.01M335.2,1052.1h.01M338.7,1051.9h.01M354,1051.8h.01M395,1047.8h.01M450.2,1051.5h.01M217.9,1046.4h.01M228.4,1044.8h.01M237.8,1048.4h.01M249.5,1046.7h.01M276.5,1050h.01M270.7,1051.6h.01M261.3,1051.8h.01" fill="none" stroke="#000" stroke-width="4.4" stroke-linecap="round"/>
<line x1="124" y1="662.7" x2="124" y2="1063.3" stroke="#333" stroke-width="1.4" />
<line x1="109.3" y1="1052.3" x2="515" y2="1052.3" stroke="#333" stroke-width="1.4" />
<line x1="109.3" y1="1052.3" x2="124" y2="1052.3" stroke="#333" stroke-width="1.4" />
<text x="91.7" y="1059.2" font-size="22.3" text-anchor="end" >0</text>
<line x1="124" y1="1052.3" x2="124" y2="1063.3" stroke="#333" stroke-width="1.4" />
<text x="124" y="1093.3" font-size="22.3" text-anchor="middle" >0</text>
<line x1="109.3" y1="935" x2="124" y2="935" stroke="#333" stroke-width="1.4" />
<text x="56.2" y="941.9" font-size="22.3" textLength="35.5" lengthAdjust="spacingAndGlyphs" >10k</text>
<line x1="241.3" y1="1052.3" x2="241.3" y2="1063.3" stroke="#333" stroke-width="1.4" />
<text x="223.8" y="1093.3" font-size="22.3" textLength="35" lengthAdjust="spacingAndGlyphs" >10k</text>
<line x1="109.3" y1="817.6" x2="124" y2="817.6" stroke="#333" stroke-width="1.4" />
<text x="53.2" y="824.5" font-size="22.3" textLength="38.5" lengthAdjust="spacingAndGlyphs" >20k</text>
<line x1="358.7" y1="1052.3" x2="358.7" y2="1063.3" stroke="#333" stroke-width="1.4" />
<text x="339.4" y="1093.3" font-size="22.3" textLength="38.5" lengthAdjust="spacingAndGlyphs" >20k</text>
<line x1="109.3" y1="700.3" x2="124" y2="700.3" stroke="#333" stroke-width="1.4" />
<text x="53.2" y="707.2" font-size="22.3" textLength="38.5" lengthAdjust="spacingAndGlyphs" >30k</text>
<line x1="476" y1="1052.3" x2="476" y2="1063.3" stroke="#333" stroke-width="1.4" />
<text x="456.7" y="1093.3" font-size="22.3" textLength="38.5" lengthAdjust="spacingAndGlyphs" >30k</text>
<text x="195" y="1131.7" font-size="26.5" textLength="230" lengthAdjust="spacingAndGlyphs" >hg38 UMIs per cell</text>
<text transform="translate(33.3 866.5) rotate(-90)" x="-120.8" y="0" font-size="26.5" textLength="241.6" lengthAdjust="spacingAndGlyphs">mm10 UMIs per cell</text>
<circle cx="180" cy="669.3" r="6.6" fill="#000"/>
<text x="199.3" y="675" font-size="21" textLength="170.7" lengthAdjust="spacingAndGlyphs" >Human (52.86%)</text>
<circle cx="180" cy="701" r="6.6" fill="#f00"/>
<text x="199.3" y="706.7" font-size="21" textLength="161.7" lengthAdjust="spacingAndGlyphs" >Mouse (45.91%)</text>
<circle cx="180" cy="732.3" r="6.6" fill="#c4c4c4"/>
<text x="199.3" y="737.7" font-size="21" textLength="181.7" lengthAdjust="spacingAndGlyphs" >Multiplets (1.23%)</text>
<text x="668.6" y="521.7" font-size="37" textLength="22.4" lengthAdjust="spacingAndGlyphs" font-weight="bold" stroke="#000" stroke-width="0.9">c</text>
<text x="842.4" y="586.3" font-size="26.5" textLength="161.9" lengthAdjust="spacingAndGlyphs" >UDA (3′-RNA)</text>
<text x="794" y="616.9" font-size="26.5" textLength="265.8" lengthAdjust="spacingAndGlyphs" >Nuclei (16 post-index)</text>
<line x1="874.9" y1="653.8" x2="667" y2="762.9" stroke="#111" stroke-width="1" />
<line x1="874.9" y1="653.8" x2="1133.3" y2="707" stroke="#111" stroke-width="1" />
<line x1="874.9" y1="653.8" x2="885.2" y2="852.2" stroke="#111" stroke-width="1" />
<line x1="667" y1="762.9" x2="746.3" y2="989.9" stroke="#111" stroke-width="1" />
<line x1="1133.3" y1="707" x2="1074.5" y2="920.5" stroke="#111" stroke-width="1" />
<line x1="885.2" y1="852.2" x2="746.3" y2="989.9" stroke="#111" stroke-width="1" />
<line x1="885.2" y1="852.2" x2="1074.5" y2="920.5" stroke="#111" stroke-width="1" />
<line x1="746.3" y1="989.9" x2="979.3" y2="1119.7" stroke="#111" stroke-width="1" />
<line x1="1074.5" y1="920.5" x2="979.3" y2="1119.7" stroke="#111" stroke-width="1" />
<path d="M845.6,832.4h.01M909.8,808.2h.01M897.9,820.5h.01M928.5,824.8h.01M915.8,841.1h.01M907.9,837.1h.01M894,841.1h.01M897.9,851h.01M930.5,855h.01M958.7,866.1h.01M858.3,870.9h.01M852.3,865.7h.01M862.2,878.8h.01M868.2,880.8h.01M874.1,884.8h.01M884,876.8h.01M888,878.8h.01M897.9,888.7h.01M838.4,884.8h.01M844.4,888.7h.01M874.1,896.7h.01M870.2,900.6h.01M868.2,903.8h.01M872.1,905.4h.01M874.1,910.6h.01M886,910.6h.01M892,904.6h.01M915.8,904.6h.01M809.8,906.6h.01M882.9,938.3h.01M957.5,946.3h.01M854.3,954.2h.01M880.1,853h.01M884,855h.01M886.8,851h.01M889.2,856.2h.01M882.1,857.8h.01M878.1,860.2h.01M899.9,857h.01M903.9,859.8h.01M901.9,855h.01M886,847.1h.01" fill="none" stroke="#bdbdbd" stroke-width="3.6" stroke-linecap="round"/>
<path d="M881.6,822.9h.01M882.8,821.8h.01M882.9,818.7h.01M883.1,818.3h.01M883.1,809.1h.01M883.8,833.1h.01M885.4,845.1h.01M883.5,847.2h.01M882.8,778.4h.01M882.7,810.2h.01M885.9,841.7h.01M885,846.4h.01M884.6,840h.01M883.9,821.9h.01M884.4,823.6h.01M881.9,808.3h.01M882.9,819.3h.01M883.4,834.7h.01M883.2,776.9h.01M882.6,802.7h.01M884.3,832.3h.01M885.7,845.9h.01M880.8,797.8h.01M885,827.4h.01M881.5,780.7h.01M884.5,838.9h.01M879,785.2h.01M884.4,826.7h.01M883.7,845.9h.01M883.1,835.3h.01M883.6,845.3h.01M884.6,798.3h.01M884.8,843.8h.01M885.4,846.4h.01M882.8,795h.01M884.8,823.1h.01M884.5,840h.01M882.4,808h.01M884.2,843.9h.01M884.6,835.2h.01M881.7,779.5h.01M881,787.4h.01M883,838.9h.01M884.1,808h.01M885.5,844.6h.01M884.3,835.9h.01M881.9,797.2h.01M885.6,845.8h.01M884.2,845.1h.01M882.7,811.4h.01M881.6,828.6h.01M884.3,820.4h.01M883.6,813.5h.01M884.2,842h.01M882,785.2h.01M883.9,840h.01M883.1,800h.01M881.3,781.4h.01M881,787.6h.01M884.2,844.5h.01M885.7,847.2h.01M882.5,802.9h.01M885,836h.01M883,833.8h.01M884.5,840.8h.01M884.1,837.8h.01M884.1,814.6h.01M883.2,834.6h.01M881.7,784.4h.01M884.5,835.3h.01M884.3,823.2h.01M884.2,828.7h.01M883.8,813.6h.01M882.5,786.7h.01M880.5,778.7h.01M881.9,812.8h.01M884.9,842.7h.01M881.8,785h.01M882.9,803.2h.01M882.9,808.6h.01M883.5,820.6h.01M880.4,776.9h.01M883.3,845.8h.01M881.3,786h.01M882,800.2h.01M880,784.7h.01M883.2,829.9h.01M879.9,788.6h.01M884.3,825.3h.01M881.3,813.7h.01M882,809.5h.01M883.9,810.7h.01M882.8,845.6h.01M879.4,787.9h.01M881.3,801h.01M884.2,812.9h.01M883.9,823.6h.01M882.1,799.1h.01M884,847.5h.01M883.8,837.7h.01M881.3,803.5h.01M881.7,784.1h.01M885.2,836h.01M882.8,805.1h.01M885.6,839.2h.01M884.7,806.5h.01M884.4,823.5h.01M882.2,806.2h.01M882.9,839.6h.01M882.5,784.6h.01M880.9,787.8h.01M885,832.2h.01M882.8,843h.01M882,790.5h.01M883.4,802.3h.01M884.4,841.2h.01M883.6,822.9h.01M884.5,825.5h.01M882.1,809.4h.01M882.1,791.4h.01M881,778.5h.01M885.1,847.4h.01M883.4,788.3h.01M883.6,813.8h.01M884.2,832.7h.01M884.5,842.9h.01M885.5,822.5h.01M884.7,837.2h.01M886,842.6h.01M884.1,823.2h.01M881.9,809.1h.01M880,780.7h.01M883.1,804.6h.01M885.7,840.6h.01M883.4,848.1h.01M884.9,840.6h.01M883.4,835.1h.01M884.7,817.6h.01M883.1,810.3h.01M881.3,795.5h.01M883.7,785.3h.01M883.8,801.4h.01M883.4,843.3h.01M882.1,785h.01M882.1,828.2h.01M881.4,795.1h.01M880.1,782h.01M884.8,839.1h.01M883.2,801.4h.01M881.3,801.9h.01M886.8,838.5h.01M879.7,779h.01M883.6,816.4h.01M880.9,785.1h.01M881.7,789.9h.01M884.1,823.6h.01M883.4,815.4h.01M883.8,847.6h.01M883.8,793.9h.01M885.3,840.9h.01M884.2,831h.01M884.1,842.3h.01M883.1,818h.01M880.8,804.3h.01M879.1,781.9h.01M885,845.3h.01M883.7,838.2h.01M882.4,800.9h.01M881,808.4h.01M883,814.6h.01M880.5,764.9h.01M880.8,758.9h.01M880.7,753h.01M879,749.1h.01M880,747h.01M880.5,743h.01M879.9,739.1h.01M878.9,733.2h.01M878.5,729.2h.01M878.6,727.2h.01M876.6,697.5h.01M875.7,671.7h.01M880.5,762.9h.01M880.1,755h.01M880.5,751h.01M829.7,677.6h.01" fill="none" stroke="#f0e432" stroke-width="3.6" stroke-linecap="round"/>
<path d="M897.1,856.5h.01M948.8,874.1h.01M914.9,862.7h.01M922,865.5h.01M969,883h.01M975.1,883.2h.01M925,864.2h.01M958.8,879.1h.01M936.1,872.8h.01M967.8,884h.01M901,859.3h.01M934.2,869.9h.01M910,861.1h.01M914.3,862.5h.01M967.4,882.3h.01M960.2,878.2h.01M938.2,872.1h.01M895.8,858.9h.01M914.7,863.4h.01M929.7,871.7h.01M929,866.5h.01M907.5,859.4h.01M966.8,884.6h.01M906.2,860.5h.01M928.9,866.9h.01M903.7,862.2h.01M907.9,857.3h.01M942.4,873.9h.01M896.1,858.8h.01M900.4,857.5h.01M968.5,881.1h.01M965.2,880.9h.01M948.8,874.4h.01M971.9,883h.01M908.4,860.8h.01M914.9,862.7h.01M905.7,858.7h.01M909.7,859.8h.01M920.8,862.9h.01M945,875.2h.01M909.3,859.7h.01M913.8,864.4h.01M912.8,861.2h.01M942.3,876.2h.01M925.1,868.7h.01M933.5,869.2h.01M939.8,871.8h.01M913.1,862.3h.01M898.3,859.4h.01M913.1,862.3h.01M913,861.2h.01M934.8,871.2h.01M975.9,887.6h.01M896.8,854.1h.01M921,865.7h.01M971.2,882.4h.01M935.8,870.5h.01M944.3,872.2h.01M956.3,879.4h.01M933.2,866.9h.01M947.5,874.6h.01M932.5,870.1h.01M956.5,877.7h.01M904.5,858.4h.01M926,866.3h.01M955.6,878.2h.01M910.1,858.8h.01M929.9,868.6h.01M930.3,870.2h.01M896.7,854.6h.01M937.7,869.9h.01M965.3,881.4h.01M895.1,856.5h.01M931,867.4h.01M911.2,862.2h.01M957.4,881h.01M936.6,872.1h.01M934.6,870.3h.01M903.3,857.7h.01M914.8,864h.01M941.6,872.9h.01M933.2,869.3h.01M898.6,858.9h.01M960.2,879.8h.01M903.6,859.8h.01M947.7,875.9h.01M898.3,854.8h.01M923.5,865.4h.01M974.8,885.3h.01M897.3,854.2h.01M976.5,885.3h.01M903.5,856.6h.01M896.2,856.8h.01M909.6,861.6h.01M922,865h.01M914.3,862.2h.01M896,856.4h.01M977.5,885.7h.01M909.6,858.8h.01M911,860.5h.01M927.7,867.2h.01M971.5,882.5h.01M975.8,885.8h.01M940.3,873.5h.01M944.2,873.8h.01M897.8,855.6h.01M964,882.4h.01M938.6,872.6h.01M922.1,864.5h.01M963.1,878.5h.01M907.3,861.8h.01M917.9,864.7h.01M903.7,860.5h.01M906.9,860.4h.01M914.5,864.3h.01M925.7,868.9h.01M964.5,880.7h.01M907.2,859.7h.01M948,875.2h.01M919.4,864.5h.01M905.4,859.7h.01M912.2,859.5h.01M949.7,877.4h.01M912,861.4h.01M971.5,883.9h.01M919,864.6h.01M969.5,880.4h.01M895.6,855.4h.01M898.5,858.2h.01M966.7,880.5h.01M931.9,871.2h.01M897.5,855.8h.01M896.3,856.8h.01M903.4,858.5h.01M915.3,862.9h.01M924.6,865.7h.01M949.6,875.2h.01M911.3,861.3h.01M903.7,856.8h.01M907.2,859.7h.01M922.2,867.7h.01M921.1,865.8h.01M913.9,861.8h.01M917.9,864.1h.01M895.5,856.3h.01M943.3,870.9h.01M975.8,883.9h.01M914.6,861.3h.01M908.8,858h.01M948.5,873.3h.01M989.8,888.5h.01M994.9,892.1h.01M998.9,892.9h.01M1002.6,894.4h.01M1004.5,895h.01M1014.1,898.1h.01M1027.1,903.7h.01M1044,910.1h.01M1074.4,920.7h.01M991.3,890.1h.01" fill="none" stroke="#e0231e" stroke-width="3.6" stroke-linecap="round"/>
<path d="M853.9,883.8h.01M816.8,922h.01M827.2,910.6h.01M879.6,860.7h.01M799.7,937.3h.01M803.2,933.7h.01M872.9,861.2h.01M849.7,885.3h.01M849.3,892.5h.01M859.9,876h.01M801.8,932.7h.01M874.3,862.9h.01M870.2,867.6h.01M868,870.2h.01M858.5,880.8h.01M832.3,901.9h.01M873.3,861.1h.01M843.9,893.2h.01M841.3,894.2h.01M851.4,887.6h.01M841.3,894h.01M871.8,864.4h.01M830.4,903.6h.01M841.2,893.9h.01M811,927.7h.01M867.3,870.3h.01M806.8,933h.01M861.8,877.8h.01M865.3,866.1h.01M794.8,941.2h.01M867.1,871.1h.01M823.3,913.6h.01M812.2,923.8h.01M851.6,885.2h.01M854,884.4h.01M826.7,908.9h.01M827.5,909.2h.01M803.9,931.9h.01M844.4,892.9h.01M821.6,918.2h.01M870.3,867h.01M877.6,859.1h.01M839.9,896.7h.01M844.1,894.2h.01M871,867h.01M866.9,865.7h.01M804.8,936.1h.01M873.1,857.5h.01M847.1,887.7h.01M819.9,917.9h.01M842.3,892.4h.01M851.2,886.2h.01M825.9,911.2h.01M810.9,925h.01M821,913.9h.01M852.9,883.7h.01M843,892.7h.01M878.4,854.7h.01M826.6,912.6h.01M810.2,927.7h.01M836.4,902.2h.01M842.3,890.5h.01M865.4,872.3h.01M804.4,932.4h.01M816,924h.01M851.1,881.9h.01M827.7,911.8h.01M819.1,917.5h.01M824.7,914.2h.01M878.8,860.4h.01M879.3,855.2h.01M858.6,881h.01M868.6,871.6h.01M801.2,936.2h.01M830.7,907.9h.01M839.5,899.7h.01M795.1,941.8h.01M832.1,906h.01M798.3,940.8h.01M882.1,858.9h.01M866.8,873.4h.01M852.7,882.8h.01M855.4,881.2h.01M876.3,861.1h.01M837.7,894.3h.01M842.6,891.4h.01M795.6,941.4h.01M831.8,904.9h.01M836.2,901.6h.01M817.9,914.7h.01M871.4,864h.01M846.7,889h.01M833.4,901.3h.01M877.1,857.3h.01M842.8,895.1h.01M836.4,901.8h.01M829.6,906h.01M839.6,898.1h.01M860.1,872.9h.01M880.6,856.7h.01M872.1,864.3h.01M822.1,918h.01M819.8,914.4h.01M875.4,854.7h.01M878,859.9h.01M805.8,932.6h.01M797.4,938.5h.01M869.5,874.2h.01M824,913.6h.01M845.5,887.2h.01M835.5,902h.01M876.4,863.2h.01M870.3,869.1h.01M879.6,859.2h.01M850,887.3h.01M829.8,908.7h.01M837,899.5h.01M851.7,884.9h.01M796.1,942.4h.01M800,936.7h.01M876.4,863.1h.01M806.1,930.2h.01M858.9,881.9h.01M864.9,873.8h.01M837.7,902h.01M832.4,904.5h.01M866.8,872.2h.01M795.7,938.2h.01M881.1,859.4h.01M878.6,859.1h.01M832.2,902.5h.01M876.6,861.8h.01M877.1,860.5h.01M829.6,910.1h.01M856.5,881.8h.01M846.5,890h.01M820.6,914.5h.01M811.5,924.4h.01M814.7,921.6h.01M833.2,903.6h.01M852.4,886.4h.01M864.7,871.5h.01M831.4,907.5h.01M796.5,941h.01M820.2,914.4h.01M804.1,934.1h.01M875.8,860.3h.01M807.8,928.3h.01M838.7,897.9h.01M846.6,891.3h.01M819.1,919.2h.01M877.1,859.2h.01M875.2,857.9h.01M861.9,875.9h.01M865.3,876h.01M874.9,865.3h.01M854.9,879h.01M875.6,862.7h.01M804.6,934.1h.01M800.6,934.6h.01M816.1,921.8h.01M862.1,876.2h.01M801.1,934h.01M806.1,930.6h.01M855.3,879.4h.01M857.8,881.4h.01M869,866.5h.01M838.5,897.6h.01M813.2,925.7h.01M838.2,897.1h.01M806.2,927.9h.01M861.8,872.2h.01M840.6,896h.01M837,896.8h.01M815.7,921.6h.01M880.8,861.6h.01M877.9,861h.01M877.5,860.3h.01M880.2,863.4h.01M831.2,903.5h.01M829.5,904.7h.01M865.7,870.6h.01M840.9,892.2h.01M820.1,918.1h.01M797.9,937.9h.01M829.9,909.6h.01M823.8,913h.01M824.2,910.9h.01M813.7,924.1h.01M828,906.6h.01M813.7,925.7h.01M805.6,928.8h.01M843.1,894.8h.01M824.6,911.6h.01M853.1,886.5h.01M873.5,864.3h.01M859.7,885.4h.01M871.4,865.1h.01M861.2,873.3h.01M797.5,937.9h.01M874.8,861.6h.01M830.9,905.9h.01M879.3,859.9h.01M850.8,890.9h.01M881.3,859.4h.01M875.2,861.2h.01M866,869.4h.01M824.8,913.3h.01M871.2,867.3h.01M862.3,872.7h.01M859,874.2h.01M839.9,896.1h.01M866.4,873.7h.01M806.2,929.2h.01M841,897.1h.01M800.1,937.7h.01M878.9,858.2h.01M800.3,935.9h.01M843.4,895.8h.01M843.9,894.2h.01M826.9,903.7h.01M865.2,868.9h.01M856,881h.01M816.5,920.9h.01M874.4,866.7h.01M873,865.3h.01M808.1,927.4h.01M845.8,896.1h.01M867.8,876h.01M840.5,894.2h.01M878.9,854.2h.01M812.7,922.1h.01M879.5,862.4h.01M864.4,873.1h.01M847.1,891h.01M846.1,887.9h.01M810.3,927.1h.01M861.3,875.2h.01M804.6,933.8h.01M876.3,860.1h.01M841.6,896.9h.01M841.3,893.3h.01M858.9,874.1h.01M860,875.1h.01M847.3,888.8h.01M825.4,913.5h.01M874.1,859.7h.01M857.4,886.3h.01M812.3,923.4h.01M829.4,905.5h.01M824.8,911.9h.01M868.2,871.9h.01M881.4,857.3h.01M795.7,940.7h.01M834.7,903.6h.01M863.9,875.7h.01M860.9,874h.01M860.4,879.8h.01M864,870.6h.01M869.7,867.9h.01M801.5,936.6h.01M839.2,898.1h.01M813.9,924.5h.01M876.2,860.3h.01M827.7,908.5h.01M824.6,911.4h.01M811.3,923.8h.01M835.6,900.1h.01M872,864.2h.01M875.2,863.1h.01M803.2,933.1h.01M853.1,887.6h.01M819.3,917.7h.01M814.3,923.7h.01M851.9,883.8h.01M882.5,858.7h.01M796.2,939.1h.01M817.6,920.6h.01M882.2,858.7h.01M860.5,878.8h.01M874,859.7h.01M857.8,883.9h.01M813.4,923.6h.01M833.5,901.5h.01M804,930.3h.01M841.2,897.4h.01M872.2,862.4h.01M823.4,911.1h.01M824.5,912.6h.01M811.5,923.8h.01M830.5,901.5h.01M868.8,866.7h.01M837.4,898.8h.01M827.3,911.8h.01M854.3,877.6h.01M845.8,886.6h.01M871.2,860.6h.01M806.1,932.6h.01M839.7,898.1h.01M861.1,868.9h.01M815.6,924.2h.01M833.9,900.1h.01M861.1,872.6h.01M805.8,930.8h.01M811.6,922.9h.01M871.1,867.3h.01M880,857.7h.01M867.6,863h.01M830.2,907.2h.01M862.3,876.9h.01M857,883.8h.01M836.3,900.6h.01M869.8,868h.01M846.9,888.6h.01M837.6,897.7h.01M872.5,867h.01M838.7,898.5h.01M859.6,878.1h.01M829,908.4h.01M871.5,862h.01M847.9,890h.01M854,885.8h.01M821.2,917.8h.01M823.9,919.3h.01M811.7,924.5h.01M811,927.3h.01M838.1,897.6h.01M806,932.7h.01M851.1,886.5h.01M805.2,931.7h.01M790.6,945.7h.01M788.2,948.8h.01M786.4,952.5h.01M782.5,954.2h.01M779,959h.01M774.1,962.4h.01M773.2,964.2h.01M770.1,966.7h.01M746.4,990h.01M793.1,942.6h.01M788.9,946.8h.01M787.1,950.5h.01M822.5,941h.01M812,932h.01" fill="none" stroke="#1f4ea1" stroke-width="3.6" stroke-linecap="round"/>
<line x1="735.2" y1="991.9" x2="664.3" y2="800.5" stroke="#000" stroke-width="3" /><path d="M660.6,790.7 L671,802.9 L664.4,800.8 L660.7,806.7 Z" fill="#000"/>
<line x1="743.2" y1="1000.6" x2="901.9" y2="1090.7" stroke="#000" stroke-width="3" /><path d="M911,1095.9 L895.2,1093.3 L901.6,1090.6 L900.7,1083.7 Z" fill="#000"/>
<line x1="1079.7" y1="928.4" x2="1004.3" y2="1092.7" stroke="#000" stroke-width="3" /><path d="M999.9,1102.2 L1001.2,1086.3 L1004.4,1092.4 L1011.2,1090.9 Z" fill="#000"/>
<text transform="translate(670.5 917.5) rotate(69.7)" x="-75" y="0" font-size="26.5" textLength="150" lengthAdjust="spacingAndGlyphs">Locust UMIs</text>
<text transform="translate(811.5 1069) rotate(30.5)" x="-75.5" y="0" font-size="26.5" textLength="151" lengthAdjust="spacingAndGlyphs">Mouse UMIs</text>
<text transform="translate(1072 1020) rotate(-65.4)" x="-79" y="0" font-size="26.5" textLength="158" lengthAdjust="spacingAndGlyphs">Human UMIs</text>
<circle cx="1182.9" cy="744.7" r="6.3" fill="#0000ff"/>
<text x="1201.5" y="749.8" font-size="21" textLength="73.4" lengthAdjust="spacingAndGlyphs" >Human</text>
<text x="1201.5" y="776.4" font-size="21" textLength="88" lengthAdjust="spacingAndGlyphs" >(37.52%)</text>
<circle cx="1182.9" cy="818.1" r="6.3" fill="#ff0000"/>
<text x="1201.5" y="823.7" font-size="21" textLength="68.5" lengthAdjust="spacingAndGlyphs" >Mouse</text>
<text x="1201.5" y="849.8" font-size="21" textLength="91" lengthAdjust="spacingAndGlyphs" >(28.05%)</text>
<circle cx="1182.9" cy="891.5" r="6.3" fill="#ffff00"/>
<text x="1201.5" y="896.7" font-size="21" textLength="68.5" lengthAdjust="spacingAndGlyphs" >Locust</text>
<text x="1201.5" y="922.5" font-size="21" textLength="89" lengthAdjust="spacingAndGlyphs" >(32.32%)</text>
<circle cx="1182.9" cy="964.9" r="6.3" fill="#c4c4c4"/>
<text x="1201.5" y="970" font-size="21" textLength="103" lengthAdjust="spacingAndGlyphs" >Multiplets</text>
<text x="1201.5" y="995.9" font-size="21" textLength="67.5" lengthAdjust="spacingAndGlyphs" >(2.11%)</text>
<text x="1408.8" y="521.5" font-size="37" textLength="23.2" lengthAdjust="spacingAndGlyphs" font-weight="bold" stroke="#000" stroke-width="0.9">d</text>
<text x="1627.1" y="556.6" font-size="26.5" textLength="193" lengthAdjust="spacingAndGlyphs" >UDA (Multiome)</text>
<text x="1593.7" y="587.2" font-size="26.5" textLength="266.1" lengthAdjust="spacingAndGlyphs" >Nuclei (16 post-index)</text>
<path d="M1754,765.4h.01M1832,758.7h.01M1851,762.2h.01M1858.4,759.4h.01M1817.6,769.3h.01M1853.8,770.3h.01M1816.6,779.1h.01M1828.5,777.4h.01M1799.3,785.4h.01M1805,788.3h.01M1815.9,784.7h.01M1821.8,791.1h.01M1831,785.1h.01M1851.7,783.7h.01M1778.9,793.9h.01M1781.4,808.6h.01M1795.5,817.4h.01M1827.8,816.7h.01M1741.7,824.1h.01M1800,832.9h.01M1806.4,830.8h.01M1777.2,854.7h.01M1816.9,882.5h.01M1712.9,900.7h.01M1597.9,933.8h.01" fill="none" stroke="#c2c2c2" stroke-width="4.6" stroke-linecap="round"/>
<path d="M1592.7,920.4h.01M1569.8,951.7h.01M1555,952.8h.01M1561.7,961.2h.01M1554.7,958.7h.01M1567.7,968.6h.01M1569.8,983.3h.01M1687.6,1000.9h.01M1692.1,1028.3h.01M1619.7,1029h.01M1591.2,1029h.01M1559.6,993.2h.01M1557.5,996.7h.01M1555.7,1004.4h.01M1553.3,964.4h.01M1551.2,967.2h.01M1545.2,969.3h.01M1544.5,974.9h.01M1546.6,972.1h.01M1552.2,972.1h.01M1542.5,998.7h.01M1548.7,975h.01M1543.5,1001.8h.01M1543.2,999.8h.01M1544.3,995.9h.01M1542.2,1011.7h.01M1539.4,1023h.01M1548,981.1h.01M1543.1,1009.2h.01M1541.4,1025.7h.01M1540.7,1001.6h.01M1543.7,999.1h.01M1539.2,1029h.01M1541.3,993.7h.01M1549.4,989.5h.01M1539.4,1029.7h.01M1542,1021.8h.01M1541.6,1026h.01M1544.3,974.9h.01M1540.9,1024.8h.01M1539.6,1029.9h.01M1539.6,1029.4h.01M1542.8,988h.01M1540.8,1016.4h.01M1540.1,1005.5h.01M1540.2,991.3h.01M1545.5,995.9h.01M1540.5,996.7h.01M1541.7,1001.4h.01M1541.1,1026.1h.01M1541.2,1013h.01M1540,994.3h.01M1543.6,993.4h.01M1540.7,1020.7h.01M1539.8,1006.1h.01M1541.2,989.3h.01M1540.8,1025.3h.01M1540,1026.9h.01M1543.6,993.6h.01M1540,1014h.01M1540.7,1015.3h.01M1540.2,1026h.01M1545.2,994.8h.01M1543.2,1003.7h.01M1539.2,999.9h.01M1540,1030.3h.01M1539.9,1030h.01M1539.6,1031.1h.01M1544.6,977.1h.01M1539.6,1027.6h.01M1540.6,1024.9h.01M1539.8,1025.2h.01M1539.7,1018.5h.01M1539.7,1006h.01M1548.6,974.4h.01M1544.6,992.9h.01M1543.5,972.8h.01M1545.5,992.9h.01M1538.9,1024.7h.01M1539,1028.6h.01M1545,970.6h.01M1541.3,1018.2h.01M1544.6,989.8h.01M1546.9,973.2h.01M1538.9,1009.3h.01M1542.3,985.3h.01M1542.7,1029.8h.01M1540.1,1014.3h.01M1540.3,1028.8h.01M1539.6,1029.5h.01M1539,1029.6h.01M1540.1,1010.8h.01M1542.2,1029.6h.01M1541.6,1004.3h.01M1540.2,1002.8h.01M1544.5,1002.1h.01M1539.2,998.2h.01M1542.1,1002.2h.01M1544.4,1000.1h.01M1543.3,975.3h.01M1539.5,1008.1h.01M1539.7,1016.6h.01M1540.2,985.8h.01M1539.8,1028.4h.01M1540.3,1028.3h.01M1539.6,1029.2h.01M1539,1029.7h.01M1539.9,1027.7h.01M1541.2,1016.4h.01M1545.9,994.3h.01M1545,999.8h.01M1548,972.1h.01M1541.9,991h.01M1541.1,1026.2h.01M1539.1,1024.3h.01M1540.9,1029.1h.01M1539.8,1001h.01M1541.6,1013.9h.01M1544.3,972.5h.01M1540.3,1013.5h.01M1540.8,1030.9h.01M1540.2,1027.8h.01M1540.2,1024.3h.01M1541.1,984.2h.01M1541.2,1016.3h.01M1542.8,1008.6h.01M1549,973.5h.01M1539.9,1027.5h.01M1542.3,1010h.01M1542.8,999.7h.01M1542.3,977.7h.01M1540.1,1022.7h.01M1539.7,1013.9h.01M1541.7,1020.2h.01M1543.7,980.8h.01M1541,1025.6h.01M1539.9,1005.5h.01M1546.2,989.8h.01M1540,1022.8h.01M1546.2,979.1h.01M1543.5,983.8h.01M1539.9,999h.01M1539.9,1011.9h.01M1540.6,1012.3h.01M1548.3,990.8h.01M1548.7,974.5h.01M1543.7,993.2h.01M1543.5,998.5h.01M1539.1,1003.4h.01M1541.1,1013.9h.01M1547,986.8h.01M1541.5,1018.7h.01M1539,1028.8h.01M1548.1,976.5h.01M1540.8,981h.01M1545.4,1003.7h.01M1541.1,1020.7h.01M1538.8,1031.1h.01M1541.6,1023.9h.01M1543.6,997.2h.01M1539.8,1027.2h.01M1543.4,1012.8h.01M1540,1022.1h.01M1541.4,976.5h.01M1539.1,995.8h.01M1544.6,1000.4h.01M1543.3,977.9h.01M1545.1,1002.9h.01M1541.6,1017.1h.01M1540.5,1023.4h.01M1540.4,1026.9h.01M1540.2,1023.3h.01M1539.8,994.9h.01M1544.9,1005.8h.01M1547.3,971.9h.01M1543.6,974.3h.01M1540.2,991.3h.01M1540.1,1023.1h.01M1539.7,1027.9h.01M1546.6,986.9h.01M1548.2,982.6h.01M1548,971.9h.01M1539.8,971.3h.01M1539.6,1022.4h.01M1539.9,1007.5h.01M1542.8,1011h.01M1541.3,1012.8h.01M1543.7,992.2h.01M1548.1,971.5h.01M1541.2,989.6h.01M1540.5,1026.9h.01M1543,974.9h.01M1542.8,1017.8h.01M1540.4,999.8h.01M1539.7,1015.1h.01M1540.9,1009.9h.01M1540.2,993.5h.01M1543.9,1006.3h.01M1541.5,1002.1h.01M1543.5,1014h.01M1538.7,1031.1h.01M1540.9,1020h.01M1539.8,1012.3h.01M1543.9,970.6h.01M1544.2,1006.7h.01M1543.1,992h.01M1540.6,1029.6h.01M1545.9,998.5h.01M1538.9,995h.01M1542.5,986h.01M1544,978.3h.01M1550.8,968.7h.01M1544.6,976.9h.01M1552.5,970.8h.01M1540.4,1021.9h.01M1540.8,1018h.01M1539.3,1026.6h.01M1543.2,1012.4h.01M1547.5,977.4h.01M1545.9,971.6h.01M1539.8,1026h.01M1541.7,1030.3h.01M1540.4,1009.4h.01M1542.2,985.6h.01M1541.2,1003.6h.01M1539.4,1027.1h.01M1541.7,1012.8h.01M1542.6,971.2h.01M1543.2,1000.2h.01M1540.8,1026.1h.01M1544.3,990.7h.01M1541.9,1004.6h.01M1540.4,984.3h.01M1540.4,1012.1h.01M1539,1030.6h.01M1544.2,974.4h.01M1544.7,1002.8h.01M1545.5,969.5h.01M1539.6,1024.5h.01M1543.3,988.5h.01M1541.7,1011.9h.01M1540.4,981.6h.01M1541,1014.2h.01M1538.9,1007.8h.01M1539.5,1028.1h.01M1539.8,1019.3h.01M1546.2,985h.01M1542.3,996.3h.01M1544.7,996.1h.01M1543.6,1008.8h.01M1538.5,1027.1h.01M1549.5,1027h.01M1538.8,1028.3h.01M1538.8,1028.6h.01M1540.2,1028.6h.01M1541.6,1029.6h.01M1538,1028.8h.01M1538,1028.2h.01M1554.1,1029h.01M1539.1,1029.3h.01M1540.4,1027.7h.01M1537.8,1029.1h.01M1550.9,1028.2h.01M1538.8,1027.7h.01M1543.3,1027.2h.01M1538.6,1028.1h.01M1549.2,1027.4h.01M1539.7,1028.9h.01M1545,1029.5h.01M1538.9,1028.3h.01M1551.4,1028.5h.01M1545.6,1029.1h.01M1544.7,1027.2h.01M1540.4,1029.4h.01M1542.5,1028.7h.01M1541,1029.1h.01M1538.8,1028.7h.01M1551.7,1027.1h.01M1548.3,1028.7h.01M1543.1,1028.1h.01M1538.7,1027.1h.01M1546.1,1029.4h.01M1538.4,1027.4h.01M1558.8,1029.4h.01M1539.3,1028.1h.01M1538,1028.5h.01M1538.7,1028.4h.01M1562.6,1028.2h.01M1540,1027.2h.01M1539.1,1029.7h.01" fill="none" stroke="#e0231e" stroke-width="4.6" stroke-linecap="round"/>
<path d="M1853.8,673.3h.01M1866.8,669.8h.01M1878.1,663.1h.01M1865.1,683.2h.01M1894.9,668h.01M1897.4,673.7h.01M1866.1,716.9h.01M1910.8,709.5h.01M1900.2,731.7h.01M1912.5,728.2h.01M1889,764.4h.01M1902,663.5h.01M1904.4,664.2h.01M1907.2,662.8h.01M1914.9,678.3h.01M1906.4,694.6h.01M1914.3,683.8h.01M1914.7,671.9h.01M1908.9,694.6h.01M1911.5,662.1h.01M1915.2,672h.01M1908.8,676.2h.01M1915,661.1h.01M1911.4,693.1h.01M1910.5,685.1h.01M1911.7,662.6h.01M1915.1,678.1h.01M1915.1,690.6h.01M1913.5,664h.01M1901.4,690.7h.01M1910.8,666.1h.01M1913.8,680.8h.01M1911.1,663.9h.01M1912.5,696h.01M1913.9,691.9h.01M1913,663.1h.01M1913.4,662.7h.01M1913.6,677.5h.01M1914.6,661h.01M1912.1,666.7h.01M1911,687.8h.01M1914.8,672.5h.01M1902.6,682.1h.01M1913.6,661.1h.01M1914.8,684.3h.01M1914.5,686.2h.01M1914.8,668.4h.01M1915.2,661.3h.01M1913.6,663.4h.01M1914.4,684.6h.01M1911,693.9h.01M1913.9,668.1h.01M1914.9,674.2h.01M1913,684.2h.01M1914.5,686.7h.01M1914.3,694.8h.01M1913.8,661.8h.01M1909.5,693.2h.01M1910.6,667.6h.01M1913.1,666.8h.01M1914.6,666.9h.01M1914.4,662.8h.01M1912.4,681.4h.01M1915.3,661.3h.01M1910.3,697.1h.01M1914.6,664.7h.01M1912.7,677.1h.01M1910.6,670.3h.01M1914.9,661.4h.01M1914.6,672.9h.01M1909.8,688.9h.01M1909.4,695h.01M1914.8,678.7h.01M1913,670.7h.01M1914.2,662.8h.01M1911.8,671.4h.01M1907.1,697.9h.01M1904.3,671.4h.01M1914.6,672.7h.01M1911.1,666.1h.01M1912.5,669.7h.01M1911.4,697.2h.01M1911.2,695.6h.01M1911.8,667.5h.01M1914.8,661.8h.01M1906.7,690.4h.01M1913.6,668.3h.01M1906.9,681.6h.01M1915,680.2h.01M1910.6,682.1h.01M1909.1,665.9h.01M1914.6,681.4h.01M1910.2,666.2h.01M1912.8,676.5h.01M1914,661h.01M1914.2,680.5h.01M1912.3,671.8h.01M1908.7,686.7h.01M1911,667.8h.01M1908.9,688.3h.01M1910.5,667.9h.01M1906.9,681.3h.01M1909.5,696.5h.01M1913.6,674.4h.01M1912.1,663.1h.01M1904.9,672.3h.01M1913.8,681.5h.01M1911.1,663.2h.01M1908.9,685.8h.01M1911.8,670.3h.01M1914.2,678.4h.01M1908.3,682.9h.01M1914.3,661.1h.01M1910.8,679.6h.01M1913.6,664.3h.01M1912.9,661.2h.01M1915.1,672.1h.01M1914.5,662.5h.01M1914.2,666.9h.01M1914.2,661.2h.01M1910.2,671.9h.01M1910.5,676.9h.01M1915.2,664.7h.01M1915.2,669.7h.01M1913.8,665.8h.01M1914,688.5h.01M1909.3,668.7h.01M1914.7,661.9h.01M1911.6,675h.01M1909.7,695.5h.01M1907.3,687.8h.01M1910.9,679.2h.01M1911.6,668.5h.01M1909.8,675.8h.01M1908.6,695.4h.01M1914.1,667.9h.01M1912.9,691.8h.01M1915.3,675.9h.01M1910.9,678h.01M1909.9,691.7h.01M1912.4,668.7h.01M1914.2,666.2h.01M1906,696.3h.01M1906.6,693h.01M1914.4,677.1h.01M1906.4,673.1h.01M1910.7,667h.01M1914.9,666h.01M1910.1,672.3h.01M1910.5,671.1h.01M1913.9,666.2h.01M1912.1,661.1h.01M1913.5,674.5h.01M1903.7,685.9h.01M1915.1,664.9h.01M1912.4,697.3h.01M1912,666.2h.01M1911.8,679.3h.01M1915.2,677.5h.01M1912.8,684.8h.01M1911.9,666.4h.01M1914.6,666.3h.01M1910.5,674.4h.01M1914.3,684.1h.01" fill="none" stroke="#000" stroke-width="4.6" stroke-linecap="round"/>
<line x1="1537.8" y1="642.4" x2="1537.8" y2="1044.1" stroke="#333" stroke-width="1.4" />
<line x1="1525.2" y1="1031.1" x2="1934.7" y2="1031.1" stroke="#333" stroke-width="1.4" />
<line x1="1525.2" y1="1031.1" x2="1537.8" y2="1031.1" stroke="#333" stroke-width="1.4" />
<text x="1510.8" y="1038" font-size="22.3" text-anchor="end" >0</text>
<line x1="1537.8" y1="1031.1" x2="1537.8" y2="1044.1" stroke="#333" stroke-width="1.4" />
<text x="1537.8" y="1077.5" font-size="22.3" text-anchor="middle" >0</text>
<line x1="1525.2" y1="938.3" x2="1537.8" y2="938.3" stroke="#333" stroke-width="1.4" />
<text x="1465.8" y="945.2" font-size="22.3" textLength="45" lengthAdjust="spacingAndGlyphs" >0.25</text>
<line x1="1632.4" y1="1031.1" x2="1632.4" y2="1044.1" stroke="#333" stroke-width="1.4" />
<text x="1609.9" y="1077.5" font-size="22.3" textLength="45" lengthAdjust="spacingAndGlyphs" >0.25</text>
<line x1="1525.2" y1="845.9" x2="1537.8" y2="845.9" stroke="#333" stroke-width="1.4" />
<text x="1465.8" y="852.8" font-size="22.3" textLength="45" lengthAdjust="spacingAndGlyphs" >0.50</text>
<line x1="1726.9" y1="1031.1" x2="1726.9" y2="1044.1" stroke="#333" stroke-width="1.4" />
<text x="1704.4" y="1077.5" font-size="22.3" textLength="45" lengthAdjust="spacingAndGlyphs" >0.50</text>
<line x1="1525.2" y1="753.1" x2="1537.8" y2="753.1" stroke="#333" stroke-width="1.4" />
<text x="1465.8" y="760" font-size="22.3" textLength="45" lengthAdjust="spacingAndGlyphs" >0.75</text>
<line x1="1821.1" y1="1031.1" x2="1821.1" y2="1044.1" stroke="#333" stroke-width="1.4" />
<text x="1798.6" y="1077.5" font-size="22.3" textLength="45" lengthAdjust="spacingAndGlyphs" >0.75</text>
<line x1="1525.2" y1="660.3" x2="1537.8" y2="660.3" stroke="#333" stroke-width="1.4" />
<text x="1465.8" y="667.2" font-size="22.3" textLength="45" lengthAdjust="spacingAndGlyphs" >1.00</text>
<line x1="1915.7" y1="1031.1" x2="1915.7" y2="1044.1" stroke="#333" stroke-width="1.4" />
<text x="1893.2" y="1077.5" font-size="22.3" textLength="45" lengthAdjust="spacingAndGlyphs" >1.00</text>
<text x="1560.3" y="1117.3" font-size="26.5" textLength="333.9" lengthAdjust="spacingAndGlyphs" >hg38 ATAC fragments ratio</text>
<text transform="translate(1442.6 846.4) rotate(-90)" x="-125.7" y="0" font-size="26.5" textLength="251.3" lengthAdjust="spacingAndGlyphs">hg38 RNA UMIs ratio</text>
<circle cx="1578.2" cy="669.8" r="6.4" fill="#000"/>
<text x="1595.1" y="675.1" font-size="21" textLength="169.8" lengthAdjust="spacingAndGlyphs" >Human (56.76%)</text>
<circle cx="1578.2" cy="701.4" r="6.4" fill="#f00"/>
<text x="1595.1" y="706.7" font-size="21" textLength="162.8" lengthAdjust="spacingAndGlyphs" >Mouse (42.57%)</text>
<circle cx="1578.2" cy="732.4" r="6.4" fill="#c4c4c4"/>
<text x="1595.1" y="738.3" font-size="21" textLength="187.4" lengthAdjust="spacingAndGlyphs" >Multiplets (0.67%)</text>
<text x="0" y="1226.5" font-size="37" textLength="23" lengthAdjust="spacingAndGlyphs" font-weight="bold" stroke="#000" stroke-width="0.9">e</text>
<text x="228.2" y="1229.7" font-size="26.5" textLength="100.4" lengthAdjust="spacingAndGlyphs" >Cell line</text>
<text x="686.6" y="1230.4" font-size="26.5" textLength="75.7" lengthAdjust="spacingAndGlyphs" >Tissue</text>
<text x="56.7" y="1266.2" font-size="26.5" textLength="61.2" lengthAdjust="spacingAndGlyphs" >Cells</text>
<text x="156" y="1266.3" font-size="22.3" textLength="57" lengthAdjust="spacingAndGlyphs" >3,372</text>
<text x="227.5" y="1266.3" font-size="22.3" textLength="56.7" lengthAdjust="spacingAndGlyphs" >4,961</text>
<text x="330.2" y="1266.3" font-size="22.3" textLength="53.5" lengthAdjust="spacingAndGlyphs" >1,252</text>
<text x="478.2" y="1266.3" font-size="22.3" textLength="58.3" lengthAdjust="spacingAndGlyphs" >9,326</text>
<text x="563.5" y="1266.3" font-size="22.3" textLength="54.8" lengthAdjust="spacingAndGlyphs" >2,198</text>
<text x="646.6" y="1266.3" font-size="22.3" textLength="57" lengthAdjust="spacingAndGlyphs" >6,872</text>
<text x="732.2" y="1266.3" font-size="22.3" textLength="55" lengthAdjust="spacingAndGlyphs" >9,199</text>
<text x="818.1" y="1266.3" font-size="22.3" textLength="50" lengthAdjust="spacingAndGlyphs" >1,971</text>
<text x="900.2" y="1266.3" font-size="22.3" textLength="55" lengthAdjust="spacingAndGlyphs" >2,180</text>
<rect x="138.9" y="1274.4" width="279" height="287.4" fill="none" stroke="#333" stroke-width="1.5"/>
<rect x="140.9" y="1569" width="277" height="237.3" fill="none" stroke="#333" stroke-width="1.5"/>
<rect x="457.7" y="1274.3" width="533.7" height="287.6" fill="none" stroke="#333" stroke-width="1.5"/>
<rect x="457.7" y="1568.5" width="533.7" height="238" fill="none" stroke="#333" stroke-width="1.5"/>
<line x1="294.4" y1="1274.5" x2="294.4" y2="1806.3" stroke="#444" stroke-width="1.1" stroke-dasharray="3.2 3.2"/>
<line x1="634.8" y1="1274.5" x2="634.8" y2="1806.3" stroke="#444" stroke-width="1.1" stroke-dasharray="3.2 3.2"/>
<line x1="807.3" y1="1274.5" x2="807.3" y2="1806.3" stroke="#444" stroke-width="1.1" stroke-dasharray="3.2 3.2"/>
<line x1="129" y1="1334" x2="138.9" y2="1334" stroke="#333" stroke-width="1.3" />
<text x="87.4" y="1340.9" font-size="22.3" textLength="30.5" lengthAdjust="spacingAndGlyphs" >3.7</text>
<line x1="129" y1="1403.5" x2="138.9" y2="1403.5" stroke="#333" stroke-width="1.3" />
<text x="87.4" y="1410.4" font-size="22.3" textLength="30.5" lengthAdjust="spacingAndGlyphs" >3.0</text>
<line x1="129" y1="1482.1" x2="138.9" y2="1482.1" stroke="#333" stroke-width="1.3" />
<text x="87.4" y="1489" font-size="22.3" textLength="30.5" lengthAdjust="spacingAndGlyphs" >2.2</text>
<line x1="129" y1="1551.1" x2="138.9" y2="1551.1" stroke="#333" stroke-width="1.3" />
<text x="87.4" y="1558" font-size="22.3" textLength="30.5" lengthAdjust="spacingAndGlyphs" >1.5</text>
<line x1="131" y1="1577.7" x2="140.9" y2="1577.7" stroke="#333" stroke-width="1.3" />
<text x="85.9" y="1584.6" font-size="22.3" textLength="32" lengthAdjust="spacingAndGlyphs" >4.6</text>
<line x1="131" y1="1653.5" x2="140.9" y2="1653.5" stroke="#333" stroke-width="1.3" />
<text x="85.9" y="1660.4" font-size="22.3" textLength="32" lengthAdjust="spacingAndGlyphs" >3.0</text>
<line x1="131" y1="1724.9" x2="140.9" y2="1724.9" stroke="#333" stroke-width="1.3" />
<text x="85.9" y="1731.8" font-size="22.3" textLength="32" lengthAdjust="spacingAndGlyphs" >1.5</text>
<line x1="131" y1="1796" x2="140.9" y2="1796" stroke="#333" stroke-width="1.3" />
<text x="117.9" y="1802.9" font-size="22.3" text-anchor="end" >0</text>
<line x1="454" y1="1286.6" x2="457.7" y2="1286.6" stroke="#333" stroke-width="1.3" />
<line x1="454" y1="1370" x2="457.7" y2="1370" stroke="#333" stroke-width="1.3" />
<line x1="454" y1="1465" x2="457.7" y2="1465" stroke="#333" stroke-width="1.3" />
<line x1="454" y1="1549.2" x2="457.7" y2="1549.2" stroke="#333" stroke-width="1.3" />
<line x1="454" y1="1577.8" x2="457.7" y2="1577.8" stroke="#333" stroke-width="1.3" />
<line x1="454" y1="1653.4" x2="457.7" y2="1653.4" stroke="#333" stroke-width="1.3" />
<line x1="454" y1="1724.5" x2="457.7" y2="1724.5" stroke="#333" stroke-width="1.3" />
<line x1="454" y1="1795.5" x2="457.7" y2="1795.5" stroke="#333" stroke-width="1.3" />
<line x1="189.3" y1="1561.8" x2="189.3" y2="1565" stroke="#333" stroke-width="1.3" />
<line x1="273.8" y1="1561.8" x2="273.8" y2="1565" stroke="#333" stroke-width="1.3" />
<line x1="357.5" y1="1561.8" x2="357.5" y2="1565" stroke="#333" stroke-width="1.3" />
<text transform="translate(31 1418.2) rotate(-90)" x="0" y="0" font-size="26.5" text-anchor="middle">log<tspan font-size="15" dy="4.5">10</tspan></text>
<text transform="translate(62.3 1417.6) rotate(-90)" x="-103.8" y="0" font-size="26.5" textLength="207.6" lengthAdjust="spacingAndGlyphs">(detected genes)</text>
<text transform="translate(31 1688) rotate(-90)" x="0" y="0" font-size="26.5" text-anchor="middle">log<tspan font-size="15" dy="4.5">10</tspan></text>
<text transform="translate(62.3 1687) rotate(-90)" x="-89.5" y="0" font-size="26.5" textLength="179" lengthAdjust="spacingAndGlyphs">(reads in peak)</text>
<text x="179.8" y="1836" font-size="21.5" textLength="75.4" lengthAdjust="spacingAndGlyphs" >NIH3T3</text>
<text x="332.5" y="1836" font-size="21.5" textLength="46.5" lengthAdjust="spacingAndGlyphs" >Hela</text>
<text x="474" y="1836.3" font-size="21.5" textLength="144.8" lengthAdjust="spacingAndGlyphs" >Kidney biopsy</text>
<text x="656.8" y="1836.3" font-size="21.5" textLength="128.4" lengthAdjust="spacingAndGlyphs" >Lung cancer</text>
<text x="806.9" y="1836.3" font-size="21.5" textLength="185" lengthAdjust="spacingAndGlyphs" >Pancreatic cancer</text>
<text x="509" y="1874.9" font-size="26.5" textLength="115.2" lengthAdjust="spacingAndGlyphs" >Multiome</text>
<text transform="translate(190 1313) rotate(-32)" x="-29" y="0" font-size="22" textLength="58" lengthAdjust="spacingAndGlyphs" style="fill:#f39410">3,076</text>
<text transform="translate(248.3 1313.8) rotate(-32)" x="-29" y="0" font-size="22" textLength="58" lengthAdjust="spacingAndGlyphs" style="fill:#20288e">2,386</text>
<text transform="translate(364.6 1311.8) rotate(-32)" x="-29" y="0" font-size="22" textLength="58" lengthAdjust="spacingAndGlyphs" style="fill:#f39410">1,924</text>
<text transform="translate(520.2 1317.3) rotate(-32)" x="-29" y="0" font-size="22" textLength="58" lengthAdjust="spacingAndGlyphs" style="fill:#f39410">1,598</text>
<text transform="translate(578.7 1316.9) rotate(-32)" x="-29" y="0" font-size="22" textLength="58" lengthAdjust="spacingAndGlyphs" style="fill:#20288e">1,738</text>
<text transform="translate(693.2 1316.2) rotate(-32)" x="-29" y="0" font-size="22" textLength="58" lengthAdjust="spacingAndGlyphs" style="fill:#f39410">1,316</text>
<text transform="translate(752.7 1317.1) rotate(-32)" x="-29" y="0" font-size="22" textLength="58" lengthAdjust="spacingAndGlyphs" style="fill:#20288e">1,873</text>
<text transform="translate(856.9 1320) rotate(-32)" x="-29" y="0" font-size="22" textLength="58" lengthAdjust="spacingAndGlyphs" style="fill:#f39410">1,069</text>
<text transform="translate(915.6 1320) rotate(-32)" x="-29" y="0" font-size="22" textLength="58" lengthAdjust="spacingAndGlyphs" style="fill:#20288e">1,622</text>
<path d="M189.3,1336C189.7,1336.4 191,1337.4 191.7,1338.4C192.3,1339.5 192.1,1341.2 193.3,1342.4C194.5,1343.6 196.4,1344.5 198.8,1345.6C201.2,1346.6 205.5,1347.5 207.6,1348.7C209.6,1349.9 210.9,1351.4 211.1,1352.7C211.4,1354 210.8,1355.3 209.1,1356.7C207.5,1358 203.7,1359.3 201.2,1360.6C198.7,1362 195.7,1363.3 194.1,1364.6C192.4,1365.9 191.9,1366.6 191.3,1368.6C190.7,1370.6 190.8,1373.4 190.5,1376.5C190.2,1379.6 189.7,1385.4 189.5,1387.2L189.1,1387.2C188.9,1385.4 188.4,1379.6 188.1,1376.5C187.8,1373.4 187.9,1370.6 187.3,1368.6C186.7,1366.6 186.2,1365.9 184.5,1364.6C182.9,1363.3 179.9,1362 177.4,1360.6C174.9,1359.3 171.1,1358 169.5,1356.7C167.8,1355.3 167.2,1354 167.5,1352.7C167.7,1351.4 169,1349.9 171,1348.7C173.1,1347.5 177.4,1346.6 179.8,1345.6C182.2,1344.5 184.1,1343.6 185.3,1342.4C186.5,1341.2 186.3,1339.5 186.9,1338.4C187.6,1337.4 188.9,1336.4 189.3,1336Z" fill="#e8857a" stroke="#333" stroke-width="1.3" stroke-linejoin="round"/>
<line x1="189.3" y1="1336" x2="189.3" y2="1387.2" stroke="#3a3a3a" stroke-width="1" /><line x1="189.3" y1="1336.8" x2="189.3" y2="1366.6" stroke="#333" stroke-width="4" /><rect x="184.1" y="1347.9" width="10.4" height="8.7" fill="#fff" stroke="#333" stroke-width="1.1"/><line x1="184.1" y1="1352.3" x2="194.5" y2="1352.3" stroke="#333" stroke-width="1.2" />
<path d="M244.8,1334.8C245.2,1335.5 246.2,1337.2 247.2,1338.8C248.2,1340.5 249.2,1342.4 250.8,1344.8C252.3,1347.1 254.7,1350.1 256.7,1352.7C258.8,1355.3 261.5,1358.3 263.1,1360.6C264.6,1362.9 265.7,1364.6 265.8,1366.6C266,1368.6 265.4,1370.2 263.8,1372.5C262.3,1374.9 258.9,1377.8 256.7,1380.5C254.5,1383.1 252.3,1385.8 250.8,1388.4C249.2,1391.1 248.4,1393.7 247.6,1396.3C246.8,1399 246.3,1399 246,1404.3C245.7,1409.6 245.8,1417 245.6,1428.1C245.4,1439.2 245.1,1463.8 245,1471L244.6,1471C244.5,1463.8 244.2,1439.2 244,1428.1C243.8,1417 243.9,1409.6 243.6,1404.3C243.3,1399 242.8,1399 242,1396.3C241.2,1393.7 240.4,1391.1 238.8,1388.4C237.3,1385.8 235.1,1383.1 232.9,1380.5C230.7,1377.8 227.3,1374.9 225.8,1372.5C224.2,1370.2 223.6,1368.6 223.8,1366.6C223.9,1364.6 225,1362.9 226.5,1360.6C228.1,1358.3 230.8,1355.3 232.9,1352.7C234.9,1350.1 237.3,1347.1 238.8,1344.8C240.4,1342.4 241.4,1340.5 242.4,1338.8C243.4,1337.2 244.4,1335.5 244.8,1334.8Z" fill="#2c4f8c" stroke="#333" stroke-width="1.3" stroke-linejoin="round"/>
<line x1="244.8" y1="1334.8" x2="244.8" y2="1471" stroke="#3a3a3a" stroke-width="1" /><rect x="239.6" y="1357.5" width="10.4" height="16.3" fill="#fff" stroke="#333" stroke-width="1.1"/><line x1="239.6" y1="1364.6" x2="250" y2="1364.6" stroke="#333" stroke-width="1.2" />
<path d="M357.5,1338C357.8,1339.1 358.3,1342.3 359.1,1344.8C359.9,1347.2 360.4,1350.1 362.3,1352.7C364.1,1355.3 367.8,1358.3 370.2,1360.6C372.6,1362.9 375.1,1364.7 376.5,1366.6C378,1368.4 378.9,1370.1 378.9,1371.7C378.9,1373.4 378.3,1374.4 376.5,1376.5C374.8,1378.6 370.9,1381.8 368.6,1384.4C366.4,1387.1 364.4,1389.7 363.1,1392.4C361.7,1395 361,1397 360.3,1400.3C359.6,1403.6 359,1406.3 358.7,1412.2C358.4,1418.2 358.5,1430.1 358.7,1436C358.9,1442 359.2,1444.3 359.9,1447.9C360.5,1451.6 362.1,1454.9 362.7,1457.9C363.3,1460.8 363.5,1463.6 363.5,1465.8C363.5,1468 363.7,1469.8 362.7,1471C361.7,1472.1 358.4,1472.3 357.5,1472.5L357.5,1472.5C356.6,1472.3 353.3,1472.1 352.3,1471C351.3,1469.8 351.5,1468 351.5,1465.8C351.5,1463.6 351.7,1460.8 352.3,1457.9C352.9,1454.9 354.5,1451.6 355.1,1447.9C355.8,1444.3 356.1,1442 356.3,1436C356.5,1430.1 356.6,1418.2 356.3,1412.2C356,1406.3 355.4,1403.6 354.7,1400.3C354,1397 353.3,1395 351.9,1392.4C350.6,1389.7 348.6,1387.1 346.4,1384.4C344.1,1381.8 340.2,1378.6 338.5,1376.5C336.7,1374.4 336.1,1373.4 336.1,1371.7C336.1,1370.1 337,1368.4 338.5,1366.6C339.9,1364.7 342.4,1362.9 344.8,1360.6C347.2,1358.3 350.9,1355.3 352.7,1352.7C354.6,1350.1 355.1,1347.2 355.9,1344.8C356.7,1342.3 357.2,1339.1 357.5,1338Z" fill="#e8857a" stroke="#333" stroke-width="1.3" stroke-linejoin="round"/>
<line x1="357.5" y1="1338" x2="357.5" y2="1472.5" stroke="#3a3a3a" stroke-width="1" /><rect x="352.3" y="1366.6" width="10.4" height="25" fill="#fff" stroke="#333" stroke-width="1.1"/><line x1="352.3" y1="1374.5" x2="362.7" y2="1374.5" stroke="#333" stroke-width="1.2" />
<path d="M507.9,1335.6C508.2,1336.8 508.7,1340.3 509.5,1342.8C510.3,1345.3 510.9,1347.7 512.7,1350.7C514.4,1353.7 517.4,1357.7 519.8,1360.6C522.2,1363.6 525.3,1366.1 526.9,1368.6C528.6,1371.1 529.7,1373.4 529.7,1375.7C529.7,1378 528.7,1379.7 526.9,1382.5C525.2,1385.2 521.3,1388.7 519,1392.4C516.8,1396 514.8,1399.7 513.5,1404.3C512.1,1408.9 511.7,1414.9 511.1,1420.2C510.5,1425.4 510,1430.7 509.9,1436C509.8,1441.3 510.1,1447.3 510.3,1451.9C510.5,1456.5 511,1460.8 511.1,1463.8C511.1,1466.8 511.2,1468.3 510.7,1469.8C510.1,1471.2 508.4,1472.1 507.9,1472.5L507.9,1472.5C507.4,1472.1 505.7,1471.2 505.1,1469.8C504.6,1468.3 504.7,1466.8 504.7,1463.8C504.8,1460.8 505.3,1456.5 505.5,1451.9C505.7,1447.3 506,1441.3 505.9,1436C505.8,1430.7 505.3,1425.4 504.7,1420.2C504.1,1414.9 503.7,1408.9 502.3,1404.3C501,1399.7 499,1396 496.8,1392.4C494.5,1388.7 490.6,1385.2 488.9,1382.5C487.1,1379.7 486.1,1378 486.1,1375.7C486.1,1373.4 487.2,1371.1 488.9,1368.6C490.5,1366.1 493.6,1363.6 496,1360.6C498.4,1357.7 501.4,1353.7 503.1,1350.7C504.9,1347.7 505.5,1345.3 506.3,1342.8C507.1,1340.3 507.6,1336.8 507.9,1335.6Z" fill="#e8857a" stroke="#333" stroke-width="1.3" stroke-linejoin="round"/>
<line x1="507.9" y1="1335.6" x2="507.9" y2="1472.5" stroke="#3a3a3a" stroke-width="1" /><rect x="502.7" y="1371.7" width="10.4" height="33.3" fill="#fff" stroke="#333" stroke-width="1.1"/><line x1="502.7" y1="1383.3" x2="513.1" y2="1383.3" stroke="#333" stroke-width="1.2" />
<path d="M591.7,1334.8C592.2,1335.3 593.6,1336 594.9,1337.6C596.2,1339.3 597.9,1342.2 599.6,1344.8C601.4,1347.3 603.4,1349.7 605.2,1352.7C607,1355.7 609.2,1359 610.4,1362.6C611.5,1366.3 612.4,1370.9 612.3,1374.5C612.3,1378.2 611.3,1380.8 610,1384.4C608.6,1388.1 606.3,1391.7 604.4,1396.3C602.5,1401 600.4,1406.9 598.8,1412.2C597.3,1417.5 596.1,1422.8 595.3,1428.1C594.4,1433.4 594.1,1438.7 593.7,1444C593.2,1449.3 592.8,1455.5 592.5,1459.8C592.2,1464.1 592,1468.1 591.9,1469.8L591.5,1469.8C591.4,1468.1 591.2,1464.1 590.9,1459.8C590.6,1455.5 590.2,1449.3 589.7,1444C589.3,1438.7 589,1433.4 588.1,1428.1C587.3,1422.8 586.1,1417.5 584.6,1412.2C583,1406.9 580.9,1401 579,1396.3C577.1,1391.7 574.8,1388.1 573.4,1384.4C572.1,1380.8 571.1,1378.2 571.1,1374.5C571,1370.9 571.9,1366.3 573,1362.6C574.2,1359 576.4,1355.7 578.2,1352.7C580,1349.7 582,1347.3 583.8,1344.8C585.5,1342.2 587.2,1339.3 588.5,1337.6C589.8,1336 591.2,1335.3 591.7,1334.8Z" fill="#2c4f8c" stroke="#333" stroke-width="1.3" stroke-linejoin="round"/>
<line x1="591.7" y1="1334.8" x2="591.7" y2="1469.8" stroke="#3a3a3a" stroke-width="1" /><rect x="586.5" y="1364.6" width="10.4" height="32.9" fill="#fff" stroke="#333" stroke-width="1.1"/><line x1="586.5" y1="1379.7" x2="596.9" y2="1379.7" stroke="#333" stroke-width="1.2" />
<path d="M675.9,1334.8C676.4,1335.5 677.6,1336.8 679.1,1338.8C680.5,1340.8 682.8,1343.8 684.6,1346.7C686.5,1349.7 688.6,1353 690.2,1356.7C691.8,1360.3 693.1,1364.6 694.2,1368.6C695.2,1372.5 696,1376.5 696.5,1380.5C697.1,1384.4 697.5,1387.8 697.3,1392.4C697.2,1397 696,1403.6 695.7,1408.3C695.5,1412.9 696,1416.9 695.7,1420.2C695.5,1423.5 695.5,1425.8 694.2,1428.1C692.8,1430.4 690.2,1432.2 687.8,1434C685.4,1435.9 681.9,1437.9 679.9,1439.2C677.9,1440.5 676.6,1441.5 675.9,1442L675.9,1442C675.2,1441.5 673.9,1440.5 671.9,1439.2C669.9,1437.9 666.4,1435.9 664,1434C661.6,1432.2 659,1430.4 657.6,1428.1C656.3,1425.8 656.3,1423.5 656.1,1420.2C655.8,1416.9 656.3,1412.9 656.1,1408.3C655.8,1403.6 654.6,1397 654.5,1392.4C654.3,1387.8 654.7,1384.4 655.3,1380.5C655.8,1376.5 656.6,1372.5 657.6,1368.6C658.7,1364.6 660,1360.3 661.6,1356.7C663.2,1353 665.3,1349.7 667.2,1346.7C669,1343.8 671.3,1340.8 672.7,1338.8C674.2,1336.8 675.4,1335.5 675.9,1334.8Z" fill="#e8857a" stroke="#333" stroke-width="1.3" stroke-linejoin="round"/>
<line x1="675.9" y1="1334.8" x2="675.9" y2="1442" stroke="#3a3a3a" stroke-width="1" /><rect x="670.7" y="1371.3" width="10.4" height="42.9" fill="#fff" stroke="#333" stroke-width="1.1"/><line x1="670.7" y1="1391.2" x2="681.1" y2="1391.2" stroke="#333" stroke-width="1.2" />
<path d="M191.7,1600.7C192.2,1601.7 192.9,1604.4 194.9,1606.7C196.9,1609 200.8,1612.3 203.6,1614.6C206.4,1616.9 210,1619 211.5,1620.6C213.1,1622.1 212.9,1622.6 212.7,1623.7C212.6,1624.9 212.4,1625.5 210.7,1627.3C209.1,1629.1 205.2,1632.3 202.8,1634.4C200.4,1636.6 198.3,1638.6 196.5,1640.4C194.6,1642.2 192.5,1644.4 191.7,1645.2L191.7,1645.2C190.9,1644.4 188.8,1642.2 186.9,1640.4C185.1,1638.6 183,1636.6 180.6,1634.4C178.2,1632.3 174.3,1629.1 172.7,1627.3C171,1625.5 170.8,1624.9 170.7,1623.7C170.5,1622.6 170.3,1622.1 171.9,1620.6C173.4,1619 177,1616.9 179.8,1614.6C182.6,1612.3 186.5,1609 188.5,1606.7C190.5,1604.4 191.2,1601.7 191.7,1600.7Z" fill="#e8857a" stroke="#333" stroke-width="1.3" stroke-linejoin="round"/>
<line x1="191.7" y1="1600.7" x2="191.7" y2="1644.4" stroke="#333" stroke-width="4" /><rect x="186.5" y="1615.4" width="10.4" height="13.9" fill="#fff" stroke="#333" stroke-width="1.1"/><line x1="186.5" y1="1623.7" x2="196.9" y2="1623.7" stroke="#333" stroke-width="1.2" />
<path d="M246.8,1579.7C247.8,1580.2 250.4,1581.3 252.8,1582.9C255.1,1584.4 258.4,1586.8 260.7,1588.8C263,1590.8 265.4,1593.1 266.6,1594.8C267.9,1596.4 268.4,1597.4 268.2,1598.7C268.1,1600.1 267.8,1601 265.8,1602.7C263.9,1604.4 259.1,1606.3 256.7,1608.7C254.3,1611 252.7,1613.6 251.6,1616.6C250.4,1619.6 250.4,1622.9 250,1626.5C249.5,1630.1 249.2,1633.8 248.8,1638.4C248.4,1643 247.9,1649.3 247.6,1654.3C247.3,1659.2 246.9,1665.9 246.8,1668.2L246.8,1668.2C246.7,1665.9 246.3,1659.2 246,1654.3C245.7,1649.3 245.2,1643 244.8,1638.4C244.4,1633.8 244.1,1630.1 243.6,1626.5C243.2,1622.9 243.2,1619.6 242,1616.6C240.9,1613.6 239.3,1611 236.9,1608.7C234.5,1606.3 229.7,1604.4 227.8,1602.7C225.8,1601 225.5,1600.1 225.4,1598.7C225.2,1597.4 225.7,1596.4 227,1594.8C228.2,1593.1 230.6,1590.8 232.9,1588.8C235.2,1586.8 238.5,1584.4 240.8,1582.9C243.2,1581.3 245.8,1580.2 246.8,1579.7Z" fill="#2c4f8c" stroke="#333" stroke-width="1.3" stroke-linejoin="round"/>
<line x1="246.8" y1="1579.7" x2="246.8" y2="1668.2" stroke="#3a3a3a" stroke-width="1" /><line x1="246.8" y1="1611.4" x2="246.8" y2="1638.4" stroke="#333" stroke-width="4" /><rect x="241.6" y="1594.8" width="10.4" height="16.7" fill="#fff" stroke="#333" stroke-width="1.1"/><line x1="241.6" y1="1604.7" x2="252" y2="1604.7" stroke="#333" stroke-width="1.2" />
<path d="M359.9,1605.5C360.2,1606.7 360.9,1610.1 361.9,1612.6C362.9,1615.1 363.5,1617.9 365.9,1620.6C368.2,1623.2 373.2,1626 375.8,1628.5C378.4,1630.9 381,1633.3 381.3,1635.2C381.7,1637.2 379.7,1638.2 377.8,1640.4C375.8,1642.6 372,1645.7 369.8,1648.3C367.6,1651 366,1653.6 364.7,1656.3C363.3,1658.9 362.7,1662.2 361.9,1664.2C361.1,1666.2 360.2,1667.5 359.9,1668.2L359.9,1668.2C359.6,1667.5 358.7,1666.2 357.9,1664.2C357.1,1662.2 356.5,1658.9 355.1,1656.3C353.8,1653.6 352.2,1651 350,1648.3C347.8,1645.7 344,1642.6 342,1640.4C340.1,1638.2 338.1,1637.2 338.5,1635.2C338.8,1633.3 341.4,1630.9 344,1628.5C346.6,1626 351.6,1623.2 353.9,1620.6C356.3,1617.9 356.9,1615.1 357.9,1612.6C358.9,1610.1 359.6,1606.7 359.9,1605.5Z" fill="#e8857a" stroke="#333" stroke-width="1.3" stroke-linejoin="round"/>
<line x1="359.9" y1="1605.5" x2="359.9" y2="1668.2" stroke="#3a3a3a" stroke-width="1" /><line x1="359.9" y1="1613.8" x2="359.9" y2="1631.3" stroke="#333" stroke-width="4" /><rect x="354.7" y="1631.3" width="10.4" height="15.1" fill="#fff" stroke="#333" stroke-width="1.1"/><line x1="354.7" y1="1638.4" x2="365.1" y2="1638.4" stroke="#333" stroke-width="1.2" />
<path d="M509.9,1591.6C510.1,1592.8 510.4,1596.2 511.1,1598.7C511.8,1601.2 511.8,1604.2 513.9,1606.7C516,1609.2 521,1611.8 523.8,1613.8C526.6,1615.8 529.3,1617.1 530.5,1618.6C531.7,1620 531.7,1620.9 530.9,1622.5C530.1,1624.2 528,1625.8 525.8,1628.5C523.6,1631.1 520,1634.8 517.8,1638.4C515.7,1642.1 514.1,1646.3 513.1,1650.3C512.1,1654.3 512.4,1659.2 511.9,1662.2C511.4,1665.2 510.2,1667.2 509.9,1668.2L509.9,1668.2C509.6,1667.2 508.4,1665.2 507.9,1662.2C507.4,1659.2 507.7,1654.3 506.7,1650.3C505.7,1646.3 504.1,1642.1 502,1638.4C499.8,1634.8 496.2,1631.1 494,1628.5C491.8,1625.8 489.7,1624.2 488.9,1622.5C488.1,1620.9 488.1,1620 489.3,1618.6C490.5,1617.1 493.2,1615.8 496,1613.8C498.8,1611.8 503.8,1609.2 505.9,1606.7C508,1604.2 508,1601.2 508.7,1598.7C509.4,1596.2 509.7,1592.8 509.9,1591.6Z" fill="#e8857a" stroke="#333" stroke-width="1.3" stroke-linejoin="round"/>
<line x1="509.9" y1="1591.6" x2="509.9" y2="1668.2" stroke="#3a3a3a" stroke-width="1" /><line x1="509.9" y1="1636.4" x2="509.9" y2="1664.2" stroke="#333" stroke-width="4" /><rect x="504.7" y="1619.8" width="10.4" height="16.7" fill="#fff" stroke="#333" stroke-width="1.1"/><line x1="504.7" y1="1627.7" x2="515.1" y2="1627.7" stroke="#333" stroke-width="1.2" />
<path d="M594,1583.7C594.3,1584.8 594.8,1587.9 596,1590.8C597.2,1593.6 598.8,1597.7 601.1,1600.7C603.5,1603.7 607.6,1606.3 609.9,1608.7C612.1,1611 613.8,1612.9 614.6,1614.6C615.5,1616.3 615.7,1616.9 615,1618.6C614.4,1620.2 612.3,1621.9 610.7,1624.5C609,1627.2 606.7,1630.8 605.1,1634.4C603.5,1638.1 602.3,1642.4 601.1,1646.3C600,1650.3 598.9,1654.9 598,1658.3C597,1661.6 596.2,1664.5 595.6,1666.2C594.9,1667.8 594.3,1667.8 594,1668.2L594,1668.2C593.7,1667.8 593.1,1667.8 592.4,1666.2C591.8,1664.5 591,1661.6 590,1658.3C589.1,1654.9 588,1650.3 586.9,1646.3C585.7,1642.4 584.5,1638.1 582.9,1634.4C581.3,1630.8 579,1627.2 577.3,1624.5C575.7,1621.9 573.6,1620.2 573,1618.6C572.3,1616.9 572.5,1616.3 573.4,1614.6C574.2,1612.9 575.9,1611 578.1,1608.7C580.4,1606.3 584.5,1603.7 586.9,1600.7C589.2,1597.7 590.8,1593.6 592,1590.8C593.2,1587.9 593.7,1584.8 594,1583.7Z" fill="#2c4f8c" stroke="#333" stroke-width="1.3" stroke-linejoin="round"/>
<line x1="594" y1="1583.7" x2="594" y2="1668.2" stroke="#3a3a3a" stroke-width="1" /><rect x="588.8" y="1612.6" width="10.4" height="26.6" fill="#fff" stroke="#333" stroke-width="3.2"/><line x1="588.8" y1="1625.7" x2="599.2" y2="1625.7" stroke="#333" stroke-width="1.2" />
<path d="M677.8,1595.6C678.1,1596.7 678.5,1599.9 679.4,1602.7C680.3,1605.5 681.4,1609.3 683.4,1612.6C685.3,1615.9 688.9,1619.4 691.3,1622.5C693.7,1625.6 696.4,1629 697.6,1631.3C698.9,1633.6 699.1,1634.6 698.8,1636.4C698.6,1638.3 697.6,1640.1 696.1,1642.4C694.5,1644.7 691.8,1647.7 689.7,1650.3C687.7,1653 685.5,1655.7 683.8,1658.3C682,1660.8 680.4,1663.7 679.4,1665.4C678.4,1667.1 678.1,1667.7 677.8,1668.2L677.8,1668.2C677.5,1667.7 677.2,1667.1 676.2,1665.4C675.2,1663.7 673.6,1660.8 671.8,1658.3C670.1,1655.7 667.9,1653 665.9,1650.3C663.8,1647.7 661.1,1644.7 659.5,1642.4C658,1640.1 657,1638.3 656.8,1636.4C656.5,1634.6 656.7,1633.6 658,1631.3C659.2,1629 661.9,1625.6 664.3,1622.5C666.7,1619.4 670.3,1615.9 672.2,1612.6C674.2,1609.3 675.3,1605.5 676.2,1602.7C677.1,1599.9 677.5,1596.7 677.8,1595.6Z" fill="#e8857a" stroke="#333" stroke-width="1.3" stroke-linejoin="round"/>
<line x1="677.8" y1="1595.6" x2="677.8" y2="1668.2" stroke="#3a3a3a" stroke-width="1" /><rect x="672.6" y="1626.5" width="10.4" height="19.8" fill="#fff" stroke="#333" stroke-width="1.1"/><line x1="672.6" y1="1636.4" x2="683" y2="1636.4" stroke="#333" stroke-width="1.2" />
<path d="M759.7,1334.6C760.3,1335.1 761.4,1336.2 763.1,1338C764.8,1339.7 767.5,1342.6 769.9,1345.2C772.3,1347.8 775.6,1350.5 777.6,1353.7C779.5,1356.9 781.2,1360.4 781.8,1364.3C782.4,1368.2 781.5,1373.5 781,1377.1C780.4,1380.6 778.8,1382.7 778.4,1385.6C778,1388.4 779,1391.2 778.4,1394.1C777.8,1396.9 776.7,1399.8 775,1402.6C773.3,1405.4 770.2,1407.9 768.2,1411.1C766.2,1414.3 764.2,1417.5 763.1,1421.7C762,1426 761.8,1431.3 761.4,1436.6C761,1441.9 760.9,1449.4 761,1453.6C761,1457.9 761.8,1459.6 761.8,1462.1C761.9,1464.6 761.8,1466.9 761.4,1468.5C761,1470.1 760,1471.3 759.7,1471.9L759.7,1471.9C759.4,1471.3 758.4,1470.1 758,1468.5C757.6,1466.9 757.5,1464.6 757.6,1462.1C757.6,1459.6 758.4,1457.9 758.4,1453.6C758.5,1449.4 758.4,1441.9 758,1436.6C757.6,1431.3 757.4,1426 756.3,1421.7C755.2,1417.5 753.2,1414.3 751.2,1411.1C749.2,1407.9 746.1,1405.4 744.4,1402.6C742.7,1399.8 741.6,1396.9 741,1394.1C740.4,1391.2 741.4,1388.4 741,1385.6C740.6,1382.7 739,1380.6 738.4,1377.1C737.9,1373.5 737,1368.2 737.6,1364.3C738.2,1360.4 739.9,1356.9 741.8,1353.7C743.8,1350.5 747.1,1347.8 749.5,1345.2C751.9,1342.6 754.6,1339.7 756.3,1338C758,1336.2 759.1,1335.1 759.7,1334.6Z" fill="#2c4f8c" stroke="#333" stroke-width="1.3" stroke-linejoin="round"/>
<line x1="759.7" y1="1334.6" x2="759.7" y2="1471.9" stroke="#3a3a3a" stroke-width="1" /><rect x="754.5" y="1360.9" width="10.4" height="33.2" fill="#fff" stroke="#333" stroke-width="1.1"/><line x1="754.5" y1="1375.8" x2="764.9" y2="1375.8" stroke="#333" stroke-width="1.2" />
<path d="M843.9,1340.9C844.3,1342.4 845,1346.2 846,1349.4C847,1352.6 848.4,1356.5 849.9,1360.1C851.3,1363.6 853.1,1367.2 855,1370.7C856.8,1374.2 859.3,1377.4 860.9,1381.3C862.5,1385.2 864,1389.8 864.7,1394.1C865.4,1398.3 865.3,1402.6 865.2,1406.8C865,1411.1 864.9,1416 863.9,1419.6C862.9,1423.1 861.3,1425.6 859.2,1428.1C857.2,1430.6 853.7,1432.7 851.6,1434.5C849.4,1436.2 847.7,1437.7 846.5,1438.7C845.2,1439.8 844.3,1440.5 843.9,1440.9L843.9,1440.9C843.5,1440.5 842.6,1439.8 841.3,1438.7C840.1,1437.7 838.4,1436.2 836.2,1434.5C834.1,1432.7 830.6,1430.6 828.6,1428.1C826.5,1425.6 824.9,1423.1 823.9,1419.6C822.9,1416 822.8,1411.1 822.6,1406.8C822.5,1402.6 822.4,1398.3 823.1,1394.1C823.8,1389.8 825.3,1385.2 826.9,1381.3C828.5,1377.4 831,1374.2 832.8,1370.7C834.7,1367.2 836.5,1363.6 837.9,1360.1C839.4,1356.5 840.8,1352.6 841.8,1349.4C842.8,1346.2 843.5,1342.4 843.9,1340.9Z" fill="#e8857a" stroke="#333" stroke-width="1.3" stroke-linejoin="round"/>
<line x1="843.9" y1="1340.9" x2="843.9" y2="1440.9" stroke="#3a3a3a" stroke-width="1" /><rect x="838.7" y="1384.3" width="10.4" height="32.7" fill="#fff" stroke="#333" stroke-width="1.1"/><line x1="838.7" y1="1400.5" x2="849.1" y2="1400.5" stroke="#333" stroke-width="1.2" />
<path d="M928.1,1334.6C928.5,1335.6 929.2,1338.5 930.2,1340.9C931.3,1343.4 932.6,1346.6 934.5,1349.4C936.4,1352.3 939.4,1355.1 941.7,1357.9C944,1360.8 946.7,1363.8 948.1,1366.4C949.4,1369.1 949.9,1371.2 949.8,1373.7C949.7,1376.2 949,1377.9 947.7,1381.3C946.3,1384.7 943.7,1389.1 941.7,1394.1C939.7,1399 937.4,1405.4 935.8,1411.1C934.1,1416.8 932.9,1422.4 931.9,1428.1C930.9,1433.8 930.3,1439.4 929.8,1445.1C929.3,1450.8 929.2,1457.6 929,1462.1C928.7,1466.6 928.2,1470.3 928.1,1471.9L928.1,1471.9C928,1470.3 927.5,1466.6 927.2,1462.1C927,1457.6 926.9,1450.8 926.4,1445.1C925.9,1439.4 925.3,1433.8 924.3,1428.1C923.3,1422.4 922.1,1416.8 920.4,1411.1C918.8,1405.4 916.5,1399 914.5,1394.1C912.5,1389.1 909.9,1384.7 908.5,1381.3C907.2,1377.9 906.5,1376.2 906.4,1373.7C906.3,1371.2 906.8,1369.1 908.1,1366.4C909.5,1363.8 912.2,1360.8 914.5,1357.9C916.8,1355.1 919.8,1352.3 921.7,1349.4C923.6,1346.6 924.9,1343.4 926,1340.9C927,1338.5 927.7,1335.6 928.1,1334.6Z" fill="#2c4f8c" stroke="#333" stroke-width="1.3" stroke-linejoin="round"/>
<line x1="928.1" y1="1334.6" x2="928.1" y2="1471.9" stroke="#3a3a3a" stroke-width="1" /><rect x="922.9" y="1369.4" width="10.4" height="33.2" fill="#fff" stroke="#333" stroke-width="1.1"/><line x1="922.9" y1="1382.2" x2="933.3" y2="1382.2" stroke="#333" stroke-width="1.2" />
<path d="M761.9,1580.3C762.2,1581.5 762.8,1584.9 763.6,1587.5C764.5,1590.2 765.3,1593.2 767,1596C768.7,1598.9 771.4,1601.9 773.8,1604.5C776.2,1607.2 779.8,1609.6 781.5,1611.8C783.2,1613.9 784.2,1615.3 784,1617.3C783.9,1619.3 782.3,1620.8 780.6,1623.7C778.9,1626.5 775.8,1630.4 773.8,1634.3C771.8,1638.2 770,1643.2 768.7,1647.1C767.4,1651 766.9,1654.6 766.2,1657.7C765.4,1660.7 764.7,1663.6 764,1665.3C763.3,1667.1 762.3,1667.8 761.9,1668.3L761.9,1668.3C761.5,1667.8 760.5,1667.1 759.8,1665.3C759.1,1663.6 758.4,1660.7 757.6,1657.7C756.9,1654.6 756.4,1651 755.1,1647.1C753.8,1643.2 752,1638.2 750,1634.3C748,1630.4 744.9,1626.5 743.2,1623.7C741.5,1620.8 739.9,1619.3 739.8,1617.3C739.6,1615.3 740.6,1613.9 742.3,1611.8C744,1609.6 747.6,1607.2 750,1604.5C752.4,1601.9 755.1,1598.9 756.8,1596C758.5,1593.2 759.3,1590.2 760.2,1587.5C761,1584.9 761.6,1581.5 761.9,1580.3Z" fill="#2c4f8c" stroke="#333" stroke-width="1.3" stroke-linejoin="round"/>
<line x1="761.9" y1="1580.3" x2="761.9" y2="1668.3" stroke="#3a3a3a" stroke-width="1" /><rect x="756.7" y="1612.2" width="10.4" height="24.2" fill="#fff" stroke="#333" stroke-width="1.1"/><line x1="756.7" y1="1621.5" x2="767.1" y2="1621.5" stroke="#333" stroke-width="1.2" />
<path d="M846,1595.2C846.3,1596.4 846.7,1599.8 847.7,1602.4C848.7,1605 850.1,1608.1 852,1610.9C853.8,1613.8 856.5,1616.6 858.8,1619.4C861,1622.3 864.1,1625.4 865.6,1627.9C867,1630.4 867.7,1632.2 867.7,1634.3C867.7,1636.4 867,1638.2 865.6,1640.7C864.1,1643.2 861,1646.3 858.8,1649.2C856.6,1652 854.1,1655 852.4,1657.7C850.6,1660.4 849.2,1663.6 848.1,1665.3C847.1,1667.1 846.4,1667.8 846,1668.3L846,1668.3C845.6,1667.8 844.9,1667.1 843.9,1665.3C842.8,1663.6 841.4,1660.4 839.6,1657.7C837.9,1655 835.4,1652 833.2,1649.2C831,1646.3 827.9,1643.2 826.4,1640.7C825,1638.2 824.3,1636.4 824.3,1634.3C824.3,1632.2 825,1630.4 826.4,1627.9C827.9,1625.4 831,1622.3 833.2,1619.4C835.5,1616.6 838.2,1613.8 840,1610.9C841.9,1608.1 843.3,1605 844.3,1602.4C845.3,1599.8 845.7,1596.4 846,1595.2Z" fill="#e8857a" stroke="#333" stroke-width="1.3" stroke-linejoin="round"/>
<line x1="846" y1="1595.2" x2="846" y2="1668.3" stroke="#3a3a3a" stroke-width="1" /><rect x="840.8" y="1625.8" width="10.4" height="19.1" fill="#fff" stroke="#333" stroke-width="1.1"/><line x1="840.8" y1="1634.7" x2="851.2" y2="1634.7" stroke="#333" stroke-width="1.2" />
<path d="M930.2,1579C931.6,1579.5 935.7,1580.6 938.7,1582C941.7,1583.4 945.9,1585.5 948.1,1587.5C950.3,1589.5 951.6,1592 951.9,1593.9C952.2,1595.8 951.4,1596.9 949.8,1599C948.1,1601.1 944.4,1604 942.1,1606.7C939.8,1609.4 937.7,1611.6 936.2,1615.2C934.6,1618.7 933.5,1623 932.8,1627.9C932,1632.9 932,1639.3 931.9,1644.9C931.8,1650.6 932.2,1658 931.9,1661.9C931.6,1665.8 930.5,1667.3 930.2,1668.3L930.2,1668.3C929.9,1667.3 928.8,1665.8 928.5,1661.9C928.2,1658 928.6,1650.6 928.5,1644.9C928.4,1639.3 928.4,1632.9 927.6,1627.9C926.9,1623 925.8,1618.7 924.2,1615.2C922.7,1611.6 920.6,1609.4 918.3,1606.7C916,1604 912.3,1601.1 910.6,1599C909,1596.9 908.2,1595.8 908.5,1593.9C908.8,1592 910.1,1589.5 912.3,1587.5C914.5,1585.5 918.7,1583.4 921.7,1582C924.7,1580.6 928.8,1579.5 930.2,1579Z" fill="#2c4f8c" stroke="#333" stroke-width="1.3" stroke-linejoin="round"/>
<line x1="930.2" y1="1579" x2="930.2" y2="1668.3" stroke="#3a3a3a" stroke-width="1" /><rect x="925" y="1590.9" width="10.4" height="21.7" fill="#fff" stroke="#333" stroke-width="3.2"/><line x1="925" y1="1600.3" x2="935.4" y2="1600.3" stroke="#333" stroke-width="1.2" />
<text x="1023.8" y="1515.3" font-size="26.5" textLength="92.2" lengthAdjust="spacingAndGlyphs" >Method</text>
<rect x="1022.8" y="1530.3" width="23.6" height="23" fill="#ef8078" stroke="#2a2a2a" stroke-width="1.3"/>
<rect x="1022.8" y="1567" width="23.6" height="23.3" fill="#234f8c" stroke="#1a1a1a" stroke-width="1.3"/>
<text x="1059.9" y="1548.4" font-size="21.8" textLength="89.3" lengthAdjust="spacingAndGlyphs" >UDA-seq</text>
<text x="1059.9" y="1585.4" font-size="21.8" textLength="34.9" lengthAdjust="spacingAndGlyphs" >10x</text>
<text x="0" y="1977.8" font-size="37" textLength="14.2" lengthAdjust="spacingAndGlyphs" font-weight="bold" stroke="#000" stroke-width="0.9">f</text>
<text x="96.5" y="1946.8" font-size="26.5" textLength="82.3" lengthAdjust="spacingAndGlyphs" >Frozen</text>
<text x="88.6" y="1977.5" font-size="26.5" textLength="104.8" lengthAdjust="spacingAndGlyphs" >(2 years)</text>
<text x="234.7" y="1946.8" font-size="26.5" textLength="82.3" lengthAdjust="spacingAndGlyphs" >Frozen</text>
<text x="212.7" y="1977.5" font-size="26.5" textLength="133.6" lengthAdjust="spacingAndGlyphs" >(6 months)</text>
<text x="373.6" y="1946.8" font-size="26.5" textLength="66.2" lengthAdjust="spacingAndGlyphs" >Fresh</text>
<text x="368.7" y="1977.5" font-size="26.5" textLength="76" lengthAdjust="spacingAndGlyphs" >frozen</text>
<text x="59.9" y="2013" font-size="26.5" textLength="59.8" lengthAdjust="spacingAndGlyphs" >Cells</text>
<text x="137.7" y="2014.1" font-size="22.3" textLength="63.6" lengthAdjust="spacingAndGlyphs" >11,943</text>
<text x="209.5" y="2014.1" font-size="22.3" textLength="58.8" lengthAdjust="spacingAndGlyphs" >8,488</text>
<text x="316.2" y="2014.1" font-size="22.3" textLength="65.4" lengthAdjust="spacingAndGlyphs" >11,309</text>
<text x="398.5" y="2014.1" font-size="22.3" textLength="49.4" lengthAdjust="spacingAndGlyphs" >4,311</text>
<rect x="133.2" y="2022.3" width="346.1" height="359.6" fill="none" stroke="#333" stroke-width="1.5"/>
<line x1="289.6" y1="2027" x2="289.6" y2="2375" stroke="#444" stroke-width="1.1" stroke-dasharray="3.2 3.2"/>
<text x="86.7" y="2120.9" font-size="22.3" textLength="33" lengthAdjust="spacingAndGlyphs" >3.5</text>
<text x="86.7" y="2204.4" font-size="22.3" textLength="33" lengthAdjust="spacingAndGlyphs" >3.0</text>
<text x="86.7" y="2287.8" font-size="22.3" textLength="33" lengthAdjust="spacingAndGlyphs" >2.5</text>
<text x="86.7" y="2371.6" font-size="22.3" textLength="33" lengthAdjust="spacingAndGlyphs" >2.0</text>
<text transform="translate(66.6 2200.8) rotate(-90)" x="-138.8" y="0" font-size="26.5" textLength="277.6" lengthAdjust="spacingAndGlyphs">log<tspan font-size="15" dy="4.5">10</tspan><tspan dy="-4.5"> (detected genes)</tspan></text>
<path d="M170.2,2101.3C170.3,2105.2 170.4,2118.8 170.6,2124.5C170.8,2130.2 170.9,2132 171.3,2135.7C171.8,2139.5 172,2143.2 173.2,2146.9C174.4,2150.7 176.1,2154.4 178.4,2158.2C180.7,2161.9 184.3,2165.6 187,2169.4C189.8,2173.1 193.1,2177.5 194.9,2180.6C196.6,2183.7 197.4,2185.6 197.5,2188.1C197.6,2190.6 197.1,2192.8 195.6,2195.6C194.2,2198.4 191.3,2201.5 188.9,2204.9C186.5,2208.4 183.5,2212.1 181.4,2216.2C179.3,2220.2 177.6,2224.6 176.2,2229.3C174.8,2233.9 173.9,2239.2 173.2,2244.2C172.5,2249.2 172.3,2254.2 172.1,2259.2C171.8,2264.2 171.9,2269.2 171.7,2274.2C171.5,2279.1 171.2,2284.4 170.9,2289.1C170.7,2293.8 170.3,2300 170.2,2302.2L170.2,2302.2C170.1,2300 169.7,2293.8 169.5,2289.1C169.2,2284.4 168.9,2279.1 168.7,2274.2C168.5,2269.2 168.6,2264.2 168.3,2259.2C168.1,2254.2 167.9,2249.2 167.2,2244.2C166.5,2239.2 165.6,2233.9 164.2,2229.3C162.8,2224.6 161.1,2220.2 159,2216.2C156.9,2212.1 153.9,2208.4 151.5,2204.9C149.1,2201.5 146.2,2198.4 144.8,2195.6C143.3,2192.8 142.8,2190.6 142.9,2188.1C143,2185.6 143.8,2183.7 145.5,2180.6C147.3,2177.5 150.6,2173.1 153.4,2169.4C156.1,2165.6 159.7,2161.9 162,2158.2C164.3,2154.4 166,2150.7 167.2,2146.9C168.4,2143.2 168.6,2139.5 169.1,2135.7C169.5,2132 169.6,2130.2 169.8,2124.5C170,2118.8 170.1,2105.2 170.2,2101.3Z" fill="#ef8078" stroke="#333" stroke-width="1.3" stroke-linejoin="round"/>
<line x1="170.2" y1="2101.3" x2="170.2" y2="2302.2" stroke="#3a3a3a" stroke-width="1.1" />
<rect x="166.5" y="2181.4" width="7.4" height="27.3" fill="#fff" stroke="#333" stroke-width="1.1"/>
<rect x="166.5" y="2188.8" width="7.4" height="9.7" fill="#333"/>
<path d="M239.5,2080.3C239.6,2082.7 239.9,2090.3 240.2,2094.6C240.6,2098.8 241.1,2102 241.7,2105.8C242.4,2109.5 243.1,2113.3 244,2117C244.9,2120.8 245.7,2124.5 247,2128.2C248.2,2132 249.7,2135.7 251.5,2139.5C253.2,2143.2 255.8,2147.3 257.5,2150.7C259.1,2154.1 260.5,2157.5 261.2,2160C261.9,2162.5 262.3,2163.5 261.9,2165.6C261.6,2167.8 260.3,2170 259,2173.1C257.6,2176.2 255.5,2180 253.7,2184.4C252,2188.7 250.1,2193.7 248.5,2199.3C246.9,2204.9 245.1,2211.8 244,2218C242.9,2224.3 242.3,2230.5 241.7,2236.7C241.2,2243 241,2248 240.6,2255.4C240.2,2262.9 239.7,2277.3 239.5,2281.6L239.5,2281.6C239.3,2277.3 238.8,2262.9 238.4,2255.4C238,2248 237.8,2243 237.3,2236.7C236.7,2230.5 236.1,2224.3 235,2218C233.9,2211.8 232.1,2204.9 230.5,2199.3C228.9,2193.7 227,2188.7 225.3,2184.4C223.5,2180 221.4,2176.2 220,2173.1C218.7,2170 217.4,2167.8 217.1,2165.6C216.7,2163.5 217.1,2162.5 217.8,2160C218.5,2157.5 219.9,2154.1 221.5,2150.7C223.2,2147.3 225.8,2143.2 227.5,2139.5C229.3,2135.7 230.8,2132 232,2128.2C233.3,2124.5 234.1,2120.8 235,2117C235.9,2113.3 236.6,2109.5 237.3,2105.8C237.9,2102 238.4,2098.8 238.8,2094.6C239.1,2090.3 239.4,2082.7 239.5,2080.3Z" fill="#ef8078" stroke="#333" stroke-width="1.3" stroke-linejoin="round"/>
<line x1="239.5" y1="2080.3" x2="239.5" y2="2281.6" stroke="#3a3a3a" stroke-width="1.1" />
<rect x="235.8" y="2149.9" width="7.4" height="34.4" fill="#fff" stroke="#333" stroke-width="1.1"/>
<rect x="235.8" y="2161.9" width="7.4" height="8.2" fill="#333"/>
<path d="M349.5,2071C349.6,2074.9 349.6,2088.1 349.9,2094.6C350.1,2101 350.5,2104.5 351,2109.5C351.5,2114.5 352,2119.5 352.9,2124.5C353.7,2129.5 354.8,2135.1 356.2,2139.5C357.7,2143.8 359.2,2147.3 361.5,2150.7C363.8,2154.1 367.6,2157.2 370.1,2160C372.6,2162.8 375.2,2165.5 376.4,2167.5C377.7,2169.6 378,2170.5 377.6,2172.4C377.1,2174.3 375.9,2176.1 373.8,2178.7C371.8,2181.4 367.7,2184.7 365.2,2188.1C362.7,2191.5 360.6,2195 358.9,2199.3C357.1,2203.7 355.8,2209.3 354.7,2214.3C353.7,2219.3 353.1,2223.6 352.5,2229.3C351.9,2234.9 351.4,2240.5 351,2248C350.6,2255.4 350.5,2263.1 350.2,2274.2C350,2285.3 349.6,2307.8 349.5,2314.6L349.5,2314.6C349.4,2307.8 349,2285.3 348.8,2274.2C348.5,2263.1 348.4,2255.4 348,2248C347.6,2240.5 347.1,2234.9 346.5,2229.3C345.9,2223.6 345.3,2219.3 344.3,2214.3C343.2,2209.3 341.9,2203.7 340.1,2199.3C338.4,2195 336.3,2191.5 333.8,2188.1C331.3,2184.7 327.2,2181.4 325.2,2178.7C323.1,2176.1 321.9,2174.3 321.4,2172.4C321,2170.5 321.3,2169.6 322.6,2167.5C323.8,2165.5 326.4,2162.8 328.9,2160C331.4,2157.2 335.2,2154.1 337.5,2150.7C339.8,2147.3 341.3,2143.8 342.8,2139.5C344.2,2135.1 345.3,2129.5 346.1,2124.5C347,2119.5 347.5,2114.5 348,2109.5C348.5,2104.5 348.9,2101 349.1,2094.6C349.4,2088.1 349.4,2074.9 349.5,2071Z" fill="#234f8c" stroke="#333" stroke-width="1.3" stroke-linejoin="round"/>
<line x1="349.5" y1="2071" x2="349.5" y2="2314.6" stroke="#3a3a3a" stroke-width="1.1" />
<rect x="345.8" y="2161.9" width="7.4" height="28.1" fill="#fff" stroke="#333" stroke-width="1.1"/>
<rect x="345.8" y="2170.1" width="7.4" height="7.9" fill="#333"/>
<path d="M423.2,2049.7C423.3,2052.8 423.6,2062.8 423.9,2068.4C424.3,2074 424.7,2078.3 425.4,2083.3C426.2,2088.3 427.4,2093.9 428.4,2098.3C429.4,2102.7 430.4,2105.8 431.4,2109.5C432.4,2113.3 432.8,2117 434.4,2120.8C436,2124.5 439,2128.9 441.2,2132C443.3,2135.1 445.8,2137.2 447.5,2139.5C449.2,2141.8 451.2,2143.6 451.3,2145.8C451.3,2148 449.8,2149.9 447.9,2152.6C446,2155.2 442.4,2158.5 440,2161.9C437.7,2165.3 435.6,2168.8 433.7,2173.1C431.7,2177.5 429.8,2183.1 428.4,2188.1C427.1,2193.1 426.1,2197.5 425.4,2203.1C424.8,2208.7 424.6,2213 424.3,2221.8C424,2230.5 423.8,2243.4 423.6,2255.4C423.4,2267.5 423.3,2287.6 423.2,2294L423.2,2294C423.1,2287.6 423,2267.5 422.8,2255.4C422.6,2243.4 422.4,2230.5 422.1,2221.8C421.8,2213 421.6,2208.7 421,2203.1C420.3,2197.5 419.3,2193.1 418,2188.1C416.6,2183.1 414.7,2177.5 412.7,2173.1C410.8,2168.8 408.7,2165.3 406.4,2161.9C404,2158.5 400.4,2155.2 398.5,2152.6C396.6,2149.9 395.1,2148 395.1,2145.8C395.2,2143.6 397.2,2141.8 398.9,2139.5C400.6,2137.2 403.1,2135.1 405.2,2132C407.4,2128.9 410.4,2124.5 412,2120.8C413.6,2117 414,2113.3 415,2109.5C416,2105.8 417,2102.7 418,2098.3C419,2093.9 420.2,2088.3 421,2083.3C421.7,2078.3 422.1,2074 422.5,2068.4C422.8,2062.8 423.1,2052.8 423.2,2049.7Z" fill="#234f8c" stroke="#333" stroke-width="1.3" stroke-linejoin="round"/>
<line x1="423.2" y1="2049.7" x2="423.2" y2="2294" stroke="#3a3a3a" stroke-width="1.1" />
<rect x="419.5" y="2129" width="7.4" height="26.2" fill="#fff" stroke="#333" stroke-width="1.1"/>
<rect x="419.5" y="2139.5" width="7.4" height="8.2" fill="#333"/>
<text transform="translate(175.9 2069.5) rotate(-32)" x="-29" y="0" font-size="22" textLength="58" lengthAdjust="spacingAndGlyphs" style="fill:#f39410">1,089</text>
<text transform="translate(238.7 2068.5) rotate(-32)" x="-29" y="0" font-size="22" textLength="58" lengthAdjust="spacingAndGlyphs" style="fill:#f39410">1,588</text>
<text transform="translate(339.7 2053.5) rotate(-32)" x="-29" y="0" font-size="22" textLength="58" lengthAdjust="spacingAndGlyphs" style="fill:#20288e">1,429</text>
<text transform="translate(417.6 2054.7) rotate(-32)" x="-29" y="0" font-size="22" textLength="58" lengthAdjust="spacingAndGlyphs" style="fill:#20288e">2,180</text>
<text transform="translate(183.9 2407.2) rotate(-45)" x="-56.2" y="0" font-size="21" textLength="56.2" lengthAdjust="spacingAndGlyphs">Kit_v2</text>
<text transform="translate(256.9 2406.8) rotate(-45)" x="-56.2" y="0" font-size="21" textLength="56.2" lengthAdjust="spacingAndGlyphs">Kit_v2</text>
<text transform="translate(356.7 2405.4) rotate(-45)" x="-56.2" y="0" font-size="21" textLength="56.2" lengthAdjust="spacingAndGlyphs">Kit_v1</text>
<text transform="translate(430.4 2406.8) rotate(-45)" x="-56.2" y="0" font-size="21" textLength="56.2" lengthAdjust="spacingAndGlyphs">Kit_v2</text>
<text x="215.9" y="2491.2" font-size="26.5" textLength="179.6" lengthAdjust="spacingAndGlyphs" >PBMC (5′-RNA)</text>
<text x="495.8" y="2176.9" font-size="26.5" textLength="92.4" lengthAdjust="spacingAndGlyphs" >Method</text>
<rect x="494.9" y="2192.8" width="23" height="22.2" fill="#ef8078" stroke="#2a2a2a" stroke-width="1.3"/>
<rect x="494.9" y="2229.5" width="23" height="22.8" fill="#234f8c" stroke="#1a1a1a" stroke-width="1.3"/>
<text x="532" y="2209.4" font-size="21.8" textLength="89.1" lengthAdjust="spacingAndGlyphs" >UDA-seq</text>
<text x="532" y="2246.8" font-size="21.8" textLength="34.8" lengthAdjust="spacingAndGlyphs" >10x</text>
<text x="672.3" y="1976.7" font-size="37" textLength="22.8" lengthAdjust="spacingAndGlyphs" font-weight="bold" stroke="#000" stroke-width="0.9">g</text>
<text x="859.7" y="2008.6" font-size="26.5" textLength="50.4" lengthAdjust="spacingAndGlyphs" >BCR</text>
<text x="1063.5" y="2008.6" font-size="26.5" textLength="49.1" lengthAdjust="spacingAndGlyphs" >TCR</text>
<rect x="810.6" y="2137.4" width="37.9" height="230.9" fill="#ef8078" stroke="#333" stroke-width="1.1"/>
<text x="813.1" y="2131.8" font-size="22.3" textLength="33" lengthAdjust="spacingAndGlyphs" >0.8</text>
<rect x="871.8" y="2099.9" width="37.9" height="268.4" fill="#ef8078" stroke="#333" stroke-width="1.1"/>
<text x="867.2" y="2096.5" font-size="22.3" textLength="47" lengthAdjust="spacingAndGlyphs" >0.93</text>
<rect x="933" y="2085.7" width="37.9" height="282.6" fill="#234f8c" stroke="#333" stroke-width="1.1"/>
<text x="928.4" y="2079.7" font-size="22.3" textLength="47" lengthAdjust="spacingAndGlyphs" >0.98</text>
<rect x="1008.8" y="2241.2" width="38.3" height="129.7" fill="#ef8078" stroke="#333" stroke-width="1.1"/>
<text x="1004.2" y="2233.9" font-size="22.3" textLength="47" lengthAdjust="spacingAndGlyphs" >0.45</text>
<rect x="1070" y="2197.7" width="38.3" height="173.2" fill="#ef8078" stroke="#333" stroke-width="1.1"/>
<text x="1072.4" y="2190" font-size="22.3" textLength="33" lengthAdjust="spacingAndGlyphs" >0.6</text>
<rect x="1131.6" y="2105.5" width="37.9" height="265.4" fill="#234f8c" stroke="#333" stroke-width="1.1"/>
<text x="1127" y="2096" font-size="22.3" textLength="47" lengthAdjust="spacingAndGlyphs" >0.92</text>
<rect x="775.3" y="2025.8" width="411" height="356.7" fill="none" stroke="#333" stroke-width="1.5"/>
<line x1="991.1" y1="2031" x2="991.1" y2="2374" stroke="#444" stroke-width="1.1" stroke-dasharray="3.2 3.2"/>
<line x1="775.3" y1="2081.8" x2="781.5" y2="2081.8" stroke="#333" stroke-width="1.3" />
<text x="716.9" y="2088.7" font-size="22.3" textLength="45" lengthAdjust="spacingAndGlyphs" >1.00</text>
<line x1="775.3" y1="2170.1" x2="781.5" y2="2170.1" stroke="#333" stroke-width="1.3" />
<text x="716.9" y="2161.1" font-size="22.3" textLength="45" lengthAdjust="spacingAndGlyphs" >0.75</text>
<line x1="775.3" y1="2226.2" x2="781.5" y2="2226.2" stroke="#333" stroke-width="1.3" />
<text x="716.9" y="2233.1" font-size="22.3" textLength="45" lengthAdjust="spacingAndGlyphs" >0.50</text>
<line x1="775.3" y1="2298.4" x2="781.5" y2="2298.4" stroke="#333" stroke-width="1.3" />
<text x="716.9" y="2305.3" font-size="22.3" textLength="45" lengthAdjust="spacingAndGlyphs" >0.25</text>
<line x1="775.3" y1="2370.4" x2="781.5" y2="2370.4" stroke="#333" stroke-width="1.3" />
<text x="761.9" y="2377.3" font-size="22.3" text-anchor="end" >0</text>
<text transform="translate(692.6 2204.6) rotate(-90)" x="-90.5" y="0" font-size="26.5" textLength="181" lengthAdjust="spacingAndGlyphs">Detection ratio</text>
<text transform="translate(834.3 2406.9) rotate(-45)" x="-56" y="0" font-size="21" textLength="56" lengthAdjust="spacingAndGlyphs">Kit_v2</text>
<text transform="translate(891.7 2404.9) rotate(-45)" x="-56" y="0" font-size="21" textLength="56" lengthAdjust="spacingAndGlyphs">Kit_v3</text>
<text transform="translate(954.1 2406.2) rotate(-45)" x="-56" y="0" font-size="21" textLength="56" lengthAdjust="spacingAndGlyphs">Kit_v2</text>
<text transform="translate(1026.9 2406.2) rotate(-45)" x="-56" y="0" font-size="21" textLength="56" lengthAdjust="spacingAndGlyphs">Kit_v2</text>
<text transform="translate(1091.3 2404.9) rotate(-45)" x="-56" y="0" font-size="21" textLength="56" lengthAdjust="spacingAndGlyphs">Kit_v3</text>
<text transform="translate(1159.1 2406.2) rotate(-45)" x="-56" y="0" font-size="21" textLength="56" lengthAdjust="spacingAndGlyphs">Kit_v2</text>
<text x="910.1" y="2492.4" font-size="26.5" textLength="142.2" lengthAdjust="spacingAndGlyphs" >PBMC (VDJ)</text>
<text x="1197.9" y="2177.9" font-size="26.5" textLength="93.5" lengthAdjust="spacingAndGlyphs" >Method</text>
<rect x="1197.4" y="2192.4" width="23" height="22.8" fill="#ef8078" stroke="#2a2a2a" stroke-width="1.3"/>
<rect x="1197.4" y="2229.8" width="23" height="22.8" fill="#234f8c" stroke="#1a1a1a" stroke-width="1.3"/>
<text x="1235.4" y="2210.2" font-size="21.8" textLength="88.3" lengthAdjust="spacingAndGlyphs" >UDA-seq</text>
<text x="1235.4" y="2247.7" font-size="21.8" textLength="34.5" lengthAdjust="spacingAndGlyphs" >10x</text>
<text x="1210.2" y="1181.5" font-size="37" textLength="22.4" lengthAdjust="spacingAndGlyphs" font-weight="bold" stroke="#000" stroke-width="0.9">h</text>
<defs><filter id="rough" x="-5%" y="-5%" width="110%" height="110%" color-interpolation-filters="sRGB"><feTurbulence type="fractalNoise" baseFrequency="0.42" numOctaves="2" seed="3" result="n"/><feDisplacementMap in="SourceGraphic" in2="n" scale="9" xChannelSelector="R" yChannelSelector="G" result="d"/><feTurbulence type="fractalNoise" baseFrequency="0.7" numOctaves="1" seed="8" result="t"/><feColorMatrix in="t" type="matrix" values="0 0 0 0 1  0 0 0 0 1  0 0 0 0 1  0 0 0 7 -3.9" result="sp"/><feComposite in="sp" in2="d" operator="in" result="sp2"/><feMerge><feMergeNode in="d"/><feMergeNode in="sp2"/></feMerge></filter><linearGradient id="mg" gradientUnits="userSpaceOnUse" x1="1582" y1="0" x2="1668" y2="0"><stop offset="0" stop-color="#ec80ee" stop-opacity="0.05"/><stop offset="0.45" stop-color="#ec80ee" stop-opacity="0.5"/><stop offset="1" stop-color="#ec80ee" stop-opacity="1"/></linearGradient></defs>
<g filter="url(#rough)">
<clipPath id="bclip"><path d="M1258.1,1465.2C1260.9,1459.5 1264.5,1450.2 1270.9,1445.4C1277.2,1440.5 1287.4,1437.8 1296.4,1436.3C1305.3,1434.8 1316.2,1434.8 1324.7,1436.3C1333.2,1437.8 1339.8,1443.1 1347.4,1445.4C1355,1447.6 1361.6,1448.4 1370.1,1449.6C1378.6,1450.8 1389,1451.6 1398.4,1452.4C1407.9,1453.2 1419.9,1452.8 1426.8,1454.4C1433.6,1456.1 1437.9,1459.1 1439.5,1462.4C1441.2,1465.7 1440.2,1471.4 1436.7,1474.3C1433.1,1477.1 1423.7,1477.6 1418.3,1479.4C1412.8,1481.2 1407.9,1482.7 1404.1,1485C1400.3,1487.4 1394.6,1491.4 1395.6,1493.5C1396.5,1495.7 1404.6,1497.8 1409.8,1497.8C1414.9,1497.8 1420.6,1494.7 1426.8,1493.5C1432.9,1492.4 1443.3,1488.8 1446.6,1490.7C1449.9,1492.6 1449,1501.1 1446.6,1504.9C1444.2,1508.7 1437.6,1511.5 1432.4,1513.4C1427.2,1515.3 1421.1,1514.8 1415.4,1516.2C1409.8,1517.6 1402.2,1519 1398.4,1521.9C1394.6,1524.7 1394.6,1528 1392.7,1533.2C1390.9,1538.4 1389,1546.4 1387.1,1553.1C1385.2,1559.7 1384.7,1566.3 1381.4,1572.9C1378.1,1579.5 1372.4,1587.5 1367.2,1592.7C1362,1597.9 1355.9,1600.3 1350.2,1604.1C1344.6,1607.9 1338.4,1610.2 1333.2,1615.4C1328,1620.6 1323.8,1627.7 1319,1635.3C1314.3,1642.8 1309.1,1653.2 1304.9,1660.8C1300.6,1668.3 1297.8,1677.5 1293.5,1680.6C1289.3,1683.7 1284.1,1682.5 1279.4,1679.2C1274.6,1675.9 1269.4,1667.1 1265.2,1660.8C1260.9,1654.4 1258.1,1648 1253.9,1640.9C1249.6,1633.8 1243.9,1625.3 1239.7,1618.3C1235.4,1611.2 1232.1,1604.6 1228.3,1598.4C1224.6,1592.3 1219.8,1587.5 1217,1581.4C1214.2,1575.3 1211.8,1567.2 1211.3,1561.6C1210.9,1555.9 1211.8,1553.1 1214.2,1547.4C1216.5,1541.7 1220.8,1535.1 1225.5,1527.6C1230.2,1520 1237.8,1510.1 1242.5,1502C1247.2,1494 1251.3,1485.5 1253.9,1479.4C1256.5,1473.2 1255.3,1470.9 1258.1,1465.2Z"/></clipPath>
<path d="M1258.1,1465.2C1260.9,1459.5 1264.5,1450.2 1270.9,1445.4C1277.2,1440.5 1287.4,1437.8 1296.4,1436.3C1305.3,1434.8 1316.2,1434.8 1324.7,1436.3C1333.2,1437.8 1339.8,1443.1 1347.4,1445.4C1355,1447.6 1361.6,1448.4 1370.1,1449.6C1378.6,1450.8 1389,1451.6 1398.4,1452.4C1407.9,1453.2 1419.9,1452.8 1426.8,1454.4C1433.6,1456.1 1437.9,1459.1 1439.5,1462.4C1441.2,1465.7 1440.2,1471.4 1436.7,1474.3C1433.1,1477.1 1423.7,1477.6 1418.3,1479.4C1412.8,1481.2 1407.9,1482.7 1404.1,1485C1400.3,1487.4 1394.6,1491.4 1395.6,1493.5C1396.5,1495.7 1404.6,1497.8 1409.8,1497.8C1414.9,1497.8 1420.6,1494.7 1426.8,1493.5C1432.9,1492.4 1443.3,1488.8 1446.6,1490.7C1449.9,1492.6 1449,1501.1 1446.6,1504.9C1444.2,1508.7 1437.6,1511.5 1432.4,1513.4C1427.2,1515.3 1421.1,1514.8 1415.4,1516.2C1409.8,1517.6 1402.2,1519 1398.4,1521.9C1394.6,1524.7 1394.6,1528 1392.7,1533.2C1390.9,1538.4 1389,1546.4 1387.1,1553.1C1385.2,1559.7 1384.7,1566.3 1381.4,1572.9C1378.1,1579.5 1372.4,1587.5 1367.2,1592.7C1362,1597.9 1355.9,1600.3 1350.2,1604.1C1344.6,1607.9 1338.4,1610.2 1333.2,1615.4C1328,1620.6 1323.8,1627.7 1319,1635.3C1314.3,1642.8 1309.1,1653.2 1304.9,1660.8C1300.6,1668.3 1297.8,1677.5 1293.5,1680.6C1289.3,1683.7 1284.1,1682.5 1279.4,1679.2C1274.6,1675.9 1269.4,1667.1 1265.2,1660.8C1260.9,1654.4 1258.1,1648 1253.9,1640.9C1249.6,1633.8 1243.9,1625.3 1239.7,1618.3C1235.4,1611.2 1232.1,1604.6 1228.3,1598.4C1224.6,1592.3 1219.8,1587.5 1217,1581.4C1214.2,1575.3 1211.8,1567.2 1211.3,1561.6C1210.9,1555.9 1211.8,1553.1 1214.2,1547.4C1216.5,1541.7 1220.8,1535.1 1225.5,1527.6C1230.2,1520 1237.8,1510.1 1242.5,1502C1247.2,1494 1251.3,1485.5 1253.9,1479.4C1256.5,1473.2 1255.3,1470.9 1258.1,1465.2Z" fill="#f5a8d2"/>
<g clip-path="url(#bclip)">
<path d="M1353.1,1442.5C1359.7,1440.4 1383.3,1445.8 1398.4,1448.2C1413.5,1450.5 1436.2,1452 1443.8,1456.7C1451.3,1461.4 1448,1472.3 1443.8,1476.5C1439.5,1480.8 1425.8,1482 1418.3,1482.2C1410.7,1482.4 1405.5,1480.1 1398.4,1477.9C1391.3,1475.8 1382.4,1472.3 1375.7,1469.4C1369.1,1466.6 1362.5,1465.4 1358.7,1460.9C1355,1456.5 1346.4,1444.6 1353.1,1442.5Z" fill="#9ee0a0" opacity="0.9"/>
<path d="M1387.1,1485C1397.9,1482.7 1443.8,1479.4 1455.1,1485C1466.4,1490.7 1461.7,1513.4 1455.1,1519C1448.5,1524.7 1424.9,1520 1415.4,1519C1406,1518.1 1402.7,1516.7 1398.4,1513.4C1394.2,1510.1 1391.8,1503.9 1389.9,1499.2C1388,1494.5 1376.2,1487.4 1387.1,1485Z" fill="#d4f4ec" opacity="0.9"/>
<path d="M1236.8,1499.2C1245.8,1496.7 1258.6,1502.9 1270.9,1504.3C1283.1,1505.7 1303.2,1503.8 1310.5,1507.7C1317.9,1511.6 1314.7,1520 1314.8,1527.6C1314.9,1535.1 1311.3,1545 1311.1,1553.1C1311,1561.1 1314.3,1569.8 1313.9,1575.7C1313.6,1581.6 1316.3,1585.9 1309.1,1588.5C1301.9,1591.1 1284.3,1589.9 1270.9,1591.3C1257.4,1592.7 1239.2,1597.7 1228.3,1597C1217.5,1596.3 1209.9,1596.3 1205.7,1587.1C1201.4,1577.9 1200.9,1553.1 1202.8,1541.7C1204.7,1530.4 1211.3,1526.1 1217,1519C1222.7,1512 1227.9,1501.7 1236.8,1499.2Z" fill="#f9c6ba"/>
<path d="M1313.4,1512C1317,1510.8 1326.6,1520 1336.1,1520.5C1345.5,1520.9 1358.7,1514.8 1370.1,1514.8C1381.4,1514.8 1399.4,1516.9 1404.1,1520.5C1408.8,1524 1400.3,1529.7 1398.4,1536.1C1396.5,1542.4 1394.6,1551.2 1392.7,1558.7C1390.9,1566.3 1390.9,1573.8 1387.1,1581.4C1383.3,1589 1379,1597 1370.1,1604.1C1361.1,1611.2 1340.8,1623.9 1333.2,1623.9C1325.7,1623.9 1328,1610.7 1324.7,1604.1C1321.4,1597.5 1315.6,1592.7 1313.4,1584.2C1311.1,1575.7 1310.9,1562.5 1311.1,1553.1C1311.3,1543.6 1314.1,1534.4 1314.5,1527.6C1314.9,1520.7 1309.8,1513.1 1313.4,1512Z" fill="#ef92b6"/>
<path d="M1319,1485C1325.2,1478.9 1345.5,1481.3 1358.7,1482.2C1372,1483.1 1392.3,1484.1 1398.4,1490.7C1404.6,1497.3 1402.2,1516.2 1395.6,1521.9C1389,1527.6 1371,1525.2 1358.7,1524.7C1346.4,1524.2 1328.5,1525.7 1321.9,1519C1315.3,1512.4 1312.9,1491.2 1319,1485Z" fill="#ffffff" opacity="0.3"/>
<path d="M1222.7,1598.4C1228.3,1592.8 1256.5,1592.6 1270.9,1590.5C1285.3,1588.4 1300.9,1585.3 1309.1,1585.7C1317.4,1586 1316,1587.3 1320.5,1592.7C1325,1598.2 1335.3,1610.2 1336.1,1618.3C1336.8,1626.3 1329.4,1632.9 1324.7,1640.9C1320,1649 1312.4,1658.9 1307.7,1666.4C1303,1674 1302,1683 1296.4,1686.3C1290.7,1689.6 1280.3,1691.5 1273.7,1686.3C1267.1,1681.1 1262.8,1665.5 1256.7,1655.1C1250.5,1644.7 1242.5,1633.4 1236.8,1623.9C1231.2,1614.5 1217,1604 1222.7,1598.4Z" fill="#80cde2"/>
</g>
<path d="M1496.5,1288.8C1501.6,1286.9 1523.5,1290.8 1539,1290.5C1554.6,1290.3 1578.7,1286.3 1590.1,1287.1C1601.4,1288 1600,1292.5 1607.1,1295.6C1614.2,1298.8 1625.5,1302.7 1632.6,1305.9C1639.7,1309 1648.2,1311.2 1649.6,1314.4C1651,1317.5 1646.8,1322 1641.1,1324.6C1635.4,1327.1 1624.1,1329.4 1615.6,1329.7C1607.1,1329.9 1597.2,1328.5 1590.1,1326.3C1583,1324 1578.7,1318.3 1573.1,1316.1C1567.4,1313.8 1561.7,1312.7 1556.1,1312.7C1550.4,1312.7 1544.1,1316.6 1539,1316.1C1533.9,1315.5 1530.5,1311.5 1525.4,1309.3C1520.3,1307 1513.3,1305.9 1508.4,1302.4C1503.6,1299 1491.4,1290.8 1496.5,1288.8Z" fill="#f6e8bc" opacity="0.5"/>
<path d="M1442.5,1327.4C1443.9,1324.6 1451,1323.6 1456.7,1321.7C1462.4,1319.8 1470.9,1318.9 1476.5,1316.1C1482.2,1313.2 1486.9,1308.5 1490.7,1304.7C1494.5,1300.9 1495.4,1296 1499.2,1293.4C1503,1290.8 1509.1,1289.1 1513.4,1289.1C1517.6,1289.1 1523.8,1290.8 1524.7,1293.4C1525.7,1296 1521.9,1300.9 1519,1304.7C1516.2,1308.5 1512,1312.3 1507.7,1316.1C1503.5,1319.8 1497.3,1323.6 1493.5,1327.4C1489.8,1331.2 1486.9,1335 1485,1338.7C1483.1,1342.5 1482.2,1345.8 1482.2,1350.1C1482.2,1354.3 1483.6,1360 1485,1364.2C1486.5,1368.5 1488.6,1371.6 1490.7,1375.6C1492.8,1379.6 1497.3,1386 1497.8,1388.3C1498.3,1390.7 1496.1,1391.4 1493.5,1389.8C1490.9,1388.1 1486.5,1382.7 1482.2,1378.4C1477.9,1374.2 1472.3,1369 1468,1364.2C1463.8,1359.5 1460,1354.3 1456.7,1350.1C1453.4,1345.8 1450.5,1342.5 1448.2,1338.7C1445.8,1335 1441.1,1330.2 1442.5,1327.4Z" fill="#f5b8f1" opacity="0.9"/>
<path d="M1485,1254.3C1489.6,1252.4 1503.9,1255.9 1513.4,1256.5C1522.8,1257.1 1532.3,1257.5 1541.7,1257.9C1551.2,1258.4 1560.6,1259.6 1570.1,1259.4C1579.5,1259.1 1591.6,1258.2 1598.4,1256.5C1605.3,1254.9 1609.4,1248 1611.2,1249.4C1613,1250.9 1611.3,1260.5 1609.2,1265C1607.1,1269.5 1602.6,1273.1 1598.4,1276.4C1594.3,1279.7 1589,1282.5 1584.2,1284.9C1579.5,1287.2 1575.3,1289.4 1570.1,1290.5C1564.9,1291.7 1558.7,1292.2 1553.1,1292C1547.4,1291.7 1541.7,1289.4 1536.1,1289.1C1530.4,1288.9 1524.7,1290.8 1519,1290.5C1513.4,1290.3 1506.8,1289.6 1502,1287.7C1497.3,1285.8 1493.4,1282.5 1490.7,1279.2C1488,1275.9 1486.8,1272 1485.9,1267.9C1484.9,1263.7 1480.5,1256.2 1485,1254.3Z" fill="#f6e294"/>
<path d="M1478.7,1236.1C1479.5,1233 1480.5,1228.8 1482.9,1225.9C1485.3,1223.1 1489.4,1221.8 1493.1,1219.1C1496.8,1216.4 1500.2,1212 1505,1209.8C1509.9,1207.5 1516.4,1206.8 1522,1205.5C1527.7,1204.2 1533.4,1202.8 1539,1202.1C1544.7,1201.4 1551,1202 1556.1,1201.3C1561.2,1200.5 1565.1,1198.3 1569.7,1197.9C1574.2,1197.4 1578.4,1198.4 1583.3,1198.7C1588.1,1199 1594.6,1197.9 1598.6,1199.6C1602.5,1201.3 1604.8,1205.7 1607.1,1208.9C1609.3,1212.2 1610.6,1215.4 1612.2,1219.1C1613.7,1222.8 1616.1,1227.1 1616.4,1231C1616.7,1235 1615.4,1239.5 1613.9,1242.9C1612.3,1246.3 1609.9,1249.2 1607.1,1251.4C1604.2,1253.7 1600.8,1255.3 1596.9,1256.5C1592.9,1257.8 1588.4,1258.5 1583.3,1259.1C1578.2,1259.6 1571.9,1259.9 1566.3,1259.9C1560.6,1259.9 1554.9,1259.1 1549.3,1259.1C1543.6,1259.1 1537.9,1260.1 1532.2,1259.9C1526.6,1259.8 1520.9,1258.8 1515.2,1258.2C1509.6,1257.7 1503.3,1257.4 1498.2,1256.5C1493.1,1255.7 1488,1255.1 1484.6,1253.1C1481.2,1251.1 1478.8,1247.5 1477.8,1244.6C1476.8,1241.8 1477.8,1239.2 1478.7,1236.1Z" fill="#92ec74"/>
<path d="M1553.1,1361.4C1553.8,1357.2 1555.9,1351 1558.7,1347.2C1561.6,1343.5 1564.4,1341.1 1570.1,1338.7C1575.7,1336.4 1585.2,1334.2 1592.7,1333.1C1600.3,1331.9 1606.9,1331.6 1615.4,1331.6C1623.9,1331.6 1635.7,1330 1643.8,1333.1C1651.8,1336.1 1659.4,1342.5 1663.6,1350.1C1667.9,1357.6 1669.3,1369 1669.3,1378.4C1669.3,1387.9 1666.9,1398.7 1663.6,1406.8C1660.3,1414.8 1655.6,1421.9 1649.4,1426.6C1643.3,1431.3 1634.3,1436.5 1626.8,1435.1C1619.2,1433.7 1611.6,1424.2 1604.1,1418.1C1596.5,1412 1588,1403.9 1581.4,1398.3C1574.8,1392.6 1568.9,1388.3 1564.4,1384.1C1559.9,1379.8 1556.4,1376.5 1554.5,1372.7C1552.6,1369 1552.4,1365.7 1553.1,1361.4Z" fill="#bdeef6" opacity="0.9"/>
<path d="M1616.3,1459.9C1626,1456.2 1652.6,1460.8 1670.7,1459.9C1688.8,1459 1710,1454.4 1725.1,1454.4C1740.2,1454.4 1754.1,1456.2 1761.4,1459.9C1768.7,1463.5 1771.7,1470.4 1768.7,1476.2C1765.6,1481.9 1751.7,1488.9 1743.3,1494.3C1734.8,1499.8 1725.7,1505.8 1717.9,1508.8C1710,1511.9 1704.6,1511.9 1696.1,1512.5C1687.6,1513.1 1677.4,1514.3 1667.1,1512.5C1656.8,1510.7 1643.5,1506.7 1634.4,1501.6C1625.4,1496.4 1615.7,1488.6 1612.7,1481.6C1609.6,1474.7 1606.6,1463.5 1616.3,1459.9Z" fill="#dcd0f4" opacity="0.5"/>
<path d="M1576.4,1398.2C1583,1394.9 1608.1,1400.9 1616.3,1407.3C1624.4,1413.6 1625,1426 1625.4,1436.3C1625.7,1446.6 1622,1462 1618.1,1468.9C1614.2,1475.9 1606.6,1480.4 1601.8,1478C1596.9,1475.6 1593.3,1462.9 1589.1,1454.4C1584.8,1446 1578.5,1436.6 1576.4,1427.2C1574.3,1417.8 1569.7,1401.5 1576.4,1398.2Z" fill="#c6f0f4" opacity="0.6"/>
<path d="M1640.9,1327.4C1647.5,1325.5 1648,1321.3 1655.1,1318.9C1662.2,1316.5 1674,1314.3 1683.4,1313.2C1692.9,1312.2 1703.3,1312.2 1711.8,1312.7C1720.3,1313.1 1728.3,1313.6 1734.5,1316.1C1740.6,1318.5 1745.3,1322.7 1748.6,1327.4C1751.9,1332.1 1753.6,1338.3 1754.3,1344.4C1755,1350.5 1753.4,1357.6 1752.9,1364.2C1752.4,1370.9 1750.8,1378.4 1751.5,1384.1C1752.2,1389.8 1752.9,1394.9 1757.1,1398.3C1761.4,1401.6 1770.4,1402 1777,1403.9C1783.6,1405.8 1791.6,1406.8 1796.8,1409.6C1802,1412.4 1806,1417.6 1808.2,1420.9C1810.3,1424.2 1811.5,1427.1 1809.6,1429.4C1807.7,1431.8 1801.3,1432.7 1796.8,1435.1C1792.3,1437.5 1786,1440.8 1782.7,1443.6C1779.3,1446.4 1777.5,1449.3 1777,1452.1C1776.5,1454.9 1781.2,1458.7 1779.8,1460.6C1778.4,1462.5 1775.1,1463.4 1768.5,1463.4C1761.9,1463.4 1749.6,1462.5 1740.1,1460.6C1730.7,1458.7 1721.2,1454.5 1711.8,1452.1C1702.3,1449.7 1692.9,1448.3 1683.4,1446.4C1674,1444.6 1663.6,1442.7 1655.1,1440.8C1646.6,1438.9 1638.6,1437 1632.4,1435.1C1626.3,1433.2 1622,1432.3 1618.3,1429.4C1614.5,1426.6 1612.6,1422.3 1609.8,1418.1C1606.9,1413.8 1604.1,1409.6 1601.2,1403.9C1598.4,1398.3 1595.1,1391.2 1592.7,1384.1C1590.4,1377 1586.6,1368.5 1587.1,1361.4C1587.5,1354.3 1590.9,1346.8 1595.6,1341.6C1600.3,1336.4 1607.9,1332.6 1615.4,1330.2C1623,1327.9 1634.3,1329.3 1640.9,1327.4Z" fill="url(#mg)"/>
<path d="M1612.7,1410.9C1619.9,1406.7 1636.8,1403.6 1652.6,1403.6C1668.3,1403.6 1688.8,1407 1707,1410.9C1725.1,1414.8 1749.9,1421.2 1761.4,1427.2C1772.9,1433.3 1775.9,1441.7 1775.9,1447.2C1775.9,1452.6 1769.9,1458.7 1761.4,1459.9C1752.9,1461.1 1736,1455.6 1725.1,1454.4C1714.2,1453.2 1705.2,1451.7 1696.1,1452.6C1687,1453.5 1679.5,1458.7 1670.7,1459.9C1661.9,1461.1 1652,1461.4 1643.5,1459.9C1635,1458.4 1625.7,1455.9 1619.9,1450.8C1614.2,1445.7 1610.2,1435.7 1609,1429C1607.8,1422.4 1605.4,1415.1 1612.7,1410.9Z" fill="#ec80ee" opacity="0.5"/>
<path d="M1792.6,1406.8C1794.2,1405.1 1801.1,1406 1803.9,1408.2C1806.7,1410.3 1809.8,1416.9 1809.6,1419.5C1809.3,1422.1 1805.1,1424 1802.5,1423.8C1799.9,1423.5 1795.6,1420.9 1794,1418.1C1792.3,1415.3 1790.9,1408.4 1792.6,1406.8Z" fill="#d6d67a" opacity="0.8"/>
<path d="M1659.8,1476.2C1663.1,1471.4 1674.9,1468.3 1681.6,1468.9C1688.2,1469.5 1697.3,1475 1699.7,1479.8C1702.1,1484.7 1699.7,1493.7 1696.1,1498C1692.5,1502.2 1683.7,1505.2 1678,1505.2C1672.2,1505.2 1664.7,1502.8 1661.6,1498C1658.6,1493.1 1656.5,1481 1659.8,1476.2Z" fill="#a6f2de" opacity="0.8"/>
<path d="M1696.1,1454.4C1696.7,1452.3 1710,1453.8 1717.9,1456.2C1725.7,1458.7 1737.8,1464.4 1743.3,1468.9C1748.7,1473.5 1751.7,1481.6 1750.5,1483.4C1749.3,1485.3 1742.1,1482.2 1736,1479.8C1730,1477.4 1720.9,1473.2 1714.2,1468.9C1707.6,1464.7 1695.5,1456.5 1696.1,1454.4Z" fill="#a4eaa4" opacity="0.5"/>
<path d="M1592.7,1478C1594.5,1473.2 1601.2,1471.7 1603.6,1472.6C1606,1473.5 1607.8,1479.2 1607.2,1483.4C1606.6,1487.7 1602.4,1494.9 1600,1498C1597.5,1501 1593.9,1504.9 1592.7,1501.6C1591.5,1498.3 1590.9,1482.8 1592.7,1478Z" fill="#f09090" opacity="0.6"/>
<path d="M1761.4,1472.6C1774.7,1471.1 1807.4,1469.5 1815.8,1476.2C1824.3,1482.8 1813.7,1503.4 1812.2,1512.5C1810.7,1521.5 1810.7,1524.6 1806.8,1530.6C1802.8,1536.7 1795.6,1543.9 1788.6,1548.8C1781.7,1553.6 1772.6,1557.2 1765,1559.6C1757.5,1562.1 1749.9,1564.2 1743.3,1563.3C1736.6,1562.4 1730,1557.2 1725.1,1554.2C1720.3,1551.2 1717.3,1549.7 1714.2,1545.1C1711.2,1540.6 1708.2,1532.4 1707,1527C1705.8,1521.5 1705.2,1517.3 1707,1512.5C1708.8,1507.6 1713,1502.5 1717.9,1498C1722.7,1493.4 1728.8,1489.5 1736,1485.3C1743.3,1481 1748.1,1474.1 1761.4,1472.6Z" fill="#a9a4ee" opacity="0.7"/>
<path d="M1768.7,1459.9C1771.4,1459.3 1780.8,1464.4 1788.6,1467.1C1796.5,1469.8 1806.8,1474.1 1815.8,1476.2C1824.9,1478.3 1835.5,1477.4 1843,1479.8C1850.6,1482.2 1856.3,1485.9 1861.2,1490.7C1866,1495.5 1870.6,1503.4 1872.1,1508.8C1873.6,1514.3 1872.4,1518.5 1870.2,1523.4C1868.1,1528.2 1863.3,1533.3 1859.4,1537.9C1855.4,1542.4 1850.3,1546.3 1846.7,1550.6C1843,1554.8 1841.2,1559 1837.6,1563.3C1834,1567.5 1830,1572.3 1824.9,1576C1819.8,1579.6 1814.3,1582.9 1806.8,1585C1799.2,1587.2 1788.6,1588.7 1779.5,1588.7C1770.5,1588.7 1760.2,1586.7 1752.3,1585C1744.5,1583.4 1737.5,1582.3 1732.4,1578.7C1727.2,1575.1 1721.5,1568.9 1721.5,1563.3C1721.5,1557.7 1727.2,1550.6 1732.4,1545.1C1737.5,1539.7 1744.5,1534.2 1752.3,1530.6C1760.2,1527 1772,1526.4 1779.5,1523.4C1787.1,1520.3 1794.7,1516.7 1797.7,1512.5C1800.7,1508.2 1799.8,1503.1 1797.7,1498C1795.6,1492.8 1789.2,1486.2 1785,1481.6C1780.8,1477.1 1775,1474.4 1772.3,1470.7C1769.6,1467.1 1765.9,1460.5 1768.7,1459.9Z" fill="#9490ea" opacity="0.9"/>
<path d="M1603.6,1516.1C1608.1,1511.9 1618.4,1510.1 1627.2,1508.8C1635.9,1507.6 1645.9,1507.6 1656.2,1508.8C1666.5,1510.1 1678.6,1513.1 1688.8,1516.1C1699.1,1519.1 1711.8,1522.1 1717.9,1527C1723.9,1531.8 1724.5,1539.1 1725.1,1545.1C1725.7,1551.2 1723.9,1557.2 1721.5,1563.3C1719.1,1569.3 1715.4,1576 1710.6,1581.4C1705.8,1586.8 1699.7,1592.3 1692.5,1595.9C1685.2,1599.5 1675.5,1601.7 1667.1,1603.2C1658.6,1604.7 1649.5,1606.2 1641.7,1605C1633.8,1603.8 1626,1600.5 1619.9,1595.9C1613.9,1591.4 1608.7,1584.4 1605.4,1577.8C1602.1,1571.1 1600.9,1563.3 1600,1556C1599,1548.8 1599.3,1540.9 1600,1534.2C1600.6,1527.6 1599,1520.3 1603.6,1516.1Z" fill="#b3a6e6" opacity="0.7"/>
<path d="M1612.7,1523.4C1616.9,1519.4 1627.8,1517.3 1634.4,1517.9C1641.1,1518.5 1648.9,1522.4 1652.6,1527C1656.2,1531.5 1658,1539.7 1656.2,1545.1C1654.4,1550.6 1647.7,1557.8 1641.7,1559.6C1635.6,1561.5 1625.4,1559 1619.9,1556C1614.5,1553 1610.2,1546.9 1609,1541.5C1607.8,1536.1 1608.4,1527.3 1612.7,1523.4Z" fill="#f0929a" opacity="0.7"/>
<path d="M1656.2,1559.6C1661.6,1556 1673.7,1554.8 1681.6,1556C1689.4,1557.2 1700.3,1561.5 1703.4,1566.9C1706.4,1572.3 1704,1582.9 1699.7,1588.7C1695.5,1594.4 1685.2,1599.8 1678,1601.4C1670.7,1602.9 1661,1601.7 1656.2,1597.7C1651.4,1593.8 1648.9,1584.1 1648.9,1577.8C1648.9,1571.4 1650.7,1563.3 1656.2,1559.6Z" fill="#e2ea84" opacity="0.7"/>
<path d="M1616.3,1597.7C1618.7,1595.9 1629.6,1597.4 1634.4,1599.5C1639.3,1601.7 1645.3,1607.4 1645.3,1610.4C1645.3,1613.5 1638.7,1617.7 1634.4,1617.7C1630.2,1617.7 1622.9,1613.8 1619.9,1610.4C1616.9,1607.1 1613.9,1599.5 1616.3,1597.7Z" fill="#dde86c" opacity="0.8"/>
<path d="M1707,1583.2C1712.1,1582.3 1726.9,1586.8 1736,1588.7C1745.1,1590.5 1758.4,1591.4 1761.4,1594.1C1764.4,1596.8 1760.2,1603.5 1754.1,1605C1748.1,1606.5 1733.3,1605 1725.1,1603.2C1717,1601.4 1708.2,1597.4 1705.2,1594.1C1702.1,1590.8 1701.8,1584.1 1707,1583.2Z" fill="#a4e4e4" opacity="0.7"/>
<path d="M1556,1640.6C1561.7,1626.2 1579.4,1630.6 1590.1,1630.6C1600.8,1630.6 1611.2,1635.6 1620.2,1640.6C1629.2,1645.6 1637.6,1652.3 1644.3,1660.7C1650.9,1669 1657,1680.7 1660.3,1690.8C1663.6,1700.8 1664.3,1712.5 1664.3,1720.8C1664.3,1729.2 1663,1735.6 1660.3,1740.9C1657.6,1746.3 1652.3,1749.6 1648.3,1752.9C1644.3,1756.3 1639.9,1763 1636.2,1761C1632.6,1759 1630.5,1746.9 1626.2,1740.9C1621.9,1734.9 1617.8,1728.2 1610.2,1724.9C1602.5,1721.5 1589.1,1722.2 1580.1,1720.8C1571,1719.5 1560,1730.2 1556,1716.8C1552,1703.5 1550.3,1655 1556,1640.6Z" fill="#ecc4f6" opacity="0.5"/>
<path d="M1626.2,1618.5C1634.2,1617.2 1656.6,1618.2 1664.3,1628.6C1672,1638.9 1672,1665.3 1672.3,1680.7C1672.7,1696.1 1671,1719.2 1666.3,1720.8C1661.6,1722.5 1651.6,1700.8 1644.3,1690.8C1636.9,1680.7 1626.9,1669.7 1622.2,1660.7C1617.5,1651.6 1615.5,1643.6 1616.2,1636.6C1616.8,1629.6 1618.2,1619.9 1626.2,1618.5Z" fill="#b4f4b2" opacity="0.3"/>
<path d="M1750.6,1598.5C1757.3,1595.1 1770.6,1597.1 1780.7,1596.5C1790.7,1595.8 1803.1,1593.8 1810.8,1594.5C1818.4,1595.1 1824.8,1596.1 1826.8,1600.5C1828.8,1604.8 1824.1,1613.9 1822.8,1620.5C1821.5,1627.2 1820.1,1633.9 1818.8,1640.6C1817.4,1647.3 1816.1,1654 1814.8,1660.7C1813.4,1667.3 1812.1,1674 1810.8,1680.7C1809.4,1687.4 1808.4,1694.1 1806.7,1700.8C1805.1,1707.5 1802.7,1714.8 1800.7,1720.8C1798.7,1726.9 1796.7,1731.5 1794.7,1736.9C1792.7,1742.2 1791,1748.6 1788.7,1752.9C1786.3,1757.3 1782.3,1765 1780.7,1763C1779,1761 1779.3,1747.9 1778.7,1740.9C1778,1733.9 1777.7,1727.5 1776.6,1720.8C1775.6,1714.2 1774.3,1707.5 1772.6,1700.8C1771,1694.1 1768.6,1687.4 1766.6,1680.7C1764.6,1674 1762.3,1667 1760.6,1660.7C1758.9,1654.3 1758.6,1648 1756.6,1642.6C1754.6,1637.3 1751.2,1632.9 1748.6,1628.6C1745.9,1624.2 1740.2,1621.5 1740.5,1616.5C1740.9,1611.5 1743.9,1601.8 1750.6,1598.5Z" fill="#cdeefc" opacity="0.7"/>
<path d="M1644.3,1614.5C1647.9,1612.9 1661.3,1612.9 1672.3,1612.5C1683.4,1612.2 1699.1,1611.8 1710.5,1612.5C1721.8,1613.2 1733.5,1613.5 1740.5,1616.5C1747.6,1619.5 1748.9,1626.2 1752.6,1630.6C1756.3,1634.9 1759.9,1637.6 1762.6,1642.6C1765.3,1647.6 1766.3,1654.3 1768.6,1660.7C1771,1667 1774.3,1674 1776.6,1680.7C1779,1687.4 1781,1694.1 1782.7,1700.8C1784.3,1707.5 1785.3,1714.2 1786.7,1720.8C1788,1727.5 1790.4,1734.2 1790.7,1740.9C1791,1747.6 1790.4,1754.9 1788.7,1761C1787,1767 1784,1771.7 1780.7,1777C1777.3,1782.4 1773.3,1787.4 1768.6,1793.1C1763.9,1798.7 1758.6,1805.4 1752.6,1811.1C1746.6,1816.8 1739.2,1822.5 1732.5,1827.2C1725.8,1831.8 1719.8,1836.5 1712.5,1839.2C1705.1,1841.9 1696.4,1843.2 1688.4,1843.2C1680.4,1843.2 1671,1842.2 1664.3,1839.2C1657.6,1836.2 1652.9,1830.5 1648.3,1825.2C1643.6,1819.8 1639.4,1813.8 1636.2,1807.1C1633.1,1800.4 1629.9,1791.4 1629.2,1785C1628.5,1778.7 1629.7,1774 1632.2,1769C1634.7,1764 1640.2,1759 1644.3,1754.9C1648.3,1750.9 1652.9,1747.9 1656.3,1744.9C1659.6,1741.9 1662.6,1740.2 1664.3,1736.9C1666,1733.5 1666.3,1730.9 1666.3,1724.9C1666.3,1718.8 1664,1708.1 1664.3,1700.8C1664.6,1693.4 1666.7,1687.4 1668.3,1680.7C1670,1674 1672.7,1667.3 1674.3,1660.7C1676,1654 1678.7,1645.6 1678.4,1640.6C1678,1635.6 1677,1633.6 1672.3,1630.6C1667.7,1627.6 1655,1625.2 1650.3,1622.5C1645.6,1619.9 1640.6,1616.2 1644.3,1614.5Z" fill="#7ef07c"/>
<path d="M1680.4,1620.5C1691.1,1610.8 1727.2,1615.9 1740.5,1622.5C1753.9,1629.2 1755.3,1644.3 1760.6,1660.7C1766,1677 1776,1707.5 1772.6,1720.8C1769.3,1734.2 1754.2,1739.2 1740.5,1740.9C1726.8,1742.6 1701.1,1740.9 1690.4,1730.9C1679.7,1720.8 1678,1699.1 1676.3,1680.7C1674.7,1662.3 1669.7,1630.2 1680.4,1620.5Z" fill="#ffffff" opacity="0.1"/>
<path d="M1438.1,1655.1C1437.6,1649.4 1438.1,1641.4 1440.9,1635.3C1443.8,1629.1 1448.5,1622.7 1455.1,1618.3C1461.7,1613.8 1471.6,1610.5 1480.6,1608.3C1489.6,1606.2 1499.5,1604.3 1509,1605.5C1518.4,1606.7 1529.3,1611.9 1537.3,1615.4C1545.3,1619 1550.5,1623 1557.1,1626.8C1563.8,1630.5 1570.8,1634.8 1577,1638.1C1583.1,1641.4 1588.8,1640.9 1594,1646.6C1599.2,1652.3 1603,1664.1 1608.2,1672.1C1613.4,1680.1 1620.4,1688.2 1625.2,1694.8C1629.9,1701.4 1636.5,1707.5 1636.5,1711.8C1636.5,1716 1631.8,1718.6 1625.2,1720.3C1618.6,1721.9 1607.2,1721.2 1596.8,1721.7C1586.4,1722.2 1573.2,1722.7 1562.8,1723.1C1552.4,1723.6 1543.9,1726 1534.5,1724.5C1525,1723.1 1515.1,1718.6 1506.1,1714.6C1497.1,1710.6 1488.6,1705.7 1480.6,1700.5C1472.6,1695.3 1464.1,1688.6 1457.9,1683.4C1451.8,1678.3 1447.1,1674 1443.8,1669.3C1440.5,1664.6 1438.6,1660.8 1438.1,1655.1Z" fill="#e284ee"/>
<path d="M1375.7,1713.2C1376.7,1712.7 1381.4,1713.4 1384.2,1714.1C1387.1,1714.7 1392.3,1716.1 1392.7,1716.9C1393.2,1717.7 1389.4,1718.9 1387.1,1718.9C1384.7,1718.9 1380.5,1717.8 1378.6,1716.9C1376.7,1715.9 1374.8,1713.7 1375.7,1713.2Z" fill="#f4a494"/>
<path d="M1421.7,1585.7C1422.4,1585 1425.4,1585 1426.2,1585.7C1426.9,1586.3 1426.9,1588.7 1426.2,1589.3C1425.4,1590 1422.4,1590 1421.7,1589.3C1420.9,1588.7 1420.9,1586.3 1421.7,1585.7Z" fill="#c4f0f8"/>
<path d="M1473.1,1491.2C1475.1,1490.5 1480.6,1489.5 1485,1489.5C1489.5,1489.5 1497.3,1490.6 1499.8,1491.2C1502.2,1491.9 1502.2,1493.3 1499.8,1493.5C1497.3,1493.7 1489.5,1492.3 1485,1492.4C1480.6,1492.5 1475.1,1494.2 1473.1,1494.1C1471.1,1493.9 1471.1,1492 1473.1,1491.2Z" fill="#f8ea7c"/>
<path d="M1522.4,1537.7C1523,1536.2 1526.3,1532.7 1528.1,1531.5C1529.9,1530.2 1532.9,1529.5 1533.2,1530.3C1533.5,1531.2 1531.2,1534.9 1529.8,1536.6C1528.4,1538.3 1525.9,1540.4 1524.7,1540.5C1523.5,1540.7 1521.9,1539.2 1522.4,1537.7Z" fill="#84e8cc"/>
<path d="M1524.7,1524.4C1524.7,1523.3 1527.1,1524.9 1528.1,1526.4C1529.2,1527.8 1531,1532.1 1531,1533.2C1531,1534.2 1529.2,1534.1 1528.1,1532.6C1527.1,1531.1 1524.7,1525.4 1524.7,1524.4Z" fill="#f4ec80"/>
</g>
<path d="M1533.4,1296 l1.4,10 l-1,6 l1.2,7" fill="none" stroke="#9030e0" stroke-width="2.6" stroke-linecap="round"/>
<path d="M1506.8,1424.5 l-0.8,5.5 l-1.5,2.5" fill="none" stroke="#f01c10" stroke-width="3.4" stroke-linecap="round"/>
<circle cx="1511.5" cy="1428" r="1" fill="#ffa500"/><circle cx="1513.5" cy="1426.5" r="0.9" fill="#ffa500"/>
<text x="1519" y="1252.8" font-size="12.3" textLength="58.7" lengthAdjust="spacingAndGlyphs" >NK_BNC2+</text>
<text x="1535.3" y="1276.7" font-size="12.3" textLength="60" lengthAdjust="spacingAndGlyphs" >NK_AOAH+</text>
<text x="1425.4" y="1337.5" font-size="12.3" textLength="58.3" lengthAdjust="spacingAndGlyphs" >NK_CD56+</text>
<text x="1494.2" y="1332.5" font-size="12.3" textLength="105.7" lengthAdjust="spacingAndGlyphs" >NK_CD56+_Cycling</text>
<text x="1502.2" y="1365.6" font-size="12.3" textLength="120.8" lengthAdjust="spacingAndGlyphs" >T_CD4_Activated_CTL</text>
<text x="1571.4" y="1389.5" font-size="12.3" textLength="72.2" lengthAdjust="spacingAndGlyphs" >T_CD8_EMRA</text>
<text x="1677.1" y="1387.4" font-size="12.3" textLength="56.6" lengthAdjust="spacingAndGlyphs" >T_G/D_CM</text>
<text x="1759.3" y="1406.3" font-size="12.3" textLength="90.6" lengthAdjust="spacingAndGlyphs" >T_MAI_Activated</text>
<text x="1461.9" y="1422.3" font-size="12.3" textLength="119.1" lengthAdjust="spacingAndGlyphs" >Lymphoid_Progenitor</text>
<text x="1616.3" y="1431.5" font-size="12.3" textLength="56.6" lengthAdjust="spacingAndGlyphs" >T_CD8_EM</text>
<text x="1767.3" y="1440.7" font-size="12.3" textLength="31.9" lengthAdjust="spacingAndGlyphs" >T_MAI</text>
<text x="1398.1" y="1448.7" font-size="12.3" textLength="232" lengthAdjust="spacingAndGlyphs" >Hematopoietic_Progenitor_CD34+/CD38+</text>
<text x="1636.4" y="1450.4" font-size="12.3" textLength="56.2" lengthAdjust="spacingAndGlyphs" >T_G/D_EM</text>
<text x="1277.3" y="1457.5" font-size="12.3" textLength="115.8" lengthAdjust="spacingAndGlyphs" >B_Switched_Memory</text>
<text x="1563" y="1468.4" font-size="12.3" textLength="120.8" lengthAdjust="spacingAndGlyphs" >T_CD8_EMRA_Cycling</text>
<text x="1699.8" y="1466.3" font-size="12.3" textLength="57.9" lengthAdjust="spacingAndGlyphs" >T_CD8_CM</text>
<text x="1770.7" y="1474.7" font-size="12.3" textLength="86.4" lengthAdjust="spacingAndGlyphs" >T_CD4_Helper_1</text>
<text x="1241.2" y="1486.4" font-size="12.3" textLength="144.7" lengthAdjust="spacingAndGlyphs" >B_Non-Switched_Memory</text>
<text x="1451.4" y="1487.3" font-size="12.3" textLength="66.7" lengthAdjust="spacingAndGlyphs" >Plasma_Cell</text>
<text x="1575.2" y="1485.6" font-size="12.3" textLength="61.2" lengthAdjust="spacingAndGlyphs" >T_CD8_CTL</text>
<text x="1694.3" y="1495.7" font-size="12.3" textLength="56.6" lengthAdjust="spacingAndGlyphs" >T_CD4_EM</text>
<text x="1451.4" y="1506.6" font-size="12.3" textLength="104.9" lengthAdjust="spacingAndGlyphs" >T_Double_Negative</text>
<text x="1563" y="1506.6" font-size="12.3" textLength="117" lengthAdjust="spacingAndGlyphs" >T_G/D_Immature_RTE</text>
<text x="1708.6" y="1519.6" font-size="12.3" textLength="89.8" lengthAdjust="spacingAndGlyphs" >T_CD4_Helper_2</text>
<text x="1457.3" y="1523.4" font-size="12.3" textLength="167.8" lengthAdjust="spacingAndGlyphs" >T_CD8_Activated_CTL_Cycling</text>
<text x="1451.8" y="1539.3" font-size="12.3" textLength="30.2" lengthAdjust="spacingAndGlyphs" >cDC2</text>
<text x="1571" y="1534.7" font-size="12.3" textLength="123.3" lengthAdjust="spacingAndGlyphs" >T_CD4_Naive_IFN_stim</text>
<text x="1751.4" y="1541.4" font-size="12.3" textLength="91.5" lengthAdjust="spacingAndGlyphs" >T_CD4_Helper_0</text>
<text x="1221.1" y="1549.4" font-size="12.3" textLength="81.8" lengthAdjust="spacingAndGlyphs" >B_Naive_AFF3+</text>
<text x="1490.4" y="1553.6" font-size="12.3" textLength="95.2" lengthAdjust="spacingAndGlyphs" >Monocyte_CD14+</text>
<text x="1627.6" y="1553.6" font-size="12.3" textLength="54.1" lengthAdjust="spacingAndGlyphs" >T_Reg_EM</text>
<text x="1770.7" y="1568.2" font-size="12.3" textLength="57.9" lengthAdjust="spacingAndGlyphs" >T_CD4_CM</text>
<text x="1314.2" y="1571.2" font-size="12.3" textLength="87.7" lengthAdjust="spacingAndGlyphs" >B_Naive_FCRL1+</text>
<text x="1504.3" y="1579.6" font-size="12.3" textLength="207.2" lengthAdjust="spacingAndGlyphs" >T_CD4_Naive_Activated_ICOS+CD28+</text>
<text x="1726.6" y="1590.5" font-size="12.3" textLength="134.2" lengthAdjust="spacingAndGlyphs" >T_CD4_Follicular_Helper</text>
<text x="1403.2" y="1601" font-size="12.3" textLength="24.3" lengthAdjust="spacingAndGlyphs" >pDC</text>
<text x="1579.4" y="1599.3" font-size="12.3" textLength="56.6" lengthAdjust="spacingAndGlyphs" >T_Reg_CM</text>
<text x="1648.6" y="1608.9" font-size="12.3" textLength="159.4" lengthAdjust="spacingAndGlyphs" >T_CD4_Naive_TSHZ2+_ICOS+</text>
<text x="1236.2" y="1616.1" font-size="12.3" textLength="103.6" lengthAdjust="spacingAndGlyphs" >B_Naive_COL19A1+</text>
<text x="1748.4" y="1625.7" font-size="12.3" textLength="106.6" lengthAdjust="spacingAndGlyphs" >T_CD4_Naive_IL7R+</text>
<text x="1484.1" y="1661.4" font-size="12.3" textLength="71.3" lengthAdjust="spacingAndGlyphs" >T_CD8_Naive</text>
<text x="1565.9" y="1720.5" font-size="12.3" textLength="152.7" lengthAdjust="spacingAndGlyphs" >T_CD4_Naive_NELL2+_LEF1+</text>
<text x="1323.5" y="1727.2" font-size="12.3" textLength="96.5" lengthAdjust="spacingAndGlyphs" >Monocyte_CD16+</text>
<text x="1645.6" y="1738.1" font-size="12.3" textLength="163.2" lengthAdjust="spacingAndGlyphs" >T_CD4_Naive_TSHZ2+_PLCL1+</text>
<text x="1418.3" y="1206.6" font-size="26.5" textLength="353.2" lengthAdjust="spacingAndGlyphs" >PBMC (UDA, GEM-X 5′ Kit v3)</text>
<text x="1277.3" y="1280.9" font-size="26.5" textLength="159.4" lengthAdjust="spacingAndGlyphs" >150,018 cells</text>
<path d="M1263.9,1814.1 V1860.2 H1307.9" fill="none" stroke="#000" stroke-width="2.4"/>
<text transform="translate(1253.4 1823.2) rotate(-90)" x="-35.6" y="0" font-size="21" textLength="71.3" lengthAdjust="spacingAndGlyphs">UMAP2</text>
<text x="1263.1" y="1888.3" font-size="21" textLength="70" lengthAdjust="spacingAndGlyphs" >UMAP1</text>
<text x="1376" y="1920.9" font-size="37" textLength="10" lengthAdjust="spacingAndGlyphs" font-weight="bold" stroke="#000" stroke-width="0.9">i</text>
<path d="M1650.8,1987.2C1652.1,1982.5 1654,1977.6 1658.1,1973.9C1662.3,1970.2 1669.4,1967.5 1675.8,1965.1C1682.2,1962.6 1689.6,1960.6 1696.5,1959.2C1703.3,1957.7 1710.2,1956 1717.1,1956.2C1724,1956.5 1732.3,1958.4 1737.7,1960.6C1743.1,1962.8 1746.7,1966 1749.5,1969.5C1752.4,1972.9 1754.1,1976.8 1754.8,1981.3C1755.6,1985.7 1755.1,1991.1 1753.9,1996C1752.8,2000.9 1749.5,2006.3 1748.1,2010.7C1746.6,2015.2 1744.4,2019.6 1745.1,2022.5C1745.8,2025.5 1747.8,2026 1752.5,2028.4C1757.1,2030.9 1766.2,2035.1 1773.1,2037.3C1780,2039.5 1785.9,2041 1793.7,2041.7C1801.6,2042.4 1812.9,2040.7 1820.3,2041.7C1827.6,2042.7 1832.8,2044.9 1838,2047.6C1843.1,2050.3 1848.3,2053.7 1851.2,2057.9C1854.2,2062.1 1855.2,2067.7 1855.6,2072.7C1856.1,2077.6 1854.9,2082.5 1854.2,2087.4C1853.4,2092.3 1850.5,2098.4 1851.2,2102.1C1852,2105.8 1854.4,2107.8 1858.6,2109.5C1862.8,2111.2 1870.9,2111.2 1876.3,2112.4C1881.7,2113.7 1887.6,2114.7 1891,2116.9C1894.5,2119.1 1896.7,2122.8 1896.9,2125.7C1897.2,2128.7 1895,2132.1 1892.5,2134.6C1890,2137 1884.9,2138.5 1882.2,2140.5C1879.5,2142.4 1876.3,2144.6 1876.3,2146.3C1876.3,2148.1 1880.2,2150.1 1882.2,2150.8C1884.1,2151.4 1883.7,2149.9 1888.1,2150.3C1892.5,2150.7 1902.3,2151.6 1908.7,2153.3C1915.1,2155 1921.5,2157.5 1926.4,2160.6C1931.3,2163.8 1935.7,2168 1938.2,2172.4C1940.6,2176.9 1941.6,2182.3 1941.1,2187.2C1940.6,2192.1 1938.2,2197 1935.2,2201.9C1932.3,2206.8 1927.4,2211.3 1923.4,2216.7C1919.5,2222.1 1914.4,2227.5 1911.7,2234.3C1909,2241.2 1909.2,2249.1 1907.2,2257.9C1905.3,2266.8 1901.8,2277.6 1899.9,2287.4C1897.9,2297.2 1897.4,2307.1 1895.4,2316.9C1893.5,2326.7 1890.8,2337 1888.1,2346.4C1885.4,2355.7 1883.2,2364.5 1879.2,2372.9C1875.3,2381.2 1869.9,2389.6 1864.5,2396.5C1859.1,2403.4 1853.2,2409.2 1846.8,2414.2C1840.4,2419.1 1833,2423.3 1826.2,2426C1819.3,2428.7 1812.4,2430.6 1805.5,2430.4C1798.7,2430.1 1790.8,2427.2 1784.9,2424.5C1779,2421.8 1774.1,2418.3 1770.2,2414.2C1766.2,2410 1762.8,2404.3 1761.3,2399.4C1759.8,2394.5 1760.6,2389.1 1761.3,2384.7C1762.1,2380.3 1765.7,2377.3 1765.7,2372.9C1765.7,2368.5 1763.5,2363.1 1761.3,2358.2C1759.1,2353.2 1755.9,2346.9 1752.5,2343.4C1749,2340 1745.6,2338 1740.7,2337.5C1735.8,2337 1729.9,2339.5 1723,2340.5C1716.1,2341.4 1707.3,2343.7 1699.4,2343.4C1691.6,2343.2 1683.7,2341.4 1675.8,2339C1668,2336.5 1659.1,2332.9 1652.2,2328.7C1645.4,2324.5 1639.2,2318.8 1634.6,2313.9C1629.9,2309 1626.6,2303.6 1624.2,2299.2C1621.9,2294.8 1620.7,2291.8 1620.4,2287.4C1620.2,2283 1621.4,2277.1 1622.8,2272.7C1624.1,2268.2 1624.7,2264.1 1628.7,2260.9C1632.6,2257.7 1639,2255 1646.3,2253.5C1653.7,2252 1664.5,2251.3 1672.9,2252C1681.2,2252.8 1688.6,2255.5 1696.5,2257.9C1704.3,2260.4 1713.2,2263.8 1720,2266.8C1726.9,2269.7 1733.3,2274.6 1737.7,2275.6C1742.2,2276.6 1743.4,2273.6 1746.6,2272.7C1749.8,2271.7 1754.9,2272.2 1756.9,2269.7C1758.9,2267.3 1759.1,2261.4 1758.4,2257.9C1757.6,2254.5 1755.4,2253 1752.5,2249.1C1749.5,2245.2 1742.6,2239.3 1740.7,2234.3C1738.7,2229.4 1741.2,2225.5 1740.7,2219.6C1740.2,2213.7 1739.2,2206.3 1737.7,2199C1736.3,2191.6 1732.3,2182.3 1731.8,2175.4C1731.3,2168.5 1732.3,2163 1734.8,2157.7C1737.2,2152.4 1743.6,2147.7 1746.6,2143.4C1749.5,2139.1 1752.5,2135 1752.5,2131.6C1752.5,2128.2 1749.5,2125.7 1746.6,2122.8C1743.6,2119.8 1739.7,2116.9 1734.8,2113.9C1729.9,2111 1721.8,2108.5 1717.1,2105.1C1712.4,2101.6 1709,2097.7 1706.8,2093.3C1704.6,2088.9 1703.3,2083.5 1703.8,2078.5C1704.3,2073.6 1707.8,2068.7 1709.7,2063.8C1711.7,2058.9 1716.4,2053 1715.6,2049.1C1714.9,2045.1 1709.5,2040.5 1705.3,2040.2C1701.1,2040 1695,2047.1 1690.6,2047.6C1686.1,2048.1 1682.7,2042.4 1678.8,2043.2C1674.8,2043.9 1669.4,2049.6 1667,2052C1664.5,2054.5 1663.1,2056.4 1664,2057.9C1665,2059.4 1670.7,2058.9 1672.9,2060.9C1675.1,2062.8 1677.3,2066.8 1677.3,2069.7C1677.3,2072.7 1674.6,2075.6 1672.9,2078.5C1671.2,2081.5 1667.7,2084.4 1667,2087.4C1666.2,2090.3 1668.9,2094.3 1668.5,2096.2C1668,2098.2 1666.7,2099.7 1664,2099.2C1661.3,2098.7 1656.2,2095.7 1652.2,2093.3C1648.3,2090.8 1643.9,2087.9 1640.5,2084.4C1637,2081 1634.1,2076.6 1631.6,2072.7C1629.2,2068.7 1627.1,2064.3 1625.7,2060.9C1624.3,2057.4 1622.4,2054.2 1623.4,2052C1624.3,2049.8 1627.8,2049.1 1631.6,2047.6C1635.4,2046.1 1641.9,2044.9 1646.3,2043.2C1650.8,2041.5 1655.2,2039.7 1658.1,2037.3C1661.1,2034.8 1664.3,2031.9 1664,2028.4C1663.8,2025 1659,2021.1 1656.7,2016.6C1654.3,2012.2 1650.9,2006.8 1649.9,2001.9C1648.9,1997 1649.4,1991.8 1650.8,1987.2Z" fill="#e0e0e0"/>
<path d="M1478.3,2172.9C1481.8,2166.1 1482.7,2158.6 1487.2,2152.2C1491.6,2145.9 1498.5,2138.7 1504.9,2134.6C1511.2,2130.4 1517.6,2127.7 1525.5,2127.2C1533.3,2126.7 1543.2,2128.9 1552,2131.6C1560.9,2134.3 1569.7,2140.9 1578.5,2143.4C1587.4,2145.9 1597.2,2145.6 1605.1,2146.3C1612.9,2147.1 1621.8,2146.3 1625.7,2147.8C1629.6,2149.3 1630.1,2152.5 1628.7,2155.2C1627.2,2157.9 1621.8,2161.1 1616.9,2164C1612,2167 1600.2,2170.9 1599.2,2172.9C1598.2,2174.8 1605.6,2175.8 1611,2175.8C1616.4,2175.8 1624.7,2174.8 1631.6,2172.9C1638.5,2170.9 1646.3,2165.8 1652.2,2164C1658.1,2162.3 1664,2161.6 1667,2162.6C1669.9,2163.5 1671.4,2167.2 1669.9,2169.9C1668.5,2172.6 1663.1,2176.3 1658.1,2178.8C1653.2,2181.2 1646.8,2182.7 1640.5,2184.7C1634.1,2186.6 1625.7,2188.4 1619.8,2190.6C1613.9,2192.8 1609,2195.2 1605.1,2197.9C1601.1,2200.6 1598.9,2203.3 1596.2,2206.8C1593.5,2210.2 1591.3,2214.5 1588.9,2218.6C1586.4,2222.7 1585.2,2226.8 1581.5,2231.4C1577.8,2236 1571.7,2241.2 1566.8,2246.1C1561.8,2251 1556.9,2255.5 1552,2260.9C1547.1,2266.3 1541.7,2272.7 1537.3,2278.6C1532.9,2284.5 1528.7,2290.8 1525.5,2296.2C1522.3,2301.7 1521.1,2309 1518.1,2311C1515.2,2313 1511.5,2311 1507.8,2308C1504.1,2305.1 1499.9,2298.7 1496,2293.3C1492.1,2287.9 1488.6,2282 1484.2,2275.6C1479.8,2269.2 1473.7,2261.9 1469.5,2255C1465.3,2248.1 1461.1,2241.2 1459.2,2234.3C1457.2,2227.5 1456.5,2220.6 1457.7,2213.7C1458.9,2206.8 1463.1,2199.9 1466.5,2193.1C1470,2186.3 1474.9,2179.7 1478.3,2172.9Z" fill="#e0e0e0"/>
<ellipse cx="1613.9" cy="2240.2" rx="4.1" ry="2.9" fill="#e0e0e0"/>
<ellipse cx="1583.9" cy="2336" rx="7.7" ry="3.8" fill="#e0e0e0"/>
<ellipse cx="1687.6" cy="2191.6" rx="2.7" ry="2.1" fill="#e0e0e0"/>
<ellipse cx="1712.7" cy="2179.8" rx="2.4" ry="2.1" fill="#e0e0e0"/>
<ellipse cx="1643.4" cy="2175.8" rx="3.5" ry="2.4" fill="#e0e0e0"/>
<ellipse cx="1672.9" cy="2056.4" rx="2.9" ry="2.4" fill="#e0e0e0"/>
<ellipse cx="1684.7" cy="2043.2" rx="2.7" ry="2.1" fill="#e0e0e0"/>
<ellipse cx="1742.2" cy="2279" rx="4.7" ry="6.5" fill="#fff"/>
<ellipse cx="1773.1" cy="2277.5" rx="4.1" ry="4.1" fill="#fff"/>
<ellipse cx="1767.2" cy="2301.1" rx="2.4" ry="2.9" fill="#fff"/>
<ellipse cx="1836.5" cy="2172.9" rx="1.8" ry="2.7" fill="#fff"/>
<circle cx="1678.9" cy="2002.3" r="2.3" fill="#a020f0"/>
<circle cx="1722.7" cy="2001" r="2.3" fill="#a020f0"/>
<circle cx="1709.2" cy="2009.1" r="2.3" fill="#a020f0"/>
<circle cx="1687.7" cy="2015.8" r="2.3" fill="#a020f0"/>
<circle cx="1716.4" cy="2015" r="2.3" fill="#a020f0"/>
<circle cx="1718.5" cy="2020" r="2.3" fill="#a020f0"/>
<circle cx="1721" cy="2019.2" r="2.3" fill="#a020f0"/>
<circle cx="1700.4" cy="2021.3" r="2.3" fill="#a020f0"/>
<circle cx="1734.1" cy="2050" r="2.3" fill="#a020f0"/>
<path d="M1693.2,2026.4 l2,5 l-1.5,6 l1.5,6 l-0.5,5" fill="none" stroke="#a020f0" stroke-width="6.5" stroke-linecap="round" stroke-linejoin="round"/>
<circle cx="1696.1" cy="2028.5" r="3" fill="#a020f0"/>
<rect x="1665" y="2100.3" width="4" height="4" fill="#ffa500"/>
<rect x="1670.1" y="2117.6" width="4" height="4" fill="#ffa500"/>
<rect x="1678.5" y="2121.8" width="4" height="4" fill="#ffa500"/>
<rect x="1680.6" y="2122.6" width="4" height="4" fill="#ffa500"/>
<path d="M1673.8,2122.5 l-1.5,5 l-1,4" fill="none" stroke="#ff0000" stroke-width="5.5" stroke-linecap="round"/>
<circle cx="1743" cy="2161.7" r="2.5" fill="#006400"/>
<circle cx="1792.3" cy="2170.2" r="2.5" fill="#006400"/>
<circle cx="1775.4" cy="2178.6" r="2.5" fill="#006400"/>
<circle cx="1772.5" cy="2183.7" r="2.5" fill="#006400"/>
<circle cx="1774.6" cy="2184.5" r="2.5" fill="#006400"/>
<circle cx="1778.4" cy="2189.2" r="2.5" fill="#006400"/>
<circle cx="1771.2" cy="2182" r="2.5" fill="#006400"/>
<rect x="1767.1" y="2177" width="4" height="4" fill="#a020f0"/>
<text x="1479.8" y="2024.2" font-size="22" textLength="194.8" lengthAdjust="spacingAndGlyphs" >NK_CD56+_Cycling</text>
<text x="1681.8" y="2111.1" font-size="22" textLength="221" lengthAdjust="spacingAndGlyphs" >Lymphoid_Progenitor</text>
<text x="1457" y="2151.2" font-size="22" textLength="429.3" lengthAdjust="spacingAndGlyphs" >Hematopoietic_Progenitor_CD34+/CD38+</text>
<text x="1624.9" y="2207.7" font-size="22" textLength="310.8" lengthAdjust="spacingAndGlyphs" >T_CD8_Activated_CTL_Cycling</text>
<path d="M1453.7,2384 V2430.8 H1498.3" fill="none" stroke="#000" stroke-width="2.4"/>
<text transform="translate(1443.1 2393.7) rotate(-90)" x="-35.9" y="0" font-size="21" textLength="71.7" lengthAdjust="spacingAndGlyphs">UMAP2</text>
<text x="1453.6" y="2458.6" font-size="21" textLength="69.7" lengthAdjust="spacingAndGlyphs" >UMAP1</text>
</svg>
</body></html>
